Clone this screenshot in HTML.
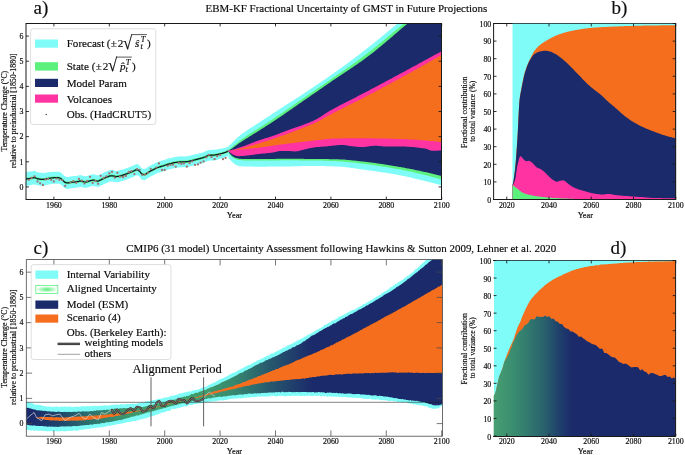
<!DOCTYPE html>
<html lang="en"><head><meta charset="utf-8"><title>EBM-KF Fractional Uncertainty of GMST</title>
<style>html,body{margin:0;padding:0;background:#fff}svg{display:block}text{stroke:#0c0c0c;stroke-width:.17px;stroke-linejoin:round}</style></head>
<body>
<svg width="685" height="455" viewBox="0 0 685 455">
<defs><clipPath id="ca"><rect x="26.0" y="23.5" width="415.5" height="176.0"/></clipPath>
<clipPath id="cb"><rect x="493.6" y="23.5" width="182" height="175.5"/></clipPath>
<clipPath id="cc"><rect x="26.3" y="259.6" width="416.2" height="176.6"/></clipPath>
<clipPath id="cd"><rect x="493.6" y="260.5" width="182" height="175.5"/></clipPath>
<linearGradient id="gc" gradientUnits="userSpaceOnUse" x1="32" y1="0" x2="312" y2="0"><stop offset="0" stop-color="#1b2a6b"/><stop offset="0.1" stop-color="#1f456c"/><stop offset="0.2" stop-color="#2b6f6e"/><stop offset="0.3" stop-color="#398f6f"/><stop offset="0.4" stop-color="#3f9c6d"/><stop offset="0.62" stop-color="#3f9c6d"/><stop offset="0.72" stop-color="#37886f"/><stop offset="0.85" stop-color="#27586e"/><stop offset="1" stop-color="#1b2a6b"/></linearGradient>
<linearGradient id="gd" gradientUnits="userSpaceOnUse" x1="493" y1="0" x2="572" y2="0"><stop offset="0" stop-color="#47a072"/><stop offset="0.3" stop-color="#38896f"/><stop offset="0.65" stop-color="#29616e"/><stop offset="0.85" stop-color="#1f3f6c"/><stop offset="1" stop-color="#1b2a6b"/></linearGradient>
<radialGradient id="gl" cx="0.5" cy="0.5" r="0.5" gradientTransform="translate(0.5 0.5) scale(1 0.8) translate(-0.5 -0.5)"><stop offset="0" stop-color="#5cf07d"/><stop offset="0.35" stop-color="#8df5a4"/><stop offset="1" stop-color="#ffffff"/></radialGradient>
</defs>
<g clip-path="url(#ca)">
<polygon points="26.0,171.9 26.7,171.9 27.4,171.8 28.1,171.8 28.8,171.7 29.5,171.6 30.2,171.5 30.9,171.4 31.6,171.3 32.3,171.2 33.0,171.1 33.7,171.0 34.4,171.0 35.1,171.1 35.8,171.4 36.5,171.7 37.2,172.0 37.9,172.2 38.6,172.4 39.3,172.6 40.0,172.7 40.7,172.8 41.4,172.8 42.1,172.8 42.8,172.9 43.5,172.9 44.2,172.9 44.9,172.9 45.6,172.8 46.3,172.6 47.0,172.4 47.7,172.3 48.4,172.2 49.1,172.1 49.8,172.1 50.5,172.0 51.2,171.9 51.9,171.9 52.6,171.8 53.3,171.7 54.0,171.7 54.7,171.7 55.4,171.7 56.1,171.7 56.8,171.7 57.5,171.7 58.3,171.7 59.0,171.8 59.7,172.0 60.4,172.4 61.1,172.7 61.8,173.4 62.5,174.1 63.2,174.8 63.9,175.5 64.6,176.1 65.3,176.5 66.0,176.7 66.7,176.9 67.4,177.0 68.1,177.0 68.8,176.9 69.5,176.7 70.2,176.5 70.9,176.4 71.6,176.3 72.3,176.2 73.0,176.2 73.7,176.1 74.4,176.1 75.1,176.0 75.8,176.0 76.5,175.9 77.2,175.8 77.9,175.7 78.6,175.6 79.3,175.3 80.0,175.1 80.7,175.2 81.4,175.3 82.1,175.5 82.8,175.7 83.5,175.9 84.2,176.0 84.9,176.2 85.6,176.2 86.3,176.1 87.0,175.9 87.7,175.7 88.4,175.6 89.1,175.3 89.8,175.1 90.5,174.8 91.2,174.7 91.9,174.5 92.6,174.3 93.3,174.3 94.0,174.4 94.7,174.5 95.4,174.7 96.1,174.9 96.8,175.2 97.5,175.4 98.2,175.3 98.9,175.0 99.6,174.6 100.3,174.3 101.0,174.0 101.7,173.7 102.4,173.3 103.1,173.0 103.8,172.7 104.5,172.3 105.2,172.0 105.9,171.7 106.6,171.4 107.3,171.2 108.0,170.9 108.7,170.6 109.4,170.3 110.1,170.1 110.8,170.0 111.5,170.0 112.2,170.1 112.9,170.1 113.6,170.2 114.3,170.5 115.0,170.7 115.7,170.9 116.4,170.9 117.1,170.8 117.8,170.7 118.5,170.6 119.2,170.4 119.9,170.3 120.6,170.1 121.4,169.9 122.1,169.7 122.8,169.5 123.5,169.2 124.2,169.0 124.9,168.8 125.6,168.5 126.3,168.3 127.0,168.0 127.7,167.8 128.4,167.5 129.1,167.2 129.8,166.9 130.5,166.7 131.2,166.4 131.9,166.1 132.6,165.8 133.3,165.6 134.0,165.3 134.7,164.9 135.4,164.5 136.1,164.1 136.8,164.0 137.5,164.2 138.2,164.6 138.9,165.0 139.6,165.5 140.3,166.5 141.0,167.6 141.7,168.3 142.4,168.6 143.1,168.8 143.8,168.9 144.5,169.0 145.2,168.8 145.9,168.4 146.6,168.0 147.3,167.5 148.0,167.0 148.7,166.5 149.4,166.1 150.1,165.7 150.8,165.3 151.5,165.0 152.2,164.6 152.9,164.3 153.6,163.9 154.3,163.6 155.0,163.2 155.7,162.9 156.4,162.5 157.1,162.2 157.8,162.0 158.5,161.7 159.2,161.5 159.9,161.3 160.6,161.1 161.3,160.8 162.0,160.6 162.7,160.4 163.4,160.2 164.1,160.0 164.8,159.8 165.5,159.5 166.2,159.3 166.9,159.0 167.6,158.8 168.3,158.6 169.0,158.5 169.7,158.3 170.4,158.1 171.1,158.0 171.8,157.8 172.5,157.6 173.2,157.4 173.9,157.3 174.6,157.1 175.3,157.0 176.0,156.9 176.7,156.8 177.4,156.7 178.1,156.6 178.8,156.5 179.5,156.5 180.2,156.4 180.9,156.3 181.6,156.3 182.3,156.3 183.0,156.4 183.7,156.4 184.4,156.4 185.2,156.4 185.9,156.3 186.6,156.3 187.3,156.2 188.0,156.1 188.7,156.0 189.4,155.8 190.1,155.6 190.8,155.5 191.5,155.3 192.2,155.1 192.9,154.9 193.6,154.7 194.3,154.6 195.0,154.4 195.7,154.2 196.4,154.0 197.1,153.9 197.8,153.7 198.5,153.5 199.2,153.4 199.9,153.2 200.6,153.0 201.3,152.9 202.0,152.7 202.7,152.5 203.4,152.2 204.1,151.9 204.8,151.6 205.5,151.3 206.2,151.1 206.9,150.8 207.6,150.5 208.3,150.2 209.0,150.0 209.7,150.0 210.4,149.9 211.1,149.9 211.8,149.9 212.5,149.8 213.2,149.8 213.9,149.8 214.6,149.7 215.3,149.6 216.0,149.6 216.7,149.5 217.4,149.4 218.1,149.3 218.8,149.1 219.5,148.9 220.2,148.8 220.9,148.7 221.6,148.5 222.3,148.4 223.0,148.2 223.7,148.1 224.4,147.9 225.1,147.7 225.8,147.5 226.5,147.2 227.2,147.0 227.9,146.7 228.6,146.3 228.6,155.5 227.9,155.9 227.2,156.3 226.5,156.6 225.8,157.0 225.1,157.2 224.4,157.5 223.7,157.8 223.0,158.0 222.3,158.2 221.6,158.4 220.9,158.6 220.2,158.8 219.5,159.1 218.8,159.3 218.1,159.5 217.4,159.8 216.7,159.9 216.0,160.1 215.3,160.2 214.6,160.3 213.9,160.4 213.2,160.4 212.5,160.5 211.8,160.5 211.1,160.5 210.4,160.6 209.7,160.6 209.0,160.7 208.3,160.9 207.6,161.1 206.9,161.4 206.2,161.7 205.5,162.0 204.8,162.3 204.1,162.6 203.4,162.9 202.7,163.2 202.0,163.4 201.3,163.6 200.6,163.8 199.9,163.9 199.2,164.1 198.5,164.3 197.8,164.5 197.1,164.6 196.4,164.8 195.7,165.0 195.0,165.2 194.3,165.3 193.6,165.5 192.9,165.7 192.2,165.9 191.5,166.1 190.8,166.3 190.1,166.5 189.4,166.6 188.7,166.8 188.0,166.9 187.3,167.0 186.6,167.1 185.9,167.2 185.2,167.2 184.4,167.2 183.7,167.2 183.0,167.2 182.3,167.2 181.6,167.2 180.9,167.2 180.2,167.3 179.5,167.4 178.8,167.5 178.1,167.6 177.4,167.7 176.7,167.7 176.0,167.8 175.3,168.0 174.6,168.1 173.9,168.2 173.2,168.4 172.5,168.6 171.8,168.8 171.1,169.0 170.4,169.1 169.7,169.3 169.0,169.5 168.3,169.6 167.6,169.8 166.9,170.0 166.2,170.3 165.5,170.5 164.8,170.8 164.1,171.1 163.4,171.3 162.7,171.5 162.0,171.7 161.3,171.9 160.6,172.1 159.9,172.4 159.2,172.6 158.5,172.8 157.8,173.1 157.1,173.3 156.4,173.6 155.7,174.0 155.0,174.3 154.3,174.7 153.6,175.1 152.9,175.4 152.2,175.8 151.5,176.1 150.8,176.5 150.1,176.8 149.4,177.2 148.7,177.7 148.0,178.2 147.3,178.7 146.6,179.1 145.9,179.6 145.2,180.0 144.5,180.2 143.8,180.1 143.1,180.0 142.4,179.8 141.7,179.6 141.0,178.8 140.3,177.7 139.6,176.8 138.9,176.3 138.2,175.8 137.5,175.5 136.8,175.3 136.1,175.4 135.4,175.8 134.7,176.2 134.0,176.6 133.3,176.9 132.6,177.2 131.9,177.4 131.2,177.7 130.5,178.0 129.8,178.3 129.1,178.6 128.4,178.9 127.7,179.1 127.0,179.4 126.3,179.7 125.6,179.9 124.9,180.2 124.2,180.4 123.5,180.6 122.8,180.9 122.1,181.1 121.4,181.3 120.6,181.5 119.9,181.7 119.2,181.9 118.5,182.0 117.8,182.1 117.1,182.3 116.4,182.3 115.7,182.3 115.0,182.2 114.3,181.9 113.6,181.7 112.9,181.6 112.2,181.6 111.5,181.5 110.8,181.5 110.1,181.6 109.4,181.8 108.7,182.1 108.0,182.4 107.3,182.7 106.6,183.0 105.9,183.3 105.2,183.6 104.5,183.9 103.8,184.2 103.1,184.6 102.4,184.9 101.7,185.2 101.0,185.6 100.3,185.9 99.6,186.2 98.9,186.6 98.2,186.9 97.5,187.0 96.8,186.8 96.1,186.6 95.4,186.4 94.7,186.2 94.0,186.0 93.3,186.0 92.6,186.0 91.9,186.1 91.2,186.3 90.5,186.5 89.8,186.7 89.1,187.0 88.4,187.3 87.7,187.5 87.0,187.6 86.3,187.8 85.6,187.9 84.9,187.9 84.2,187.8 83.5,187.6 82.8,187.4 82.1,187.3 81.4,187.1 80.7,186.9 80.0,186.9 79.3,187.1 78.6,187.4 77.9,187.5 77.2,187.6 76.5,187.7 75.8,187.8 75.1,187.8 74.4,187.9 73.7,187.9 73.0,188.0 72.3,188.1 71.6,188.2 70.9,188.3 70.2,188.4 69.5,188.6 68.8,188.7 68.1,188.9 67.4,188.9 66.7,188.8 66.0,188.6 65.3,188.4 64.6,188.0 63.9,187.4 63.2,186.7 62.5,186.0 61.8,185.3 61.1,184.7 60.4,184.3 59.7,184.0 59.0,183.8 58.3,183.7 57.5,183.7 56.8,183.7 56.1,183.7 55.4,183.7 54.7,183.7 54.0,183.7 53.3,183.8 52.6,183.9 51.9,184.0 51.2,184.1 50.5,184.2 49.8,184.4 49.1,184.5 48.4,184.6 47.7,184.8 47.0,184.9 46.3,185.1 45.6,185.4 44.9,185.5 44.2,185.6 43.5,185.6 42.8,185.7 42.1,185.7 41.4,185.7 40.7,185.7 40.0,185.7 39.3,185.6 38.6,185.5 37.9,185.3 37.2,185.2 36.5,185.0 35.8,184.7 35.1,184.4 34.4,184.4 33.7,184.5 33.0,184.6 32.3,184.7 31.6,184.9 30.9,185.1 30.2,185.2 29.5,185.4 28.8,185.5 28.1,185.6 27.4,185.7 26.7,185.8 26.0,185.9" fill="#7ffcf7"/>
<polygon points="26.0,177.6 26.7,177.6 27.4,177.5 28.1,177.4 28.8,177.3 29.5,177.2 30.2,177.1 30.9,176.9 31.6,176.8 32.3,176.7 33.0,176.5 33.7,176.4 34.4,176.4 35.1,176.5 35.8,176.7 36.5,177.0 37.2,177.3 37.9,177.5 38.6,177.6 39.3,177.8 40.0,177.9 40.7,178.0 41.4,178.0 42.1,178.0 42.8,178.0 43.5,178.0 44.2,178.0 44.9,177.9 45.6,177.8 46.3,177.6 47.0,177.4 47.7,177.2 48.4,177.1 49.1,177.0 49.8,176.9 50.5,176.8 51.2,176.7 51.9,176.6 52.6,176.5 53.3,176.5 54.0,176.4 54.7,176.4 55.4,176.4 56.1,176.4 56.8,176.4 57.5,176.4 58.3,176.4 59.0,176.5 59.7,176.7 60.4,177.0 61.1,177.4 61.8,178.0 62.5,178.7 63.2,179.4 63.9,180.1 64.6,180.8 65.3,181.1 66.0,181.3 66.7,181.5 67.4,181.6 68.1,181.6 68.8,181.5 69.5,181.3 70.2,181.2 70.9,181.0 71.6,180.9 72.3,180.8 73.0,180.8 73.7,180.7 74.4,180.7 75.1,180.6 75.8,180.6 76.5,180.5 77.2,180.4 77.9,180.3 78.6,180.2 79.3,179.9 80.0,179.7 80.7,179.8 81.4,179.9 82.1,180.1 82.8,180.3 83.5,180.4 84.2,180.6 84.9,180.7 85.6,180.8 86.3,180.7 87.0,180.5 87.7,180.3 88.4,180.1 89.1,179.9 89.8,179.6 90.5,179.4 91.2,179.2 91.9,179.0 92.6,178.9 93.3,178.8 94.0,178.9 94.7,179.1 95.4,179.2 96.1,179.4 96.8,179.7 97.5,179.9 98.2,179.8 98.9,179.5 99.6,179.1 100.3,178.8 101.0,178.5 101.7,178.1 102.4,177.8 103.1,177.5 103.8,177.1 104.5,176.8 105.2,176.5 105.9,176.2 106.6,175.9 107.3,175.6 108.0,175.4 108.7,175.1 109.4,174.8 110.1,174.5 110.8,174.5 111.5,174.5 112.2,174.5 112.9,174.6 113.6,174.7 114.3,174.9 115.0,175.1 115.7,175.3 116.4,175.3 117.1,175.2 117.8,175.1 118.5,175.0 119.2,174.9 119.9,174.7 120.6,174.5 121.4,174.3 122.1,174.1 122.8,173.9 123.5,173.6 124.2,173.4 124.9,173.2 125.6,172.9 126.3,172.7 127.0,172.4 127.7,172.2 128.4,171.9 129.1,171.6 129.8,171.3 130.5,171.0 131.2,170.7 131.9,170.5 132.6,170.2 133.3,169.9 134.0,169.6 134.7,169.2 135.4,168.8 136.1,168.5 136.8,168.4 137.5,168.5 138.2,168.9 138.9,169.3 139.6,169.9 140.3,170.8 141.0,171.9 141.7,172.6 142.4,172.9 143.1,173.1 143.8,173.2 144.5,173.3 145.2,173.1 145.9,172.7 146.6,172.3 147.3,171.8 148.0,171.3 148.7,170.8 149.4,170.4 150.1,170.0 150.8,169.6 151.5,169.2 152.2,168.9 152.9,168.6 153.6,168.2 154.3,167.8 155.0,167.5 155.7,167.1 156.4,166.8 157.1,166.5 157.8,166.2 158.5,166.0 159.2,165.7 159.9,165.5 160.6,165.3 161.3,165.1 162.0,164.9 162.7,164.7 163.4,164.5 164.1,164.2 164.8,164.0 165.5,163.7 166.2,163.5 166.9,163.2 167.6,163.0 168.3,162.8 169.0,162.7 169.7,162.5 170.4,162.3 171.1,162.2 171.8,162.0 172.5,161.8 173.2,161.6 173.9,161.4 174.6,161.3 175.3,161.2 176.0,161.1 176.7,161.0 177.4,160.9 178.1,160.8 178.8,160.7 179.5,160.6 180.2,160.5 180.9,160.5 181.6,160.5 182.3,160.5 183.0,160.5 183.7,160.5 184.4,160.5 185.2,160.5 185.9,160.4 186.6,160.4 187.3,160.3 188.0,160.2 188.7,160.1 189.4,159.9 190.1,159.8 190.8,159.6 191.5,159.4 192.2,159.2 192.9,159.0 193.6,158.8 194.3,158.7 195.0,158.5 195.7,158.3 196.4,158.1 197.1,158.0 197.8,157.8 198.5,157.6 199.2,157.4 199.9,157.3 200.6,157.1 201.3,156.9 202.0,156.7 202.7,156.5 203.4,156.3 204.1,156.0 204.8,155.7 205.5,155.4 206.2,155.1 206.9,154.8 207.6,154.5 208.3,154.2 209.0,154.1 209.7,154.0 210.4,153.9 211.1,153.9 211.8,153.9 212.5,153.9 213.2,153.8 213.9,153.8 214.6,153.7 215.3,153.6 216.0,153.5 216.7,153.4 217.4,153.3 218.1,153.1 218.8,152.9 219.5,152.7 220.2,152.5 220.9,152.4 221.6,152.2 222.3,152.0 223.0,151.8 223.7,151.6 224.4,151.4 225.1,151.2 225.8,150.9 226.5,150.6 227.2,150.3 227.9,150.0 228.6,149.6 228.6,152.2 227.9,152.6 227.2,152.9 226.5,153.2 225.8,153.5 225.1,153.8 224.4,154.0 223.7,154.2 223.0,154.4 222.3,154.6 221.6,154.8 220.9,155.0 220.2,155.1 219.5,155.3 218.8,155.5 218.1,155.7 217.4,155.9 216.7,156.0 216.0,156.1 215.3,156.2 214.6,156.3 213.9,156.4 213.2,156.4 212.5,156.5 211.8,156.5 211.1,156.5 210.4,156.5 209.7,156.6 209.0,156.7 208.3,156.8 207.6,157.1 206.9,157.4 206.2,157.7 205.5,158.0 204.8,158.3 204.1,158.6 203.4,158.9 202.7,159.1 202.0,159.3 201.3,159.5 200.6,159.7 199.9,159.9 199.2,160.0 198.5,160.2 197.8,160.4 197.1,160.6 196.4,160.7 195.7,160.9 195.0,161.1 194.3,161.3 193.6,161.4 192.9,161.6 192.2,161.8 191.5,162.0 190.8,162.2 190.1,162.4 189.4,162.5 188.7,162.7 188.0,162.8 187.3,162.9 186.6,163.0 185.9,163.0 185.2,163.1 184.4,163.1 183.7,163.1 183.0,163.1 182.3,163.1 181.6,163.1 180.9,163.1 180.2,163.1 179.5,163.2 178.8,163.3 178.1,163.4 177.4,163.5 176.7,163.6 176.0,163.7 175.3,163.8 174.6,163.9 173.9,164.0 173.2,164.2 172.5,164.4 171.8,164.6 171.1,164.8 170.4,164.9 169.7,165.1 169.0,165.3 168.3,165.4 167.6,165.6 166.9,165.8 166.2,166.1 165.5,166.3 164.8,166.6 164.1,166.8 163.4,167.1 162.7,167.3 162.0,167.5 161.3,167.7 160.6,167.9 159.9,168.1 159.2,168.3 158.5,168.6 157.8,168.8 157.1,169.1 156.4,169.4 155.7,169.7 155.0,170.1 154.3,170.4 153.6,170.8 152.9,171.2 152.2,171.5 151.5,171.8 150.8,172.2 150.1,172.6 149.4,173.0 148.7,173.4 148.0,173.9 147.3,174.4 146.6,174.9 145.9,175.3 145.2,175.7 144.5,175.9 143.8,175.8 143.1,175.7 142.4,175.5 141.7,175.2 141.0,174.5 140.3,173.4 139.6,172.5 138.9,171.9 138.2,171.5 137.5,171.1 136.8,171.0 136.1,171.1 135.4,171.4 134.7,171.8 134.0,172.2 133.3,172.5 132.6,172.8 131.9,173.1 131.2,173.3 130.5,173.6 129.8,173.9 129.1,174.2 128.4,174.5 127.7,174.8 127.0,175.0 126.3,175.3 125.6,175.5 124.9,175.8 124.2,176.0 123.5,176.2 122.8,176.5 122.1,176.7 121.4,176.9 120.6,177.1 119.9,177.3 119.2,177.5 118.5,177.6 117.8,177.7 117.1,177.8 116.4,177.9 115.7,177.9 115.0,177.7 114.3,177.5 113.6,177.3 112.9,177.2 112.2,177.1 111.5,177.1 110.8,177.1 110.1,177.1 109.4,177.4 108.7,177.7 108.0,178.0 107.3,178.2 106.6,178.5 105.9,178.8 105.2,179.1 104.5,179.4 103.8,179.7 103.1,180.1 102.4,180.4 101.7,180.7 101.0,181.1 100.3,181.4 99.6,181.7 98.9,182.1 98.2,182.4 97.5,182.5 96.8,182.3 96.1,182.0 95.4,181.8 94.7,181.7 94.0,181.5 93.3,181.4 92.6,181.5 91.9,181.6 91.2,181.8 90.5,182.0 89.8,182.2 89.1,182.5 88.4,182.7 87.7,182.9 87.0,183.1 86.3,183.3 85.6,183.4 84.9,183.3 84.2,183.2 83.5,183.0 82.8,182.9 82.1,182.7 81.4,182.5 80.7,182.4 80.0,182.3 79.3,182.5 78.6,182.8 77.9,182.9 77.2,183.0 76.5,183.1 75.8,183.2 75.1,183.2 74.4,183.3 73.7,183.3 73.0,183.4 72.3,183.4 71.6,183.5 70.9,183.6 70.2,183.8 69.5,183.9 68.8,184.1 68.1,184.2 67.4,184.2 66.7,184.1 66.0,183.9 65.3,183.7 64.6,183.4 63.9,182.7 63.2,182.0 62.5,181.3 61.8,180.6 61.1,180.0 60.4,179.6 59.7,179.3 59.0,179.1 58.3,179.0 57.5,179.0 56.8,179.0 56.1,179.0 55.4,179.0 54.7,179.0 54.0,179.0 53.3,179.1 52.6,179.1 51.9,179.2 51.2,179.3 50.5,179.4 49.8,179.5 49.1,179.6 48.4,179.7 47.7,179.8 47.0,180.0 46.3,180.2 45.6,180.4 44.9,180.5 44.2,180.6 43.5,180.6 42.8,180.6 42.1,180.6 41.4,180.6 40.7,180.6 40.0,180.5 39.3,180.4 38.6,180.2 37.9,180.1 37.2,179.9 36.5,179.6 35.8,179.3 35.1,179.1 34.4,179.0 33.7,179.0 33.0,179.1 32.3,179.3 31.6,179.4 30.9,179.5 30.2,179.7 29.5,179.8 28.8,179.9 28.1,180.0 27.4,180.1 26.7,180.2 26.0,180.2" fill="#5cf07d"/>
<polygon points="228.4,146.2 229.4,145.3 230.4,144.5 231.4,143.5 232.4,142.6 233.4,141.6 234.4,140.5 235.4,139.5 236.4,138.5 237.4,137.6 238.4,136.7 239.4,135.9 240.4,135.1 241.4,134.3 242.4,133.6 243.4,132.9 244.4,132.2 245.4,131.4 246.4,130.8 247.4,130.1 248.4,129.4 249.4,128.8 250.4,128.1 251.4,127.5 252.4,126.9 253.4,126.2 254.4,125.6 255.4,125.0 256.4,124.3 257.4,123.7 258.4,123.1 259.4,122.4 260.4,121.7 261.4,121.1 262.4,120.4 263.4,119.8 264.4,119.1 265.4,118.5 266.4,117.8 267.4,117.1 268.4,116.5 269.4,115.8 270.4,115.2 271.4,114.5 272.4,113.8 273.4,113.2 274.4,112.5 275.4,111.9 276.4,111.2 277.4,110.6 278.4,109.9 279.4,109.2 280.4,108.6 281.4,108.0 282.4,107.3 283.4,106.7 284.4,106.0 285.4,105.4 286.4,104.8 287.4,104.1 288.4,103.5 289.4,102.8 290.4,102.2 291.4,101.6 292.4,100.9 293.4,100.3 294.4,99.6 295.4,99.0 296.4,98.3 297.4,97.7 298.4,97.0 299.4,96.4 300.4,95.7 301.4,95.1 302.4,94.4 303.4,93.7 304.4,93.1 305.4,92.4 306.4,91.8 307.4,91.1 308.4,90.4 309.4,89.8 310.4,89.1 311.4,88.4 312.4,87.8 313.4,87.1 314.4,86.4 315.4,85.8 316.4,85.1 317.4,84.4 318.4,83.8 319.4,83.1 320.4,82.4 321.4,81.7 322.4,81.0 323.4,80.4 324.4,79.7 325.4,79.0 326.4,78.3 327.4,77.6 328.4,76.9 329.4,76.2 330.4,75.5 331.4,74.8 332.4,74.1 333.4,73.4 334.4,72.6 335.5,71.9 336.5,71.2 337.5,70.5 338.5,69.8 339.5,69.1 340.5,68.3 341.5,67.6 342.5,66.9 343.5,66.1 344.5,65.4 345.5,64.7 346.5,63.9 347.5,63.2 348.5,62.5 349.5,61.7 350.5,61.0 351.5,60.2 352.5,59.5 353.5,58.7 354.5,58.0 355.5,57.2 356.5,56.5 357.5,55.7 358.5,55.0 359.5,54.2 360.5,53.4 361.5,52.7 362.5,51.9 363.5,51.1 364.5,50.4 365.5,49.6 366.5,48.8 367.5,48.0 368.5,47.2 369.5,46.5 370.5,45.7 371.5,44.9 372.5,44.1 373.5,43.3 374.5,42.5 375.5,41.7 376.5,40.9 377.5,40.1 378.5,39.2 379.5,38.4 380.5,37.6 381.5,36.8 382.5,36.0 383.5,35.1 384.5,34.3 385.5,33.5 386.5,32.7 387.5,31.8 388.5,31.0 389.5,30.2 390.5,29.3 391.5,28.5 392.5,27.7 393.5,26.8 394.5,26.0 395.5,25.2 396.5,24.3 397.5,23.5 398.5,22.7 399.5,21.9 400.5,21.0 401.5,20.2 402.5,19.4 403.5,18.5 404.5,17.7 405.5,16.9 406.5,16.0 407.5,15.2 408.5,14.4 409.5,13.5 410.5,12.7 411.5,11.9 412.5,11.0 413.5,10.2 414.5,9.4 415.5,8.5 416.5,7.7 417.5,6.8 418.5,6.0 419.5,5.2 420.5,4.3 421.5,3.5 422.5,2.6 423.5,1.8 424.5,0.9 425.5,0.1 426.5,-0.7 427.5,-1.6 428.5,-2.4 429.5,-3.3 430.5,-4.1 431.5,-5.0 432.5,-5.8 433.5,-6.7 434.5,-7.5 435.5,-8.4 436.5,-9.2 437.5,-10.1 438.5,-10.9 439.5,-11.8 440.5,-12.6 441.5,-13.5 441.5,185.2 440.5,185.0 439.5,184.7 438.5,184.4 437.5,184.2 436.5,183.9 435.5,183.7 434.5,183.4 433.5,183.1 432.5,182.9 431.5,182.6 430.5,182.4 429.5,182.1 428.5,181.9 427.5,181.6 426.5,181.4 425.5,181.1 424.5,180.9 423.5,180.6 422.5,180.4 421.5,180.1 420.5,179.9 419.5,179.6 418.5,179.4 417.5,179.2 416.5,178.9 415.5,178.7 414.5,178.4 413.5,178.2 412.5,177.9 411.5,177.7 410.5,177.5 409.5,177.2 408.5,177.0 407.5,176.8 406.5,176.6 405.5,176.4 404.5,176.1 403.5,175.9 402.5,175.7 401.5,175.5 400.5,175.3 399.5,175.2 398.5,175.0 397.5,174.8 396.5,174.6 395.5,174.4 394.5,174.3 393.5,174.1 392.5,173.9 391.5,173.7 390.5,173.6 389.5,173.4 388.5,173.3 387.5,173.1 386.5,172.9 385.5,172.8 384.5,172.6 383.5,172.5 382.5,172.3 381.5,172.2 380.5,172.0 379.5,171.9 378.5,171.7 377.5,171.6 376.5,171.4 375.5,171.3 374.5,171.1 373.5,171.0 372.5,170.9 371.5,170.7 370.5,170.6 369.5,170.4 368.5,170.3 367.5,170.2 366.5,170.0 365.5,169.9 364.5,169.8 363.5,169.6 362.5,169.5 361.5,169.4 360.5,169.2 359.5,169.1 358.5,168.9 357.5,168.8 356.5,168.6 355.5,168.5 354.5,168.3 353.5,168.2 352.5,168.0 351.5,167.9 350.5,167.8 349.5,167.6 348.5,167.5 347.5,167.4 346.5,167.2 345.5,167.1 344.5,167.0 343.5,166.9 342.5,166.8 341.5,166.7 340.5,166.7 339.5,166.6 338.5,166.5 337.5,166.5 336.5,166.5 335.5,166.4 334.4,166.4 333.4,166.4 332.4,166.3 331.4,166.3 330.4,166.3 329.4,166.2 328.4,166.2 327.4,166.2 326.4,166.2 325.4,166.1 324.4,166.1 323.4,166.1 322.4,166.1 321.4,166.1 320.4,166.0 319.4,166.0 318.4,166.0 317.4,166.0 316.4,166.0 315.4,166.0 314.4,166.0 313.4,166.0 312.4,166.0 311.4,166.0 310.4,166.0 309.4,166.0 308.4,166.0 307.4,166.1 306.4,166.1 305.4,166.1 304.4,166.1 303.4,166.1 302.4,166.1 301.4,166.2 300.4,166.2 299.4,166.2 298.4,166.2 297.4,166.2 296.4,166.3 295.4,166.3 294.4,166.3 293.4,166.3 292.4,166.3 291.4,166.4 290.4,166.4 289.4,166.4 288.4,166.4 287.4,166.4 286.4,166.4 285.4,166.4 284.4,166.4 283.4,166.5 282.4,166.5 281.4,166.5 280.4,166.5 279.4,166.5 278.4,166.5 277.4,166.5 276.4,166.6 275.4,166.6 274.4,166.6 273.4,166.6 272.4,166.6 271.4,166.6 270.4,166.6 269.4,166.6 268.4,166.6 267.4,166.7 266.4,166.7 265.4,166.7 264.4,166.7 263.4,166.7 262.4,166.7 261.4,166.7 260.4,166.7 259.4,166.7 258.4,166.7 257.4,166.7 256.4,166.7 255.4,166.7 254.4,166.7 253.4,166.7 252.4,166.6 251.4,166.6 250.4,166.6 249.4,166.6 248.4,166.5 247.4,166.5 246.4,166.5 245.4,166.4 244.4,166.4 243.4,166.4 242.4,166.3 241.4,166.2 240.4,166.0 239.4,165.9 238.4,165.7 237.4,165.4 236.4,165.1 235.4,164.6 234.4,163.9 233.4,163.1 232.4,162.2 231.4,161.2 230.4,160.1 229.4,158.9 228.4,157.5" fill="#7ffcf7" />
<polygon points="228.4,150.0 229.4,149.1 230.4,148.3 231.4,147.5 232.4,146.6 233.4,145.8 234.4,145.0 235.4,144.2 236.4,143.4 237.4,142.6 238.4,141.8 239.4,141.0 240.4,140.3 241.4,139.5 242.4,138.8 243.4,138.1 244.4,137.4 245.4,136.7 246.4,136.0 247.4,135.3 248.4,134.7 249.4,134.1 250.4,133.4 251.4,132.8 252.4,132.2 253.4,131.6 254.4,130.9 255.4,130.3 256.4,129.7 257.4,129.1 258.4,128.4 259.4,127.8 260.4,127.2 261.4,126.5 262.4,125.9 263.4,125.3 264.4,124.6 265.4,124.0 266.4,123.3 267.4,122.7 268.4,122.1 269.4,121.4 270.4,120.8 271.4,120.1 272.4,119.4 273.4,118.8 274.4,118.1 275.4,117.5 276.4,116.8 277.4,116.1 278.4,115.4 279.4,114.7 280.4,114.1 281.4,113.4 282.4,112.7 283.4,112.0 284.4,111.3 285.4,110.6 286.4,109.9 287.4,109.2 288.4,108.5 289.4,107.8 290.4,107.1 291.4,106.4 292.4,105.7 293.4,105.0 294.4,104.3 295.4,103.7 296.4,103.0 297.4,102.3 298.4,101.6 299.4,100.9 300.4,100.2 301.4,99.5 302.4,98.8 303.4,98.2 304.4,97.5 305.4,96.8 306.4,96.1 307.4,95.4 308.4,94.7 309.4,94.1 310.4,93.4 311.4,92.7 312.4,92.0 313.4,91.4 314.4,90.7 315.4,90.0 316.4,89.3 317.4,88.6 318.4,88.0 319.4,87.3 320.4,86.6 321.4,85.9 322.4,85.2 323.4,84.5 324.4,83.8 325.4,83.2 326.4,82.5 327.4,81.8 328.4,81.1 329.4,80.4 330.4,79.7 331.4,79.0 332.4,78.3 333.4,77.6 334.4,76.9 335.5,76.2 336.5,75.5 337.5,74.8 338.5,74.1 339.5,73.4 340.5,72.7 341.5,72.0 342.5,71.3 343.5,70.6 344.5,69.9 345.5,69.2 346.5,68.5 347.5,67.8 348.5,67.1 349.5,66.4 350.5,65.7 351.5,65.0 352.5,64.3 353.5,63.6 354.5,62.9 355.5,62.2 356.5,61.4 357.5,60.7 358.5,60.0 359.5,59.3 360.5,58.5 361.5,57.8 362.5,57.0 363.5,56.3 364.5,55.6 365.5,54.8 366.5,54.0 367.5,53.3 368.5,52.5 369.5,51.8 370.5,51.0 371.5,50.2 372.5,49.4 373.5,48.6 374.5,47.8 375.5,47.0 376.5,46.2 377.5,45.4 378.5,44.6 379.5,43.8 380.5,43.0 381.5,42.2 382.5,41.3 383.5,40.5 384.5,39.7 385.5,38.8 386.5,38.0 387.5,37.2 388.5,36.3 389.5,35.5 390.5,34.7 391.5,33.8 392.5,33.0 393.5,32.1 394.5,31.3 395.5,30.4 396.5,29.6 397.5,28.8 398.5,27.9 399.5,27.1 400.5,26.2 401.5,25.4 402.5,24.6 403.5,23.7 404.5,22.9 405.5,22.1 406.5,21.2 407.5,20.4 408.5,19.5 409.5,18.7 410.5,17.9 411.5,17.0 412.5,16.2 413.5,15.3 414.5,14.5 415.5,13.7 416.5,12.8 417.5,12.0 418.5,11.1 419.5,10.3 420.5,9.4 421.5,8.6 422.5,7.7 423.5,6.9 424.5,6.0 425.5,5.2 426.5,4.3 427.5,3.5 428.5,2.6 429.5,1.8 430.5,0.9 431.5,0.1 432.5,-0.8 433.5,-1.6 434.5,-2.5 435.5,-3.3 436.5,-4.2 437.5,-5.1 438.5,-5.9 439.5,-6.8 440.5,-7.6 441.5,-8.5 441.5,179.5 440.5,179.2 439.5,178.9 438.5,178.6 437.5,178.3 436.5,178.1 435.5,177.8 434.5,177.5 433.5,177.2 432.5,176.9 431.5,176.7 430.5,176.4 429.5,176.1 428.5,175.9 427.5,175.6 426.5,175.4 425.5,175.1 424.5,174.9 423.5,174.6 422.5,174.4 421.5,174.1 420.5,173.9 419.5,173.7 418.5,173.4 417.5,173.2 416.5,173.0 415.5,172.7 414.5,172.5 413.5,172.3 412.5,172.1 411.5,171.8 410.5,171.6 409.5,171.4 408.5,171.2 407.5,171.0 406.5,170.8 405.5,170.6 404.5,170.4 403.5,170.2 402.5,170.0 401.5,169.8 400.5,169.6 399.5,169.4 398.5,169.2 397.5,169.0 396.5,168.9 395.5,168.7 394.5,168.5 393.5,168.3 392.5,168.2 391.5,168.0 390.5,167.8 389.5,167.6 388.5,167.5 387.5,167.3 386.5,167.1 385.5,167.0 384.5,166.8 383.5,166.7 382.5,166.5 381.5,166.3 380.5,166.2 379.5,166.0 378.5,165.9 377.5,165.7 376.5,165.6 375.5,165.4 374.5,165.3 373.5,165.1 372.5,165.0 371.5,164.9 370.5,164.7 369.5,164.6 368.5,164.5 367.5,164.3 366.5,164.2 365.5,164.1 364.5,163.9 363.5,163.8 362.5,163.7 361.5,163.6 360.5,163.5 359.5,163.3 358.5,163.2 357.5,163.1 356.5,163.0 355.5,162.8 354.5,162.7 353.5,162.6 352.5,162.5 351.5,162.4 350.5,162.3 349.5,162.2 348.5,162.1 347.5,162.0 346.5,161.9 345.5,161.8 344.5,161.7 343.5,161.6 342.5,161.5 341.5,161.4 340.5,161.4 339.5,161.3 338.5,161.2 337.5,161.2 336.5,161.2 335.5,161.1 334.4,161.1 333.4,161.0 332.4,161.0 331.4,160.9 330.4,160.9 329.4,160.9 328.4,160.8 327.4,160.8 326.4,160.8 325.4,160.7 324.4,160.7 323.4,160.7 322.4,160.6 321.4,160.6 320.4,160.6 319.4,160.6 318.4,160.6 317.4,160.5 316.4,160.5 315.4,160.5 314.4,160.5 313.4,160.5 312.4,160.5 311.4,160.5 310.4,160.4 309.4,160.4 308.4,160.4 307.4,160.4 306.4,160.4 305.4,160.4 304.4,160.4 303.4,160.4 302.4,160.4 301.4,160.4 300.4,160.4 299.4,160.3 298.4,160.3 297.4,160.3 296.4,160.3 295.4,160.3 294.4,160.3 293.4,160.3 292.4,160.3 291.4,160.3 290.4,160.3 289.4,160.3 288.4,160.3 287.4,160.3 286.4,160.3 285.4,160.3 284.4,160.3 283.4,160.3 282.4,160.3 281.4,160.3 280.4,160.3 279.4,160.3 278.4,160.4 277.4,160.4 276.4,160.4 275.4,160.4 274.4,160.4 273.4,160.4 272.4,160.4 271.4,160.4 270.4,160.4 269.4,160.4 268.4,160.4 267.4,160.5 266.4,160.5 265.4,160.5 264.4,160.5 263.4,160.5 262.4,160.5 261.4,160.5 260.4,160.5 259.4,160.5 258.4,160.5 257.4,160.5 256.4,160.5 255.4,160.5 254.4,160.5 253.4,160.5 252.4,160.5 251.4,160.5 250.4,160.5 249.4,160.5 248.4,160.5 247.4,160.4 246.4,160.4 245.4,160.4 244.4,160.4 243.4,160.4 242.4,160.3 241.4,160.2 240.4,160.1 239.4,160.0 238.4,159.9 237.4,159.7 236.4,159.5 235.4,159.1 234.4,158.6 233.4,158.0 232.4,157.3 231.4,156.4 230.4,155.3 229.4,153.9 228.4,152.4" fill="#5cf07d" />
<polygon points="228.4,150.6 229.4,150.1 230.4,149.6 231.4,148.9 232.4,148.3 233.4,147.5 234.4,146.7 235.4,145.9 236.4,145.2 237.4,144.4 238.4,143.7 239.4,143.1 240.4,142.4 241.4,141.7 242.4,141.1 243.4,140.4 244.4,139.8 245.4,139.1 246.4,138.5 247.4,137.9 248.4,137.2 249.4,136.6 250.4,136.0 251.4,135.4 252.4,134.8 253.4,134.1 254.4,133.5 255.4,132.9 256.4,132.3 257.4,131.7 258.4,131.0 259.4,130.4 260.4,129.8 261.4,129.1 262.4,128.5 263.4,127.9 264.4,127.2 265.4,126.6 266.4,126.0 267.4,125.3 268.4,124.7 269.4,124.0 270.4,123.4 271.4,122.7 272.4,122.1 273.4,121.4 274.4,120.8 275.4,120.1 276.4,119.5 277.4,118.8 278.4,118.1 279.4,117.4 280.4,116.8 281.4,116.1 282.4,115.4 283.4,114.7 284.4,114.0 285.4,113.3 286.4,112.6 287.4,111.9 288.4,111.2 289.4,110.5 290.4,109.8 291.4,109.2 292.4,108.5 293.4,107.8 294.4,107.1 295.4,106.4 296.4,105.7 297.4,105.0 298.4,104.3 299.4,103.6 300.4,102.9 301.4,102.2 302.4,101.5 303.4,100.8 304.4,100.1 305.4,99.5 306.4,98.8 307.4,98.1 308.4,97.4 309.4,96.7 310.4,96.0 311.4,95.3 312.4,94.6 313.4,93.9 314.4,93.2 315.4,92.5 316.4,91.9 317.4,91.2 318.4,90.5 319.4,89.8 320.4,89.1 321.4,88.4 322.4,87.7 323.4,87.0 324.4,86.3 325.4,85.6 326.4,85.0 327.4,84.3 328.4,83.6 329.4,82.9 330.4,82.2 331.4,81.5 332.4,80.8 333.4,80.1 334.4,79.5 335.5,78.8 336.5,78.1 337.5,77.4 338.5,76.8 339.5,76.1 340.5,75.4 341.5,74.8 342.5,74.1 343.5,73.4 344.5,72.8 345.5,72.1 346.5,71.4 347.5,70.8 348.5,70.1 349.5,69.4 350.5,68.7 351.5,68.1 352.5,67.4 353.5,66.7 354.5,66.0 355.5,65.3 356.5,64.7 357.5,64.0 358.5,63.3 359.5,62.6 360.5,61.9 361.5,61.2 362.5,60.4 363.5,59.7 364.5,59.0 365.5,58.3 366.5,57.5 367.5,56.8 368.5,56.0 369.5,55.3 370.5,54.5 371.5,53.7 372.5,53.0 373.5,52.2 374.5,51.4 375.5,50.6 376.5,49.8 377.5,49.0 378.5,48.1 379.5,47.3 380.5,46.5 381.5,45.7 382.5,44.8 383.5,44.0 384.5,43.2 385.5,42.3 386.5,41.5 387.5,40.6 388.5,39.8 389.5,38.9 390.5,38.1 391.5,37.2 392.5,36.4 393.5,35.5 394.5,34.6 395.5,33.8 396.5,32.9 397.5,32.1 398.5,31.2 399.5,30.3 400.5,29.5 401.5,28.6 402.5,27.8 403.5,26.9 404.5,26.1 405.5,25.2 406.5,24.4 407.5,23.5 408.5,22.7 409.5,21.8 410.5,21.0 411.5,20.1 412.5,19.3 413.5,18.4 414.5,17.6 415.5,16.7 416.5,15.9 417.5,15.0 418.5,14.2 419.5,13.3 420.5,12.5 421.5,11.6 422.5,10.8 423.5,9.9 424.5,9.1 425.5,8.2 426.5,7.4 427.5,6.5 428.5,5.7 429.5,4.8 430.5,4.0 431.5,3.1 432.5,2.2 433.5,1.4 434.5,0.5 435.5,-0.3 436.5,-1.2 437.5,-2.1 438.5,-2.9 439.5,-3.8 440.5,-4.6 441.5,-5.5 441.5,176.0 440.5,175.7 439.5,175.5 438.5,175.2 437.5,175.0 436.5,174.7 435.5,174.5 434.5,174.2 433.5,174.0 432.5,173.7 431.5,173.5 430.5,173.3 429.5,173.0 428.5,172.8 427.5,172.6 426.5,172.3 425.5,172.1 424.5,171.9 423.5,171.7 422.5,171.4 421.5,171.2 420.5,171.0 419.5,170.8 418.5,170.6 417.5,170.4 416.5,170.2 415.5,170.0 414.5,169.8 413.5,169.5 412.5,169.3 411.5,169.1 410.5,168.9 409.5,168.7 408.5,168.6 407.5,168.4 406.5,168.2 405.5,168.0 404.5,167.8 403.5,167.6 402.5,167.4 401.5,167.3 400.5,167.1 399.5,166.9 398.5,166.7 397.5,166.6 396.5,166.4 395.5,166.2 394.5,166.1 393.5,165.9 392.5,165.7 391.5,165.6 390.5,165.4 389.5,165.2 388.5,165.1 387.5,164.9 386.5,164.8 385.5,164.6 384.5,164.4 383.5,164.3 382.5,164.1 381.5,164.0 380.5,163.8 379.5,163.7 378.5,163.5 377.5,163.4 376.5,163.3 375.5,163.1 374.5,163.0 373.5,162.8 372.5,162.7 371.5,162.6 370.5,162.4 369.5,162.3 368.5,162.2 367.5,162.1 366.5,162.0 365.5,161.8 364.5,161.7 363.5,161.6 362.5,161.5 361.5,161.4 360.5,161.3 359.5,161.2 358.5,161.1 357.5,160.9 356.5,160.8 355.5,160.7 354.5,160.6 353.5,160.5 352.5,160.4 351.5,160.3 350.5,160.2 349.5,160.1 348.5,160.0 347.5,159.9 346.5,159.8 345.5,159.7 344.5,159.6 343.5,159.6 342.5,159.5 341.5,159.5 340.5,159.4 339.5,159.4 338.5,159.3 337.5,159.3 336.5,159.3 335.5,159.3 334.4,159.2 333.4,159.2 332.4,159.2 331.4,159.2 330.4,159.2 329.4,159.2 328.4,159.1 327.4,159.1 326.4,159.1 325.4,159.1 324.4,159.1 323.4,159.1 322.4,159.1 321.4,159.1 320.4,159.1 319.4,159.0 318.4,159.0 317.4,159.0 316.4,159.0 315.4,159.0 314.4,159.0 313.4,159.0 312.4,159.0 311.4,159.0 310.4,158.9 309.4,158.9 308.4,158.9 307.4,158.9 306.4,158.9 305.4,158.9 304.4,158.9 303.4,158.8 302.4,158.8 301.4,158.8 300.4,158.8 299.4,158.8 298.4,158.8 297.4,158.8 296.4,158.7 295.4,158.7 294.4,158.7 293.4,158.7 292.4,158.7 291.4,158.7 290.4,158.7 289.4,158.7 288.4,158.7 287.4,158.7 286.4,158.7 285.4,158.7 284.4,158.7 283.4,158.7 282.4,158.7 281.4,158.8 280.4,158.8 279.4,158.8 278.4,158.8 277.4,158.8 276.4,158.8 275.4,158.9 274.4,158.9 273.4,158.9 272.4,158.9 271.4,158.9 270.4,159.0 269.4,159.0 268.4,159.0 267.4,159.0 266.4,159.0 265.4,159.0 264.4,159.1 263.4,159.1 262.4,159.1 261.4,159.1 260.4,159.1 259.4,159.1 258.4,159.1 257.4,159.1 256.4,159.1 255.4,159.1 254.4,159.1 253.4,159.1 252.4,159.1 251.4,159.1 250.4,159.1 249.4,159.1 248.4,159.1 247.4,159.1 246.4,159.1 245.4,159.1 244.4,159.1 243.4,159.1 242.4,159.0 241.4,158.9 240.4,158.8 239.4,158.7 238.4,158.5 237.4,158.3 236.4,158.1 235.4,157.7 234.4,157.3 233.4,156.8 232.4,156.1 231.4,155.3 230.4,154.2 229.4,153.0 228.4,151.6" fill="#1b2a6b" />
<polygon points="228.4,150.9 229.4,150.6 230.4,150.3 231.4,150.1 232.4,149.8 233.4,149.5 234.4,149.2 235.4,148.9 236.4,148.6 237.4,148.2 238.4,147.9 239.4,147.6 240.4,147.3 241.4,146.9 242.4,146.6 243.4,146.3 244.4,145.9 245.4,145.6 246.4,145.2 247.4,144.8 248.4,144.4 249.4,144.0 250.4,143.6 251.4,143.2 252.4,142.8 253.4,142.4 254.4,142.0 255.4,141.6 256.4,141.3 257.4,140.9 258.4,140.5 259.4,140.2 260.4,139.9 261.4,139.5 262.4,139.2 263.4,138.9 264.4,138.6 265.4,138.3 266.4,138.0 267.4,137.7 268.4,137.4 269.4,137.1 270.4,136.8 271.4,136.5 272.4,136.1 273.4,135.8 274.4,135.4 275.4,135.1 276.4,134.7 277.4,134.3 278.4,133.9 279.4,133.5 280.4,133.1 281.4,132.7 282.4,132.3 283.4,132.0 284.4,131.6 285.4,131.2 286.4,130.8 287.4,130.4 288.4,130.0 289.4,129.7 290.4,129.3 291.4,129.0 292.4,128.6 293.4,128.3 294.4,128.0 295.4,127.6 296.4,127.3 297.4,126.9 298.4,126.6 299.4,126.3 300.4,125.9 301.4,125.5 302.4,125.2 303.4,124.8 304.4,124.4 305.4,124.0 306.4,123.6 307.4,123.3 308.4,122.9 309.4,122.5 310.4,122.1 311.4,121.6 312.4,121.2 313.4,120.7 314.4,120.3 315.4,119.8 316.4,119.3 317.4,118.7 318.4,118.1 319.4,117.5 320.4,116.9 321.4,116.2 322.4,115.6 323.4,114.9 324.4,114.3 325.4,113.6 326.4,113.0 327.4,112.3 328.4,111.7 329.4,111.1 330.4,110.5 331.4,110.0 332.4,109.4 333.4,108.9 334.4,108.3 335.5,107.8 336.5,107.2 337.5,106.7 338.5,106.1 339.5,105.6 340.5,105.1 341.5,104.5 342.5,104.0 343.5,103.5 344.5,103.0 345.5,102.5 346.5,101.9 347.5,101.4 348.5,100.9 349.5,100.4 350.5,99.9 351.5,99.4 352.5,98.9 353.5,98.4 354.5,97.9 355.5,97.4 356.5,96.9 357.5,96.3 358.5,95.8 359.5,95.3 360.5,94.8 361.5,94.3 362.5,93.8 363.5,93.3 364.5,92.8 365.5,92.2 366.5,91.7 367.5,91.2 368.5,90.7 369.5,90.2 370.5,89.6 371.5,89.1 372.5,88.6 373.5,88.0 374.5,87.5 375.5,87.0 376.5,86.4 377.5,85.9 378.5,85.4 379.5,84.8 380.5,84.3 381.5,83.8 382.5,83.2 383.5,82.7 384.5,82.2 385.5,81.6 386.5,81.1 387.5,80.6 388.5,80.0 389.5,79.5 390.5,79.0 391.5,78.4 392.5,77.9 393.5,77.3 394.5,76.8 395.5,76.3 396.5,75.7 397.5,75.2 398.5,74.7 399.5,74.1 400.5,73.6 401.5,73.0 402.5,72.5 403.5,72.0 404.5,71.4 405.5,70.9 406.5,70.3 407.5,69.8 408.5,69.3 409.5,68.7 410.5,68.2 411.5,67.6 412.5,67.1 413.5,66.6 414.5,66.0 415.5,65.5 416.5,64.9 417.5,64.4 418.5,63.8 419.5,63.3 420.5,62.8 421.5,62.2 422.5,61.7 423.5,61.1 424.5,60.6 425.5,60.0 426.5,59.5 427.5,58.9 428.5,58.4 429.5,57.8 430.5,57.3 431.5,56.7 432.5,56.2 433.5,55.6 434.5,55.1 435.5,54.6 436.5,54.0 437.5,53.5 438.5,52.9 439.5,52.4 440.5,51.8 441.5,51.2 441.5,150.2 440.5,150.4 439.5,150.5 438.5,150.6 437.5,150.7 436.5,150.7 435.5,150.7 434.5,150.7 433.5,150.7 432.5,150.7 431.5,150.7 430.5,150.4 429.5,150.1 428.5,149.7 427.5,149.2 426.5,148.9 425.5,148.6 424.5,148.4 423.5,148.3 422.5,148.2 421.5,148.0 420.5,147.9 419.5,147.8 418.5,147.7 417.5,147.5 416.5,147.4 415.5,147.3 414.5,147.2 413.5,147.1 412.5,147.1 411.5,147.0 410.5,146.9 409.5,146.8 408.5,146.8 407.5,146.7 406.5,146.7 405.5,146.6 404.5,146.6 403.5,146.5 402.5,146.5 401.5,146.5 400.5,146.5 399.5,146.5 398.5,146.5 397.5,146.5 396.5,146.5 395.5,146.5 394.5,146.5 393.5,146.6 392.5,146.6 391.5,146.6 390.5,146.6 389.5,146.6 388.5,146.6 387.5,146.6 386.5,146.6 385.5,146.6 384.5,146.5 383.5,146.4 382.5,146.3 381.5,146.2 380.5,146.1 379.5,146.0 378.5,145.9 377.5,145.8 376.5,145.8 375.5,145.8 374.5,145.8 373.5,145.8 372.5,145.9 371.5,146.0 370.5,146.1 369.5,146.3 368.5,146.4 367.5,146.6 366.5,146.7 365.5,146.8 364.5,146.9 363.5,147.0 362.5,147.0 361.5,147.0 360.5,147.0 359.5,146.9 358.5,146.9 357.5,146.8 356.5,146.7 355.5,146.6 354.5,146.5 353.5,146.4 352.5,146.3 351.5,146.2 350.5,146.1 349.5,145.9 348.5,145.8 347.5,145.6 346.5,145.4 345.5,145.2 344.5,145.1 343.5,145.0 342.5,145.0 341.5,145.0 340.5,145.0 339.5,145.1 338.5,145.1 337.5,145.2 336.5,145.3 335.5,145.4 334.4,145.5 333.4,145.6 332.4,145.7 331.4,145.8 330.4,145.9 329.4,146.1 328.4,146.2 327.4,146.3 326.4,146.4 325.4,146.5 324.4,146.5 323.4,146.6 322.4,146.7 321.4,146.8 320.4,146.8 319.4,146.9 318.4,147.0 317.4,147.1 316.4,147.1 315.4,147.3 314.4,147.4 313.4,147.5 312.4,147.7 311.4,147.9 310.4,148.1 309.4,148.3 308.4,148.5 307.4,148.7 306.4,149.0 305.4,149.2 304.4,149.5 303.4,149.7 302.4,149.9 301.4,150.2 300.4,150.5 299.4,150.7 298.4,151.0 297.4,151.2 296.4,151.3 295.4,151.4 294.4,151.4 293.4,151.3 292.4,151.3 291.4,151.2 290.4,151.1 289.4,151.0 288.4,151.0 287.4,151.0 286.4,151.0 285.4,151.0 284.4,151.0 283.4,151.0 282.4,151.0 281.4,151.0 280.4,151.0 279.4,151.1 278.4,151.3 277.4,151.5 276.4,151.7 275.4,152.0 274.4,152.2 273.4,152.4 272.4,152.5 271.4,152.7 270.4,152.8 269.4,152.9 268.4,153.0 267.4,153.1 266.4,153.3 265.4,153.4 264.4,153.5 263.4,153.6 262.4,153.6 261.4,153.7 260.4,153.8 259.4,153.9 258.4,154.0 257.4,154.2 256.4,154.3 255.4,154.5 254.4,154.6 253.4,154.7 252.4,154.9 251.4,155.0 250.4,155.1 249.4,155.3 248.4,155.4 247.4,155.5 246.4,155.6 245.4,155.7 244.4,155.8 243.4,155.9 242.4,156.0 241.4,156.1 240.4,156.1 239.4,156.2 238.4,156.2 237.4,156.1 236.4,155.9 235.4,155.5 234.4,155.2 233.4,154.8 232.4,154.2 231.4,153.6 230.4,152.9 229.4,152.1 228.4,151.3" fill="#ff33a2" />
<polygon points="234.0,150.2 235.0,150.0 236.0,149.7 237.0,149.5 238.0,149.3 239.0,149.0 240.0,148.8 241.0,148.5 242.0,148.3 243.0,148.0 244.0,147.8 245.0,147.5 246.0,147.2 247.0,146.9 248.0,146.7 249.0,146.4 250.0,146.1 251.0,145.8 252.0,145.5 253.0,145.2 254.0,144.9 254.9,144.6 255.9,144.3 256.9,144.0 257.9,143.7 258.9,143.4 259.9,143.0 260.9,142.7 261.9,142.4 262.9,142.1 263.9,141.8 264.9,141.5 265.9,141.2 266.9,140.8 267.9,140.5 268.9,140.2 269.9,139.9 270.9,139.5 271.9,139.2 272.9,138.9 273.9,138.5 274.9,138.2 275.9,137.9 276.9,137.5 277.9,137.2 278.9,136.8 279.9,136.5 280.9,136.1 281.9,135.8 282.9,135.4 283.9,135.1 284.9,134.7 285.9,134.4 286.9,134.0 287.9,133.6 288.9,133.3 289.9,132.9 290.9,132.5 291.9,132.2 292.9,131.8 293.9,131.4 294.9,131.0 295.9,130.6 296.8,130.3 297.8,129.9 298.8,129.5 299.8,129.1 300.8,128.7 301.8,128.3 302.8,127.9 303.8,127.5 304.8,127.1 305.8,126.7 306.8,126.3 307.8,125.9 308.8,125.5 309.8,125.1 310.8,124.7 311.8,124.3 312.8,123.9 313.8,123.4 314.8,123.0 315.8,122.5 316.8,122.0 317.8,121.5 318.8,121.0 319.8,120.5 320.8,119.9 321.8,119.4 322.8,118.8 323.8,118.2 324.8,117.7 325.8,117.1 326.8,116.6 327.8,116.0 328.8,115.5 329.8,114.9 330.8,114.4 331.8,113.9 332.8,113.4 333.8,112.8 334.8,112.3 335.8,111.8 336.8,111.3 337.8,110.8 338.7,110.3 339.7,109.8 340.7,109.3 341.7,108.8 342.7,108.2 343.7,107.7 344.7,107.2 345.7,106.7 346.7,106.2 347.7,105.7 348.7,105.2 349.7,104.7 350.7,104.2 351.7,103.7 352.7,103.2 353.7,102.7 354.7,102.2 355.7,101.7 356.7,101.2 357.7,100.7 358.7,100.2 359.7,99.7 360.7,99.2 361.7,98.7 362.7,98.2 363.7,97.7 364.7,97.1 365.7,96.6 366.7,96.1 367.7,95.6 368.7,95.1 369.7,94.5 370.7,94.0 371.7,93.5 372.7,93.0 373.7,92.4 374.7,91.9 375.7,91.4 376.7,90.8 377.7,90.3 378.7,89.8 379.6,89.2 380.6,88.7 381.6,88.2 382.6,87.6 383.6,87.1 384.6,86.6 385.6,86.0 386.6,85.5 387.6,85.0 388.6,84.4 389.6,83.9 390.6,83.4 391.6,82.8 392.6,82.3 393.6,81.7 394.6,81.2 395.6,80.7 396.6,80.1 397.6,79.6 398.6,79.0 399.6,78.5 400.6,77.9 401.6,77.4 402.6,76.8 403.6,76.3 404.6,75.8 405.6,75.2 406.6,74.7 407.6,74.1 408.6,73.6 409.6,73.0 410.6,72.5 411.6,71.9 412.6,71.3 413.6,70.8 414.6,70.2 415.6,69.7 416.6,69.1 417.6,68.6 418.6,68.0 419.6,67.5 420.6,66.9 421.5,66.3 422.5,65.8 423.5,65.2 424.5,64.7 425.5,64.1 426.5,63.5 427.5,63.0 428.5,62.4 429.5,61.8 430.5,61.3 431.5,60.7 432.5,60.1 433.5,59.6 434.5,59.0 435.5,58.4 436.5,57.9 437.5,57.3 438.5,56.7 439.5,56.1 440.5,55.6 441.5,55.0 441.5,142.0 440.5,141.9 439.5,141.8 438.5,141.7 437.5,141.6 436.5,141.5 435.5,141.4 434.5,141.3 433.5,141.2 432.5,141.1 431.5,141.0 430.5,141.0 429.5,140.9 428.5,140.8 427.5,140.7 426.5,140.6 425.5,140.5 424.5,140.4 423.5,140.4 422.5,140.3 421.5,140.2 420.6,140.1 419.6,140.1 418.6,140.0 417.6,139.9 416.6,139.8 415.6,139.8 414.6,139.7 413.6,139.6 412.6,139.6 411.6,139.5 410.6,139.5 409.6,139.4 408.6,139.4 407.6,139.3 406.6,139.3 405.6,139.2 404.6,139.2 403.6,139.1 402.6,139.1 401.6,139.1 400.6,139.0 399.6,139.0 398.6,139.0 397.6,138.9 396.6,138.9 395.6,138.9 394.6,138.8 393.6,138.8 392.6,138.8 391.6,138.7 390.6,138.7 389.6,138.7 388.6,138.7 387.6,138.6 386.6,138.6 385.6,138.6 384.6,138.6 383.6,138.5 382.6,138.5 381.6,138.5 380.6,138.5 379.6,138.4 378.7,138.4 377.7,138.4 376.7,138.4 375.7,138.4 374.7,138.4 373.7,138.3 372.7,138.3 371.7,138.3 370.7,138.3 369.7,138.3 368.7,138.3 367.7,138.3 366.7,138.3 365.7,138.3 364.7,138.3 363.7,138.3 362.7,138.3 361.7,138.3 360.7,138.3 359.7,138.3 358.7,138.3 357.7,138.3 356.7,138.3 355.7,138.3 354.7,138.3 353.7,138.3 352.7,138.3 351.7,138.3 350.7,138.3 349.7,138.3 348.7,138.3 347.7,138.3 346.7,138.3 345.7,138.3 344.7,138.3 343.7,138.3 342.7,138.3 341.7,138.4 340.7,138.4 339.7,138.4 338.7,138.4 337.8,138.4 336.8,138.4 335.8,138.4 334.8,138.5 333.8,138.5 332.8,138.6 331.8,138.6 330.8,138.7 329.8,138.8 328.8,138.9 327.8,139.0 326.8,139.1 325.8,139.2 324.8,139.3 323.8,139.4 322.8,139.5 321.8,139.6 320.8,139.8 319.8,139.9 318.8,140.0 317.8,140.1 316.8,140.2 315.8,140.3 314.8,140.4 313.8,140.5 312.8,140.6 311.8,140.8 310.8,140.9 309.8,141.0 308.8,141.1 307.8,141.3 306.8,141.4 305.8,141.5 304.8,141.6 303.8,141.8 302.8,141.9 301.8,142.0 300.8,142.1 299.8,142.2 298.8,142.3 297.8,142.5 296.8,142.6 295.9,142.7 294.9,142.8 293.9,142.9 292.9,143.0 291.9,143.1 290.9,143.3 289.9,143.4 288.9,143.5 287.9,143.6 286.9,143.7 285.9,143.9 284.9,144.0 283.9,144.1 282.9,144.2 281.9,144.4 280.9,144.5 279.9,144.6 278.9,144.8 277.9,144.9 276.9,145.0 275.9,145.2 274.9,145.3 273.9,145.4 272.9,145.6 271.9,145.7 270.9,145.9 269.9,146.0 268.9,146.2 267.9,146.3 266.9,146.5 265.9,146.7 264.9,146.8 263.9,147.0 262.9,147.1 261.9,147.3 260.9,147.4 259.9,147.6 258.9,147.7 257.9,147.8 256.9,147.9 255.9,148.0 254.9,148.1 254.0,148.2 253.0,148.3 252.0,148.4 251.0,148.5 250.0,148.6 249.0,148.7 248.0,148.8 247.0,148.9 246.0,149.0 245.0,149.1 244.0,149.2 243.0,149.3 242.0,149.5 241.0,149.6 240.0,149.7 239.0,149.8 238.0,150.0 237.0,150.1 236.0,150.2 235.0,150.4 234.0,150.5" fill="#f56e1e" />
<polyline points="26.0,178.9 26.7,178.9 27.4,178.8 28.1,178.7 28.8,178.6 29.5,178.5 30.2,178.4 30.9,178.2 31.6,178.1 32.3,178.0 33.0,177.8 33.7,177.7 34.4,177.7 35.1,177.8 35.8,178.0 36.5,178.3 37.2,178.6 37.9,178.8 38.6,178.9 39.3,179.1 40.0,179.2 40.7,179.3 41.4,179.3 42.1,179.3 42.8,179.3 43.5,179.3 44.2,179.3 44.9,179.2 45.6,179.1 46.3,178.9 47.0,178.7 47.7,178.5 48.4,178.4 49.1,178.3 49.8,178.2 50.5,178.1 51.2,178.0 51.9,177.9 52.6,177.8 53.3,177.8 54.0,177.7 54.7,177.7 55.4,177.7 56.1,177.7 56.8,177.7 57.5,177.7 58.3,177.7 59.0,177.8 59.7,178.0 60.4,178.3 61.1,178.7 61.8,179.3 62.5,180.0 63.2,180.7 63.9,181.4 64.6,182.1 65.3,182.4 66.0,182.6 66.7,182.8 67.4,182.9 68.1,182.9 68.8,182.8 69.5,182.6 70.2,182.5 70.9,182.3 71.6,182.2 72.3,182.1 73.0,182.1 73.7,182.0 74.4,182.0 75.1,181.9 75.8,181.9 76.5,181.8 77.2,181.7 77.9,181.6 78.6,181.5 79.3,181.2 80.0,181.0 80.7,181.1 81.4,181.2 82.1,181.4 82.8,181.6 83.5,181.7 84.2,181.9 84.9,182.0 85.6,182.1 86.3,182.0 87.0,181.8 87.7,181.6 88.4,181.4 89.1,181.2 89.8,180.9 90.5,180.7 91.2,180.5 91.9,180.3 92.6,180.2 93.3,180.1 94.0,180.2 94.7,180.4 95.4,180.5 96.1,180.7 96.8,181.0 97.5,181.2 98.2,181.1 98.9,180.8 99.6,180.4 100.3,180.1 101.0,179.8 101.7,179.4 102.4,179.1 103.1,178.8 103.8,178.4 104.5,178.1 105.2,177.8 105.9,177.5 106.6,177.2 107.3,176.9 108.0,176.7 108.7,176.4 109.4,176.1 110.1,175.8 110.8,175.8 111.5,175.8 112.2,175.8 112.9,175.9 113.6,176.0 114.3,176.2 115.0,176.4 115.7,176.6 116.4,176.6 117.1,176.5 117.8,176.4 118.5,176.3 119.2,176.2 119.9,176.0 120.6,175.8 121.4,175.6 122.1,175.4 122.8,175.2 123.5,174.9 124.2,174.7 124.9,174.5 125.6,174.2 126.3,174.0 127.0,173.7 127.7,173.5 128.4,173.2 129.1,172.9 129.8,172.6 130.5,172.3 131.2,172.0 131.9,171.8 132.6,171.5 133.3,171.2 134.0,170.9 134.7,170.5 135.4,170.1 136.1,169.8 136.8,169.7 137.5,169.8 138.2,170.2 138.9,170.6 139.6,171.2 140.3,172.1 141.0,173.2 141.7,173.9 142.4,174.2 143.1,174.4 143.8,174.5 144.5,174.6 145.2,174.4 145.9,174.0 146.6,173.6 147.3,173.1 148.0,172.6 148.7,172.1 149.4,171.7 150.1,171.3 150.8,170.9 151.5,170.5 152.2,170.2 152.9,169.9 153.6,169.5 154.3,169.1 155.0,168.8 155.7,168.4 156.4,168.1 157.1,167.8 157.8,167.5 158.5,167.3 159.2,167.0 159.9,166.8 160.6,166.6 161.3,166.4 162.0,166.2 162.7,166.0 163.4,165.8 164.1,165.5 164.8,165.3 165.5,165.0 166.2,164.8 166.9,164.5 167.6,164.3 168.3,164.1 169.0,164.0 169.7,163.8 170.4,163.6 171.1,163.5 171.8,163.3 172.5,163.1 173.2,162.9 173.9,162.7 174.6,162.6 175.3,162.5 176.0,162.4 176.7,162.3 177.4,162.2 178.1,162.1 178.8,162.0 179.5,161.9 180.2,161.8 180.9,161.8 181.6,161.8 182.3,161.8 183.0,161.8 183.7,161.8 184.4,161.8 185.2,161.8 185.9,161.7 186.6,161.7 187.3,161.6 188.0,161.5 188.7,161.4 189.4,161.2 190.1,161.1 190.8,160.9 191.5,160.7 192.2,160.5 192.9,160.3 193.6,160.1 194.3,160.0 195.0,159.8 195.7,159.6 196.4,159.4 197.1,159.3 197.8,159.1 198.5,158.9 199.2,158.7 199.9,158.6 200.6,158.4 201.3,158.2 202.0,158.0 202.7,157.8 203.4,157.6 204.1,157.3 204.8,157.0 205.5,156.7 206.2,156.4 206.9,156.1 207.6,155.8 208.3,155.5 209.0,155.4 209.7,155.3 210.4,155.2 211.1,155.2 211.8,155.2 212.5,155.2 213.2,155.1 213.9,155.1 214.6,155.0 215.3,154.9 216.0,154.8 216.7,154.7 217.4,154.6 218.1,154.4 218.8,154.2 219.5,154.0 220.2,153.8 220.9,153.7 221.6,153.5 222.3,153.3 223.0,153.1 223.7,152.9 224.4,152.7 225.1,152.5 225.8,152.2 226.5,151.9 227.2,151.6 227.9,151.3 228.6,150.9" fill="none" stroke="#0b1535" stroke-width="1.25"/>
<circle cx="28.9" cy="179.8" r="1.15" fill="#a07474"/>
<circle cx="31.5" cy="178.0" r="1.15" fill="#a07474"/>
<circle cx="34.5" cy="176.3" r="1.15" fill="#a07474"/>
<circle cx="37.5" cy="181.5" r="1.15" fill="#a07474"/>
<circle cx="40.1" cy="183.3" r="1.15" fill="#a07474"/>
<circle cx="42.9" cy="185.0" r="1.15" fill="#a07474"/>
<circle cx="45.6" cy="179.4" r="1.15" fill="#a07474"/>
<circle cx="48.2" cy="178.9" r="1.15" fill="#a07474"/>
<circle cx="51.2" cy="179.8" r="1.15" fill="#a07474"/>
<circle cx="53.8" cy="181.5" r="1.15" fill="#a07474"/>
<circle cx="56.4" cy="178.6" r="1.15" fill="#a07474"/>
<circle cx="59.4" cy="179.8" r="1.15" fill="#a07474"/>
<circle cx="62.2" cy="180.1" r="1.15" fill="#a07474"/>
<circle cx="65.2" cy="185.9" r="1.15" fill="#a07474"/>
<circle cx="70.4" cy="182.4" r="1.15" fill="#a07474"/>
<circle cx="73.4" cy="181.2" r="1.15" fill="#a07474"/>
<circle cx="76.2" cy="182.8" r="1.15" fill="#a07474"/>
<circle cx="78.9" cy="178.9" r="1.15" fill="#a07474"/>
<circle cx="81.8" cy="180.7" r="1.15" fill="#a07474"/>
<circle cx="84.5" cy="183.6" r="1.15" fill="#a07474"/>
<circle cx="87.1" cy="181.0" r="1.15" fill="#a07474"/>
<circle cx="90.1" cy="176.8" r="1.15" fill="#a07474"/>
<circle cx="92.7" cy="182.9" r="1.15" fill="#a07474"/>
<circle cx="95.5" cy="181.0" r="1.15" fill="#a07474"/>
<circle cx="98.1" cy="183.8" r="1.15" fill="#a07474"/>
<circle cx="100.7" cy="175.8" r="1.15" fill="#a07474"/>
<circle cx="103.7" cy="178.0" r="1.15" fill="#a07474"/>
<circle cx="106.4" cy="176.3" r="1.15" fill="#a07474"/>
<circle cx="109.3" cy="173.3" r="1.15" fill="#a07474"/>
<circle cx="112.0" cy="171.9" r="1.15" fill="#a07474"/>
<circle cx="114.8" cy="177.7" r="1.15" fill="#a07474"/>
<circle cx="117.4" cy="172.8" r="1.15" fill="#a07474"/>
<circle cx="120.0" cy="176.8" r="1.15" fill="#a07474"/>
<circle cx="123.0" cy="177.2" r="1.15" fill="#a07474"/>
<circle cx="125.6" cy="175.9" r="1.15" fill="#a07474"/>
<circle cx="128.8" cy="172.2" r="1.15" fill="#a07474"/>
<circle cx="123.0" cy="177.0" r="1.15" fill="#a07474"/>
<circle cx="125.8" cy="175.8" r="1.15" fill="#a07474"/>
<circle cx="128.8" cy="172.0" r="1.15" fill="#a07474"/>
<circle cx="131.4" cy="171.1" r="1.15" fill="#a07474"/>
<circle cx="134.4" cy="174.1" r="1.15" fill="#a07474"/>
<circle cx="137.0" cy="169.1" r="1.15" fill="#a07474"/>
<circle cx="139.6" cy="169.8" r="1.15" fill="#a07474"/>
<circle cx="142.4" cy="174.9" r="1.15" fill="#a07474"/>
<circle cx="145.1" cy="174.6" r="1.15" fill="#a07474"/>
<circle cx="148.0" cy="172.7" r="1.15" fill="#a07474"/>
<circle cx="150.7" cy="168.8" r="1.15" fill="#a07474"/>
<circle cx="156.3" cy="167.6" r="1.15" fill="#a07474"/>
<circle cx="158.9" cy="163.5" r="1.15" fill="#a07474"/>
<circle cx="162.0" cy="170.0" r="1.15" fill="#a07474"/>
<circle cx="164.7" cy="170.0" r="1.15" fill="#a07474"/>
<circle cx="167.7" cy="165.8" r="1.15" fill="#a07474"/>
<circle cx="170.3" cy="164.9" r="1.15" fill="#a07474"/>
<circle cx="172.9" cy="164.8" r="1.15" fill="#a07474"/>
<circle cx="175.7" cy="166.7" r="1.15" fill="#a07474"/>
<circle cx="178.7" cy="163.0" r="1.15" fill="#a07474"/>
<circle cx="181.3" cy="163.9" r="1.15" fill="#a07474"/>
<circle cx="183.9" cy="163.5" r="1.15" fill="#a07474"/>
<circle cx="186.9" cy="166.7" r="1.15" fill="#a07474"/>
<circle cx="189.6" cy="163.2" r="1.15" fill="#a07474"/>
<circle cx="192.2" cy="161.3" r="1.15" fill="#a07474"/>
<circle cx="195.0" cy="164.9" r="1.15" fill="#a07474"/>
<circle cx="198.0" cy="164.4" r="1.15" fill="#a07474"/>
<circle cx="200.6" cy="162.7" r="1.15" fill="#a07474"/>
<circle cx="203.6" cy="161.4" r="1.15" fill="#a07474"/>
<circle cx="206.2" cy="157.4" r="1.15" fill="#a07474"/>
<circle cx="208.8" cy="154.8" r="1.15" fill="#a07474"/>
<circle cx="211.5" cy="157.1" r="1.15" fill="#a07474"/>
<circle cx="214.6" cy="159.2" r="1.15" fill="#a07474"/>
<circle cx="217.2" cy="156.2" r="1.15" fill="#a07474"/>
<circle cx="220.2" cy="155.1" r="1.15" fill="#a07474"/>
<circle cx="223.0" cy="159.2" r="1.15" fill="#a07474"/>
<circle cx="225.6" cy="157.9" r="1.15" fill="#a07474"/>
<circle cx="228.6" cy="150.9" r="1.15" fill="#a07474"/>
</g>
<rect x="493.60" y="23.50" width="182.00" height="176.00" fill="none" stroke="#1a1a1a" stroke-width="1.00"/>
<g clip-path="url(#cb)">
<rect x="512.5" y="23.5" width="164" height="177" fill="#7ffcf7"/>
<polygon points="512.5,185.0 513.0,183.1 513.5,180.4 514.0,177.0 514.5,173.2 515.0,169.0 515.5,164.0 516.0,158.0 516.5,151.1 517.0,143.6 517.5,136.0 518.0,126.9 518.5,116.5 519.0,106.8 519.5,100.0 520.0,96.0 520.5,93.0 521.0,90.3 521.5,87.6 522.0,85.0 522.5,82.4 523.0,79.8 523.5,77.5 524.0,75.3 524.5,73.3 525.0,71.5 525.5,69.9 526.0,68.4 526.5,67.0 527.0,65.7 527.5,64.5 528.0,63.3 528.5,62.2 529.0,61.1 529.5,60.0 530.0,59.0 530.5,58.0 531.0,56.9 531.5,55.9 532.0,54.9 532.5,54.0 533.0,53.1 533.5,52.2 534.0,51.4 534.5,50.7 535.0,50.0 535.5,49.4 536.0,48.8 536.5,48.2 537.0,47.7 537.5,47.2 538.0,46.7 538.5,46.3 539.0,45.8 539.5,45.4 540.0,45.0 540.5,44.6 541.0,44.2 541.5,43.8 542.0,43.5 542.5,43.1 543.0,42.8 543.5,42.4 544.0,42.1 544.5,41.8 545.0,41.5 545.5,41.2 546.0,40.9 546.5,40.6 547.0,40.3 547.5,40.0 548.0,39.7 548.5,39.4 549.0,39.1 549.5,38.9 550.0,38.6 550.5,38.3 551.0,38.0 551.5,37.8 552.0,37.5 552.5,37.3 553.0,37.0 553.5,36.8 554.0,36.5 554.5,36.3 555.0,36.0 555.5,35.8 556.0,35.6 556.5,35.4 557.0,35.2 557.5,35.0 558.0,34.8 558.5,34.6 559.0,34.4 559.5,34.3 560.0,34.1 560.5,33.9 561.0,33.7 561.5,33.6 562.0,33.4 562.5,33.3 563.0,33.1 563.5,32.9 564.0,32.8 564.5,32.6 565.0,32.5 565.5,32.4 566.0,32.2 566.5,32.1 567.0,32.0 567.5,31.8 568.0,31.7 568.5,31.6 569.0,31.5 569.5,31.4 570.0,31.2 570.5,31.1 571.0,31.0 571.5,30.9 572.0,30.8 572.5,30.7 573.0,30.6 573.5,30.5 574.0,30.4 574.5,30.3 575.0,30.2 575.5,30.1 576.0,30.0 576.5,29.9 577.0,29.8 577.5,29.7 578.0,29.7 578.5,29.6 579.0,29.5 579.5,29.4 580.0,29.3 580.5,29.2 581.0,29.1 581.5,29.1 582.0,29.0 582.5,28.9 583.0,28.8 583.5,28.8 584.0,28.7 584.5,28.6 585.0,28.6 585.5,28.5 586.0,28.4 586.5,28.4 587.0,28.3 587.5,28.3 588.0,28.2 588.5,28.1 589.0,28.1 589.5,28.0 590.0,28.0 590.5,28.0 591.0,27.9 591.5,27.9 592.0,27.8 592.5,27.8 593.0,27.7 593.5,27.7 594.0,27.7 594.5,27.6 595.0,27.6 595.5,27.6 596.0,27.5 596.5,27.5 597.0,27.4 597.5,27.4 598.0,27.4 598.5,27.3 599.0,27.3 599.5,27.3 600.0,27.3 600.5,27.2 601.0,27.2 601.5,27.2 602.0,27.1 602.5,27.1 603.0,27.1 603.5,27.0 604.0,27.0 604.5,27.0 605.0,27.0 605.5,26.9 606.0,26.9 606.5,26.9 607.0,26.9 607.5,26.8 608.0,26.8 608.5,26.8 609.0,26.8 609.5,26.7 610.0,26.7 610.5,26.7 611.0,26.7 611.5,26.7 612.0,26.6 612.5,26.6 613.0,26.6 613.5,26.6 614.0,26.5 614.5,26.5 615.0,26.5 615.5,26.5 616.0,26.5 616.5,26.4 617.0,26.4 617.5,26.4 618.0,26.4 618.5,26.4 619.0,26.3 619.5,26.3 620.0,26.3 620.5,26.3 621.0,26.3 621.5,26.2 622.0,26.2 622.5,26.2 623.0,26.2 623.5,26.2 624.0,26.2 624.5,26.1 625.0,26.1 625.5,26.1 626.0,26.1 626.5,26.1 627.0,26.0 627.5,26.0 628.0,26.0 628.5,26.0 629.0,26.0 629.5,26.0 630.0,26.0 630.5,25.9 631.0,25.9 631.5,25.9 632.0,25.9 632.5,25.9 633.0,25.9 633.5,25.9 634.0,25.8 634.5,25.8 635.0,25.8 635.5,25.8 636.0,25.8 636.5,25.8 637.0,25.8 637.5,25.8 638.0,25.7 638.5,25.7 639.0,25.7 639.5,25.7 640.0,25.7 640.5,25.7 641.0,25.7 641.5,25.7 642.0,25.7 642.5,25.7 643.0,25.6 643.5,25.6 644.0,25.6 644.5,25.6 645.0,25.6 645.5,25.6 646.0,25.6 646.5,25.6 647.0,25.6 647.5,25.6 648.0,25.5 648.5,25.5 649.0,25.5 649.5,25.5 650.0,25.5 650.5,25.5 651.0,25.5 651.5,25.5 652.0,25.5 652.5,25.5 653.0,25.5 653.5,25.4 654.0,25.4 654.5,25.4 655.0,25.4 655.5,25.4 656.0,25.4 656.5,25.4 657.0,25.4 657.5,25.4 658.0,25.4 658.5,25.4 659.0,25.4 659.5,25.4 660.0,25.3 660.5,25.3 661.0,25.3 661.5,25.3 662.0,25.3 662.5,25.3 663.0,25.3 663.5,25.3 664.0,25.3 664.5,25.3 665.0,25.3 665.5,25.3 666.0,25.3 666.5,25.3 667.0,25.3 667.5,25.3 668.0,25.3 668.5,25.2 669.0,25.2 669.5,25.2 670.0,25.2 670.5,25.2 671.0,25.2 671.5,25.2 672.0,25.2 672.5,25.2 673.0,25.2 673.5,25.2 674.0,25.2 674.5,25.2 675.0,25.2 675.5,25.2 676.0,25.2 676.0,200.5 675.5,200.5 675.0,200.5 674.5,200.5 674.0,200.5 673.5,200.5 673.0,200.5 672.5,200.5 672.0,200.5 671.5,200.5 671.0,200.5 670.5,200.5 670.0,200.5 669.5,200.5 669.0,200.5 668.5,200.5 668.0,200.5 667.5,200.5 667.0,200.5 666.5,200.5 666.0,200.5 665.5,200.5 665.0,200.5 664.5,200.5 664.0,200.5 663.5,200.5 663.0,200.5 662.5,200.5 662.0,200.5 661.5,200.5 661.0,200.5 660.5,200.5 660.0,200.5 659.5,200.5 659.0,200.5 658.5,200.5 658.0,200.5 657.5,200.5 657.0,200.5 656.5,200.5 656.0,200.5 655.5,200.5 655.0,200.5 654.5,200.5 654.0,200.5 653.5,200.5 653.0,200.5 652.5,200.5 652.0,200.5 651.5,200.5 651.0,200.5 650.5,200.5 650.0,200.5 649.5,200.5 649.0,200.5 648.5,200.5 648.0,200.5 647.5,200.5 647.0,200.5 646.5,200.5 646.0,200.5 645.5,200.5 645.0,200.5 644.5,200.5 644.0,200.5 643.5,200.5 643.0,200.5 642.5,200.5 642.0,200.5 641.5,200.5 641.0,200.5 640.5,200.5 640.0,200.5 639.5,200.5 639.0,200.5 638.5,200.5 638.0,200.5 637.5,200.5 637.0,200.5 636.5,200.5 636.0,200.5 635.5,200.5 635.0,200.5 634.5,200.5 634.0,200.5 633.5,200.5 633.0,200.5 632.5,200.5 632.0,200.5 631.5,200.5 631.0,200.5 630.5,200.5 630.0,200.5 629.5,200.5 629.0,200.5 628.5,200.5 628.0,200.5 627.5,200.5 627.0,200.5 626.5,200.5 626.0,200.5 625.5,200.5 625.0,200.5 624.5,200.5 624.0,200.5 623.5,200.5 623.0,200.5 622.5,200.5 622.0,200.5 621.5,200.5 621.0,200.5 620.5,200.5 620.0,200.5 619.5,200.5 619.0,200.5 618.5,200.5 618.0,200.5 617.5,200.5 617.0,200.5 616.5,200.5 616.0,200.5 615.5,200.5 615.0,200.5 614.5,200.5 614.0,200.5 613.5,200.5 613.0,200.5 612.5,200.5 612.0,200.5 611.5,200.5 611.0,200.5 610.5,200.5 610.0,200.5 609.5,200.5 609.0,200.5 608.5,200.5 608.0,200.5 607.5,200.5 607.0,200.5 606.5,200.5 606.0,200.5 605.5,200.5 605.0,200.5 604.5,200.5 604.0,200.5 603.5,200.5 603.0,200.5 602.5,200.5 602.0,200.5 601.5,200.5 601.0,200.5 600.5,200.5 600.0,200.5 599.5,200.5 599.0,200.5 598.5,200.5 598.0,200.5 597.5,200.5 597.0,200.5 596.5,200.5 596.0,200.5 595.5,200.5 595.0,200.5 594.5,200.5 594.0,200.5 593.5,200.5 593.0,200.5 592.5,200.5 592.0,200.5 591.5,200.5 591.0,200.5 590.5,200.5 590.0,200.5 589.5,200.5 589.0,200.5 588.5,200.5 588.0,200.5 587.5,200.5 587.0,200.5 586.5,200.5 586.0,200.5 585.5,200.5 585.0,200.5 584.5,200.5 584.0,200.5 583.5,200.5 583.0,200.5 582.5,200.5 582.0,200.5 581.5,200.5 581.0,200.5 580.5,200.5 580.0,200.5 579.5,200.5 579.0,200.5 578.5,200.5 578.0,200.5 577.5,200.5 577.0,200.5 576.5,200.5 576.0,200.5 575.5,200.5 575.0,200.5 574.5,200.5 574.0,200.5 573.5,200.5 573.0,200.5 572.5,200.5 572.0,200.5 571.5,200.5 571.0,200.5 570.5,200.5 570.0,200.5 569.5,200.5 569.0,200.5 568.5,200.5 568.0,200.5 567.5,200.5 567.0,200.5 566.5,200.5 566.0,200.5 565.5,200.5 565.0,200.5 564.5,200.5 564.0,200.5 563.5,200.5 563.0,200.5 562.5,200.5 562.0,200.5 561.5,200.5 561.0,200.5 560.5,200.5 560.0,200.5 559.5,200.5 559.0,200.5 558.5,200.5 558.0,200.5 557.5,200.5 557.0,200.5 556.5,200.5 556.0,200.5 555.5,200.5 555.0,200.5 554.5,200.5 554.0,200.5 553.5,200.5 553.0,200.5 552.5,200.5 552.0,200.5 551.5,200.5 551.0,200.5 550.5,200.5 550.0,200.5 549.5,200.5 549.0,200.5 548.5,200.5 548.0,200.5 547.5,200.5 547.0,200.5 546.5,200.5 546.0,200.5 545.5,200.5 545.0,200.5 544.5,200.5 544.0,200.5 543.5,200.5 543.0,200.5 542.5,200.5 542.0,200.5 541.5,200.5 541.0,200.5 540.5,200.5 540.0,200.5 539.5,200.5 539.0,200.5 538.5,200.5 538.0,200.5 537.5,200.5 537.0,200.5 536.5,200.5 536.0,200.5 535.5,200.5 535.0,200.5 534.5,200.5 534.0,200.5 533.5,200.5 533.0,200.5 532.5,200.5 532.0,200.5 531.5,200.5 531.0,200.5 530.5,200.5 530.0,200.5 529.5,200.5 529.0,200.5 528.5,200.5 528.0,200.5 527.5,200.5 527.0,200.5 526.5,200.5 526.0,200.5 525.5,200.5 525.0,200.5 524.5,200.5 524.0,200.5 523.5,200.5 523.0,200.5 522.5,200.5 522.0,200.5 521.5,200.5 521.0,200.5 520.5,200.5 520.0,200.5 519.5,200.5 519.0,200.5 518.5,200.5 518.0,200.5 517.5,200.5 517.0,200.5 516.5,200.5 516.0,200.5 515.5,200.5 515.0,200.5 514.5,200.5 514.0,200.5 513.5,200.5 513.0,200.5 512.5,200.5" fill="#f56e1e" />
<polygon points="512.5,185.0 513.0,183.3 513.5,180.8 514.0,177.6 514.5,174.0 515.0,170.0 515.5,165.2 516.0,159.3 516.5,152.5 517.0,145.1 517.5,137.5 518.0,128.2 518.5,117.4 519.0,107.4 519.5,100.5 520.0,96.7 520.5,93.8 521.0,91.3 521.5,88.7 522.0,86.0 522.5,83.4 523.0,80.9 523.5,78.5 524.0,76.3 524.5,74.3 525.0,72.5 525.5,70.9 526.0,69.4 526.5,67.9 527.0,66.5 527.5,65.2 528.0,64.0 528.5,62.9 529.0,61.8 529.5,60.9 530.0,60.0 530.5,59.2 531.0,58.4 531.5,57.6 532.0,56.9 532.5,56.2 533.0,55.6 533.5,55.1 534.0,54.6 534.5,54.1 535.0,53.8 535.5,53.4 536.0,53.1 536.5,52.8 537.0,52.6 537.5,52.4 538.0,52.1 538.5,51.9 539.0,51.8 539.5,51.6 540.0,51.5 540.5,51.4 541.0,51.3 541.5,51.2 542.0,51.1 542.5,51.0 543.0,50.9 543.5,50.8 544.0,50.8 544.5,50.8 545.0,50.8 545.5,50.8 546.0,50.8 546.5,50.8 547.0,50.9 547.5,51.0 548.0,51.1 548.5,51.2 549.0,51.3 549.5,51.4 550.0,51.5 550.5,51.6 551.0,51.8 551.5,52.0 552.0,52.2 552.5,52.4 553.0,52.7 553.5,52.9 554.0,53.2 554.5,53.5 555.0,53.8 555.5,54.0 556.0,54.3 556.5,54.6 557.0,55.0 557.5,55.3 558.0,55.6 558.5,56.0 559.0,56.4 559.5,56.7 560.0,57.1 560.5,57.5 561.0,57.9 561.5,58.3 562.0,58.7 562.5,59.1 563.0,59.6 563.5,60.0 564.0,60.4 564.5,60.8 565.0,61.2 565.5,61.7 566.0,62.1 566.5,62.6 567.0,63.0 567.5,63.5 568.0,64.0 568.5,64.5 569.0,65.0 569.5,65.5 570.0,66.0 570.5,66.5 571.0,67.0 571.5,67.5 572.0,68.1 572.5,68.6 573.0,69.1 573.5,69.6 574.0,70.1 574.5,70.7 575.0,71.2 575.5,71.7 576.0,72.2 576.5,72.7 577.0,73.2 577.5,73.8 578.0,74.3 578.5,74.8 579.0,75.3 579.5,75.8 580.0,76.3 580.5,76.8 581.0,77.3 581.5,77.8 582.0,78.4 582.5,78.9 583.0,79.4 583.5,79.9 584.0,80.4 584.5,80.9 585.0,81.5 585.5,82.0 586.0,82.5 586.5,83.0 587.0,83.4 587.5,83.9 588.0,84.4 588.5,84.9 589.0,85.3 589.5,85.8 590.0,86.2 590.5,86.7 591.0,87.1 591.5,87.5 592.0,87.9 592.5,88.3 593.0,88.7 593.5,89.1 594.0,89.5 594.5,89.9 595.0,90.3 595.5,90.7 596.0,91.0 596.5,91.4 597.0,91.8 597.5,92.2 598.0,92.5 598.5,92.9 599.0,93.3 599.5,93.7 600.0,94.1 600.5,94.5 601.0,94.9 601.5,95.4 602.0,95.8 602.5,96.2 603.0,96.7 603.5,97.2 604.0,97.7 604.5,98.2 605.0,98.8 605.5,99.3 606.0,99.8 606.5,100.2 607.0,100.7 607.5,101.1 608.0,101.6 608.5,102.0 609.0,102.4 609.5,102.9 610.0,103.3 610.5,103.7 611.0,104.1 611.5,104.6 612.0,105.0 612.5,105.4 613.0,105.8 613.5,106.2 614.0,106.6 614.5,107.1 615.0,107.5 615.5,107.9 616.0,108.4 616.5,108.8 617.0,109.3 617.5,109.7 618.0,110.2 618.5,110.6 619.0,111.1 619.5,111.6 620.0,112.0 620.5,112.5 621.0,112.9 621.5,113.3 622.0,113.8 622.5,114.2 623.0,114.6 623.5,115.1 624.0,115.5 624.5,115.9 625.0,116.2 625.5,116.6 626.0,117.0 626.5,117.4 627.0,117.7 627.5,118.1 628.0,118.5 628.5,118.8 629.0,119.2 629.5,119.5 630.0,119.9 630.5,120.2 631.0,120.5 631.5,120.9 632.0,121.2 632.5,121.5 633.0,121.8 633.5,122.1 634.0,122.4 634.5,122.7 635.0,123.0 635.5,123.3 636.0,123.6 636.5,123.8 637.0,124.1 637.5,124.4 638.0,124.6 638.5,124.9 639.0,125.2 639.5,125.4 640.0,125.7 640.5,125.9 641.0,126.2 641.5,126.4 642.0,126.6 642.5,126.9 643.0,127.1 643.5,127.3 644.0,127.6 644.5,127.8 645.0,128.0 645.5,128.2 646.0,128.4 646.5,128.7 647.0,128.9 647.5,129.1 648.0,129.3 648.5,129.5 649.0,129.7 649.5,129.9 650.0,130.1 650.5,130.3 651.0,130.5 651.5,130.7 652.0,130.9 652.5,131.1 653.0,131.2 653.5,131.4 654.0,131.6 654.5,131.8 655.0,132.0 655.5,132.2 656.0,132.4 656.5,132.6 657.0,132.7 657.5,132.9 658.0,133.1 658.5,133.3 659.0,133.5 659.5,133.7 660.0,133.8 660.5,134.0 661.0,134.2 661.5,134.4 662.0,134.5 662.5,134.7 663.0,134.9 663.5,135.0 664.0,135.2 664.5,135.3 665.0,135.5 665.5,135.7 666.0,135.8 666.5,135.9 667.0,136.1 667.5,136.2 668.0,136.4 668.5,136.5 669.0,136.7 669.5,136.8 670.0,136.9 670.5,137.1 671.0,137.2 671.5,137.3 672.0,137.5 672.5,137.6 673.0,137.7 673.5,137.8 674.0,137.9 674.5,138.1 675.0,138.2 675.5,138.3 676.0,138.4 676.0,200.5 675.5,200.5 675.0,200.5 674.5,200.5 674.0,200.5 673.5,200.5 673.0,200.5 672.5,200.5 672.0,200.5 671.5,200.5 671.0,200.5 670.5,200.5 670.0,200.5 669.5,200.5 669.0,200.5 668.5,200.5 668.0,200.5 667.5,200.5 667.0,200.5 666.5,200.5 666.0,200.5 665.5,200.5 665.0,200.5 664.5,200.5 664.0,200.5 663.5,200.5 663.0,200.5 662.5,200.5 662.0,200.5 661.5,200.5 661.0,200.5 660.5,200.5 660.0,200.5 659.5,200.5 659.0,200.5 658.5,200.5 658.0,200.5 657.5,200.5 657.0,200.5 656.5,200.5 656.0,200.5 655.5,200.5 655.0,200.5 654.5,200.5 654.0,200.5 653.5,200.5 653.0,200.5 652.5,200.5 652.0,200.5 651.5,200.5 651.0,200.5 650.5,200.5 650.0,200.5 649.5,200.5 649.0,200.5 648.5,200.5 648.0,200.5 647.5,200.5 647.0,200.5 646.5,200.5 646.0,200.5 645.5,200.5 645.0,200.5 644.5,200.5 644.0,200.5 643.5,200.5 643.0,200.5 642.5,200.5 642.0,200.5 641.5,200.5 641.0,200.5 640.5,200.5 640.0,200.5 639.5,200.5 639.0,200.5 638.5,200.5 638.0,200.5 637.5,200.5 637.0,200.5 636.5,200.5 636.0,200.5 635.5,200.5 635.0,200.5 634.5,200.5 634.0,200.5 633.5,200.5 633.0,200.5 632.5,200.5 632.0,200.5 631.5,200.5 631.0,200.5 630.5,200.5 630.0,200.5 629.5,200.5 629.0,200.5 628.5,200.5 628.0,200.5 627.5,200.5 627.0,200.5 626.5,200.5 626.0,200.5 625.5,200.5 625.0,200.5 624.5,200.5 624.0,200.5 623.5,200.5 623.0,200.5 622.5,200.5 622.0,200.5 621.5,200.5 621.0,200.5 620.5,200.5 620.0,200.5 619.5,200.5 619.0,200.5 618.5,200.5 618.0,200.5 617.5,200.5 617.0,200.5 616.5,200.5 616.0,200.5 615.5,200.5 615.0,200.5 614.5,200.5 614.0,200.5 613.5,200.5 613.0,200.5 612.5,200.5 612.0,200.5 611.5,200.5 611.0,200.5 610.5,200.5 610.0,200.5 609.5,200.5 609.0,200.5 608.5,200.5 608.0,200.5 607.5,200.5 607.0,200.5 606.5,200.5 606.0,200.5 605.5,200.5 605.0,200.5 604.5,200.5 604.0,200.5 603.5,200.5 603.0,200.5 602.5,200.5 602.0,200.5 601.5,200.5 601.0,200.5 600.5,200.5 600.0,200.5 599.5,200.5 599.0,200.5 598.5,200.5 598.0,200.5 597.5,200.5 597.0,200.5 596.5,200.5 596.0,200.5 595.5,200.5 595.0,200.5 594.5,200.5 594.0,200.5 593.5,200.5 593.0,200.5 592.5,200.5 592.0,200.5 591.5,200.5 591.0,200.5 590.5,200.5 590.0,200.5 589.5,200.5 589.0,200.5 588.5,200.5 588.0,200.5 587.5,200.5 587.0,200.5 586.5,200.5 586.0,200.5 585.5,200.5 585.0,200.5 584.5,200.5 584.0,200.5 583.5,200.5 583.0,200.5 582.5,200.5 582.0,200.5 581.5,200.5 581.0,200.5 580.5,200.5 580.0,200.5 579.5,200.5 579.0,200.5 578.5,200.5 578.0,200.5 577.5,200.5 577.0,200.5 576.5,200.5 576.0,200.5 575.5,200.5 575.0,200.5 574.5,200.5 574.0,200.5 573.5,200.5 573.0,200.5 572.5,200.5 572.0,200.5 571.5,200.5 571.0,200.5 570.5,200.5 570.0,200.5 569.5,200.5 569.0,200.5 568.5,200.5 568.0,200.5 567.5,200.5 567.0,200.5 566.5,200.5 566.0,200.5 565.5,200.5 565.0,200.5 564.5,200.5 564.0,200.5 563.5,200.5 563.0,200.5 562.5,200.5 562.0,200.5 561.5,200.5 561.0,200.5 560.5,200.5 560.0,200.5 559.5,200.5 559.0,200.5 558.5,200.5 558.0,200.5 557.5,200.5 557.0,200.5 556.5,200.5 556.0,200.5 555.5,200.5 555.0,200.5 554.5,200.5 554.0,200.5 553.5,200.5 553.0,200.5 552.5,200.5 552.0,200.5 551.5,200.5 551.0,200.5 550.5,200.5 550.0,200.5 549.5,200.5 549.0,200.5 548.5,200.5 548.0,200.5 547.5,200.5 547.0,200.5 546.5,200.5 546.0,200.5 545.5,200.5 545.0,200.5 544.5,200.5 544.0,200.5 543.5,200.5 543.0,200.5 542.5,200.5 542.0,200.5 541.5,200.5 541.0,200.5 540.5,200.5 540.0,200.5 539.5,200.5 539.0,200.5 538.5,200.5 538.0,200.5 537.5,200.5 537.0,200.5 536.5,200.5 536.0,200.5 535.5,200.5 535.0,200.5 534.5,200.5 534.0,200.5 533.5,200.5 533.0,200.5 532.5,200.5 532.0,200.5 531.5,200.5 531.0,200.5 530.5,200.5 530.0,200.5 529.5,200.5 529.0,200.5 528.5,200.5 528.0,200.5 527.5,200.5 527.0,200.5 526.5,200.5 526.0,200.5 525.5,200.5 525.0,200.5 524.5,200.5 524.0,200.5 523.5,200.5 523.0,200.5 522.5,200.5 522.0,200.5 521.5,200.5 521.0,200.5 520.5,200.5 520.0,200.5 519.5,200.5 519.0,200.5 518.5,200.5 518.0,200.5 517.5,200.5 517.0,200.5 516.5,200.5 516.0,200.5 515.5,200.5 515.0,200.5 514.5,200.5 514.0,200.5 513.5,200.5 513.0,200.5 512.5,200.5" fill="#1b2a6b" />
<polygon points="512.5,185.0 513.0,184.7 513.5,184.0 514.0,182.8 514.5,181.5 515.0,180.0 515.5,177.8 516.0,174.6 516.5,171.0 517.0,167.6 517.5,165.0 518.0,163.0 518.5,161.0 519.0,159.1 519.5,157.6 520.0,156.6 520.5,156.2 521.0,156.4 521.5,156.8 522.0,157.4 522.5,158.0 523.0,158.7 523.5,159.3 524.0,159.7 524.5,160.2 525.0,160.6 525.5,161.0 526.0,161.2 526.5,161.2 527.0,161.1 527.5,161.0 528.0,160.9 528.5,160.8 529.0,160.8 529.5,160.9 530.0,161.1 530.5,161.4 531.0,161.8 531.5,162.2 532.0,162.6 532.5,163.0 533.0,163.4 533.5,164.0 534.0,164.6 534.5,165.2 535.0,165.8 535.5,166.3 536.0,166.8 536.5,167.2 537.0,167.5 537.5,167.7 538.0,168.0 538.5,168.2 539.0,168.4 539.5,168.6 540.0,168.8 540.5,169.1 541.0,169.3 541.5,169.7 542.0,170.0 542.5,170.4 543.0,170.8 543.5,171.2 544.0,171.6 544.5,172.1 545.0,172.5 545.5,173.0 546.0,173.5 546.5,174.0 547.0,174.5 547.5,175.0 548.0,175.5 548.5,176.0 549.0,176.5 549.5,177.0 550.0,177.4 550.5,177.9 551.0,178.3 551.5,178.8 552.0,179.2 552.5,179.5 553.0,179.8 553.5,180.2 554.0,180.5 554.5,180.8 555.0,181.1 555.5,181.4 556.0,181.6 556.5,181.7 557.0,181.8 557.5,181.7 558.0,181.5 558.5,181.3 559.0,181.1 559.5,180.9 560.0,180.8 560.5,180.7 561.0,180.6 561.5,180.6 562.0,180.6 562.5,180.5 563.0,180.5 563.5,180.5 564.0,180.5 564.5,180.7 565.0,181.0 565.5,181.4 566.0,181.9 566.5,182.4 567.0,182.8 567.5,183.2 568.0,183.6 568.5,184.0 569.0,184.4 569.5,184.7 570.0,185.1 570.5,185.5 571.0,185.8 571.5,186.2 572.0,186.5 572.5,186.8 573.0,187.0 573.5,187.3 574.0,187.5 574.5,187.8 575.0,188.0 575.5,188.2 576.0,188.4 576.5,188.6 577.0,188.8 577.5,189.0 578.0,189.2 578.5,189.4 579.0,189.5 579.5,189.7 580.0,189.8 580.5,190.0 581.0,190.1 581.5,190.3 582.0,190.4 582.5,190.6 583.0,190.7 583.5,190.8 584.0,191.0 584.5,191.1 585.0,191.2 585.5,191.4 586.0,191.5 586.5,191.7 587.0,191.8 587.5,192.0 588.0,192.1 588.5,192.3 589.0,192.4 589.5,192.6 590.0,192.7 590.5,192.8 591.0,192.9 591.5,193.1 592.0,193.2 592.5,193.2 593.0,193.3 593.5,193.4 594.0,193.5 594.5,193.6 595.0,193.7 595.5,193.8 596.0,193.9 596.5,193.9 597.0,194.0 597.5,194.1 598.0,194.2 598.5,194.2 599.0,194.3 599.5,194.3 600.0,194.4 600.5,194.4 601.0,194.5 601.5,194.5 602.0,194.5 602.5,194.5 603.0,194.5 603.5,194.5 604.0,194.4 604.5,194.4 605.0,194.3 605.5,194.3 606.0,194.2 606.5,194.1 607.0,194.1 607.5,194.1 608.0,194.0 608.5,194.0 609.0,194.0 609.5,194.0 610.0,194.1 610.5,194.1 611.0,194.2 611.5,194.3 612.0,194.4 612.5,194.5 613.0,194.6 613.5,194.8 614.0,194.8 614.5,194.9 615.0,195.0 615.5,195.1 616.0,195.1 616.5,195.2 617.0,195.2 617.5,195.3 618.0,195.3 618.5,195.4 619.0,195.4 619.5,195.5 620.0,195.5 620.5,195.5 621.0,195.6 621.5,195.6 622.0,195.7 622.5,195.7 623.0,195.7 623.5,195.8 624.0,195.8 624.5,195.9 625.0,195.9 625.5,195.9 626.0,196.0 626.5,196.0 627.0,196.1 627.5,196.1 628.0,196.1 628.5,196.2 629.0,196.2 629.5,196.3 630.0,196.3 630.5,196.3 631.0,196.4 631.5,196.4 632.0,196.4 632.5,196.5 633.0,196.5 633.5,196.5 634.0,196.6 634.5,196.6 635.0,196.7 635.5,196.7 636.0,196.7 636.5,196.8 637.0,196.8 637.5,196.8 638.0,196.9 638.5,196.9 639.0,196.9 639.5,197.0 640.0,197.0 640.5,197.0 641.0,197.1 641.5,197.1 642.0,197.1 642.5,197.2 643.0,197.2 643.5,197.3 644.0,197.3 644.5,197.3 645.0,197.4 645.5,197.4 646.0,197.5 646.5,197.5 647.0,197.5 647.5,197.6 648.0,197.6 648.5,197.7 649.0,197.7 649.5,197.7 650.0,197.8 650.5,197.8 651.0,197.8 651.5,197.9 652.0,197.9 652.5,197.9 653.0,197.9 653.5,198.0 654.0,198.0 654.5,198.0 655.0,198.0 655.5,198.0 656.0,198.0 656.5,198.0 657.0,198.0 657.5,198.1 658.0,198.1 658.5,198.1 659.0,198.1 659.5,198.1 660.0,198.1 660.5,198.1 661.0,198.1 661.5,198.1 662.0,198.2 662.5,198.2 663.0,198.2 663.5,198.2 664.0,198.2 664.5,198.2 665.0,198.2 665.5,198.2 666.0,198.2 666.5,198.2 667.0,198.2 667.5,198.2 668.0,198.2 668.5,198.3 669.0,198.3 669.5,198.3 670.0,198.3 670.5,198.3 671.0,198.3 671.5,198.3 672.0,198.3 672.5,198.3 673.0,198.3 673.5,198.3 674.0,198.3 674.5,198.3 675.0,198.3 675.5,198.3 676.0,198.3 676.0,200.5 675.5,200.5 675.0,200.5 674.5,200.5 674.0,200.5 673.5,200.5 673.0,200.5 672.5,200.5 672.0,200.5 671.5,200.5 671.0,200.5 670.5,200.5 670.0,200.5 669.5,200.5 669.0,200.5 668.5,200.5 668.0,200.5 667.5,200.5 667.0,200.5 666.5,200.5 666.0,200.5 665.5,200.5 665.0,200.5 664.5,200.5 664.0,200.5 663.5,200.5 663.0,200.5 662.5,200.5 662.0,200.5 661.5,200.5 661.0,200.5 660.5,200.5 660.0,200.5 659.5,200.5 659.0,200.5 658.5,200.5 658.0,200.5 657.5,200.5 657.0,200.5 656.5,200.5 656.0,200.5 655.5,200.5 655.0,200.5 654.5,200.5 654.0,200.5 653.5,200.5 653.0,200.5 652.5,200.5 652.0,200.5 651.5,200.5 651.0,200.5 650.5,200.5 650.0,200.5 649.5,200.5 649.0,200.5 648.5,200.5 648.0,200.5 647.5,200.5 647.0,200.5 646.5,200.5 646.0,200.5 645.5,200.5 645.0,200.5 644.5,200.5 644.0,200.5 643.5,200.5 643.0,200.5 642.5,200.5 642.0,200.5 641.5,200.5 641.0,200.5 640.5,200.5 640.0,200.5 639.5,200.5 639.0,200.5 638.5,200.5 638.0,200.5 637.5,200.5 637.0,200.5 636.5,200.5 636.0,200.5 635.5,200.5 635.0,200.5 634.5,200.5 634.0,200.5 633.5,200.5 633.0,200.5 632.5,200.5 632.0,200.5 631.5,200.5 631.0,200.5 630.5,200.5 630.0,200.5 629.5,200.5 629.0,200.5 628.5,200.5 628.0,200.5 627.5,200.5 627.0,200.5 626.5,200.5 626.0,200.5 625.5,200.5 625.0,200.5 624.5,200.5 624.0,200.5 623.5,200.5 623.0,200.5 622.5,200.5 622.0,200.5 621.5,200.5 621.0,200.5 620.5,200.5 620.0,200.5 619.5,200.5 619.0,200.5 618.5,200.5 618.0,200.5 617.5,200.5 617.0,200.5 616.5,200.5 616.0,200.5 615.5,200.5 615.0,200.5 614.5,200.5 614.0,200.5 613.5,200.5 613.0,200.5 612.5,200.5 612.0,200.5 611.5,200.5 611.0,200.5 610.5,200.5 610.0,200.5 609.5,200.5 609.0,200.5 608.5,200.5 608.0,200.5 607.5,200.5 607.0,200.5 606.5,200.5 606.0,200.5 605.5,200.5 605.0,200.5 604.5,200.5 604.0,200.5 603.5,200.5 603.0,200.5 602.5,200.5 602.0,200.5 601.5,200.5 601.0,200.5 600.5,200.5 600.0,200.5 599.5,200.5 599.0,200.5 598.5,200.5 598.0,200.5 597.5,200.5 597.0,200.5 596.5,200.5 596.0,200.5 595.5,200.5 595.0,200.5 594.5,200.5 594.0,200.5 593.5,200.5 593.0,200.5 592.5,200.5 592.0,200.5 591.5,200.5 591.0,200.5 590.5,200.5 590.0,200.5 589.5,200.5 589.0,200.5 588.5,200.5 588.0,200.5 587.5,200.5 587.0,200.5 586.5,200.5 586.0,200.5 585.5,200.5 585.0,200.5 584.5,200.5 584.0,200.5 583.5,200.5 583.0,200.5 582.5,200.5 582.0,200.5 581.5,200.5 581.0,200.5 580.5,200.5 580.0,200.5 579.5,200.5 579.0,200.5 578.5,200.5 578.0,200.5 577.5,200.5 577.0,200.5 576.5,200.5 576.0,200.5 575.5,200.5 575.0,200.5 574.5,200.5 574.0,200.5 573.5,200.5 573.0,200.5 572.5,200.5 572.0,200.5 571.5,200.5 571.0,200.5 570.5,200.5 570.0,200.5 569.5,200.5 569.0,200.5 568.5,200.5 568.0,200.5 567.5,200.5 567.0,200.5 566.5,200.5 566.0,200.5 565.5,200.5 565.0,200.5 564.5,200.5 564.0,200.5 563.5,200.5 563.0,200.5 562.5,200.5 562.0,200.5 561.5,200.5 561.0,200.5 560.5,200.5 560.0,200.5 559.5,200.5 559.0,200.5 558.5,200.5 558.0,200.5 557.5,200.5 557.0,200.5 556.5,200.5 556.0,200.5 555.5,200.5 555.0,200.5 554.5,200.5 554.0,200.5 553.5,200.5 553.0,200.5 552.5,200.5 552.0,200.5 551.5,200.5 551.0,200.5 550.5,200.5 550.0,200.5 549.5,200.5 549.0,200.5 548.5,200.5 548.0,200.5 547.5,200.5 547.0,200.5 546.5,200.5 546.0,200.5 545.5,200.5 545.0,200.5 544.5,200.5 544.0,200.5 543.5,200.5 543.0,200.5 542.5,200.5 542.0,200.5 541.5,200.5 541.0,200.5 540.5,200.5 540.0,200.5 539.5,200.5 539.0,200.5 538.5,200.5 538.0,200.5 537.5,200.5 537.0,200.5 536.5,200.5 536.0,200.5 535.5,200.5 535.0,200.5 534.5,200.5 534.0,200.5 533.5,200.5 533.0,200.5 532.5,200.5 532.0,200.5 531.5,200.5 531.0,200.5 530.5,200.5 530.0,200.5 529.5,200.5 529.0,200.5 528.5,200.5 528.0,200.5 527.5,200.5 527.0,200.5 526.5,200.5 526.0,200.5 525.5,200.5 525.0,200.5 524.5,200.5 524.0,200.5 523.5,200.5 523.0,200.5 522.5,200.5 522.0,200.5 521.5,200.5 521.0,200.5 520.5,200.5 520.0,200.5 519.5,200.5 519.0,200.5 518.5,200.5 518.0,200.5 517.5,200.5 517.0,200.5 516.5,200.5 516.0,200.5 515.5,200.5 515.0,200.5 514.5,200.5 514.0,200.5 513.5,200.5 513.0,200.5 512.5,200.5" fill="#ff33a2" />
<polygon points="512.5,185.0 513.0,185.4 513.5,185.8 514.0,186.1 514.5,186.5 515.0,186.9 515.5,187.2 516.0,187.6 516.5,188.0 517.0,188.4 517.5,188.8 518.0,189.1 518.5,189.5 519.0,190.0 519.5,190.4 520.0,190.8 520.5,191.2 521.0,191.6 521.5,191.9 522.0,192.2 522.5,192.5 523.0,192.7 523.5,193.0 524.0,193.2 524.5,193.4 525.0,193.6 525.5,193.7 526.0,193.9 526.5,194.1 527.0,194.2 527.5,194.4 528.0,194.5 528.5,194.6 529.0,194.8 529.5,194.9 530.0,195.0 530.5,195.1 531.0,195.2 531.5,195.3 532.0,195.4 532.5,195.5 533.0,195.6 533.5,195.7 534.0,195.8 534.5,195.9 535.0,196.0 535.5,196.1 536.0,196.1 536.5,196.2 537.0,196.3 537.5,196.4 538.0,196.4 538.5,196.5 539.0,196.6 539.5,196.6 540.0,196.7 540.5,196.8 541.0,196.8 541.5,196.9 542.0,196.9 542.5,197.0 543.0,197.1 543.5,197.1 544.0,197.2 544.5,197.2 545.0,197.3 545.5,197.3 546.0,197.3 546.5,197.4 547.0,197.4 547.5,197.5 548.0,197.5 548.5,197.6 549.0,197.6 549.5,197.6 550.0,197.7 550.5,197.7 551.0,197.7 551.5,197.8 552.0,197.8 552.5,197.9 553.0,197.9 553.5,197.9 554.0,197.9 554.5,198.0 555.0,198.0 555.5,198.0 556.0,198.1 556.5,198.1 557.0,198.1 557.5,198.1 558.0,198.2 558.5,198.2 559.0,198.2 559.5,198.2 560.0,198.3 560.5,198.3 561.0,198.3 561.5,198.4 562.0,198.4 562.5,198.4 563.0,198.4 563.5,198.5 564.0,198.5 564.5,198.5 565.0,198.5 565.5,198.5 566.0,198.6 566.5,198.6 567.0,198.6 567.5,198.6 568.0,198.7 568.5,198.7 569.0,198.7 569.5,198.7 570.0,198.7 570.5,198.8 571.0,198.8 571.5,198.8 572.0,198.8 572.5,198.8 573.0,198.8 573.5,198.9 574.0,198.9 574.5,198.9 575.0,198.9 575.5,198.9 576.0,198.9 576.5,198.9 577.0,199.0 577.5,199.0 578.0,199.0 578.5,199.0 579.0,199.0 579.5,199.0 580.0,199.0 580.5,199.0 581.0,199.0 581.5,199.0 582.0,199.0 582.5,199.0 583.0,199.0 583.5,199.0 584.0,199.0 584.5,199.0 585.0,199.1 585.5,199.1 586.0,199.1 586.5,199.1 587.0,199.1 587.5,199.1 588.0,199.1 588.5,199.1 589.0,199.1 589.5,199.1 590.0,199.1 590.5,199.1 591.0,199.1 591.5,199.1 592.0,199.1 592.5,199.1 593.0,199.1 593.5,199.1 594.0,199.1 594.5,199.1 595.0,199.1 595.5,199.2 596.0,199.2 596.5,199.2 597.0,199.2 597.5,199.2 598.0,199.2 598.5,199.2 599.0,199.2 599.5,199.2 600.0,199.2 600.5,199.2 601.0,199.2 601.5,199.2 602.0,199.2 602.5,199.2 603.0,199.2 603.5,199.2 604.0,199.2 604.5,199.2 605.0,199.2 605.5,199.2 606.0,199.2 606.5,199.2 607.0,199.2 607.5,199.3 608.0,199.3 608.5,199.3 609.0,199.3 609.5,199.3 610.0,199.3 610.5,199.3 611.0,199.3 611.5,199.3 612.0,199.3 612.5,199.3 613.0,199.3 613.5,199.3 614.0,199.3 614.5,199.3 615.0,199.3 615.5,199.3 616.0,199.3 616.5,199.3 617.0,199.3 617.5,199.3 618.0,199.3 618.5,199.3 619.0,199.3 619.5,199.3 620.0,199.3 620.5,199.3 621.0,199.3 621.5,199.3 622.0,199.3 622.5,199.4 623.0,199.4 623.5,199.4 624.0,199.4 624.5,199.4 625.0,199.4 625.5,199.4 626.0,199.4 626.5,199.4 627.0,199.4 627.5,199.4 628.0,199.4 628.5,199.4 629.0,199.4 629.5,199.4 630.0,199.4 630.5,199.4 631.0,199.4 631.5,199.4 632.0,199.4 632.5,199.4 633.0,199.4 633.5,199.4 634.0,199.4 634.5,199.4 635.0,199.4 635.5,199.4 636.0,199.4 636.5,199.4 637.0,199.4 637.5,199.4 638.0,199.4 638.5,199.4 639.0,199.4 639.5,199.4 640.0,199.4 640.5,199.4 641.0,199.4 641.5,199.4 642.0,199.4 642.5,199.4 643.0,199.4 643.5,199.4 644.0,199.4 644.5,199.4 645.0,199.5 645.5,199.5 646.0,199.5 646.5,199.5 647.0,199.5 647.5,199.5 648.0,199.5 648.5,199.5 649.0,199.5 649.5,199.5 650.0,199.5 650.5,199.5 651.0,199.5 651.5,199.5 652.0,199.5 652.5,199.5 653.0,199.5 653.5,199.5 654.0,199.5 654.5,199.5 655.0,199.5 655.5,199.5 656.0,199.5 656.5,199.5 657.0,199.5 657.5,199.5 658.0,199.5 658.5,199.5 659.0,199.5 659.5,199.5 660.0,199.5 660.5,199.5 661.0,199.5 661.5,199.5 662.0,199.5 662.5,199.5 663.0,199.5 663.5,199.5 664.0,199.5 664.5,199.5 665.0,199.5 665.5,199.5 666.0,199.5 666.5,199.5 667.0,199.5 667.5,199.5 668.0,199.5 668.5,199.5 669.0,199.5 669.5,199.5 670.0,199.5 670.5,199.5 671.0,199.5 671.5,199.5 672.0,199.5 672.5,199.5 673.0,199.5 673.5,199.5 674.0,199.5 674.5,199.5 675.0,199.5 675.5,199.5 676.0,199.5 676.0,200.5 675.5,200.5 675.0,200.5 674.5,200.5 674.0,200.5 673.5,200.5 673.0,200.5 672.5,200.5 672.0,200.5 671.5,200.5 671.0,200.5 670.5,200.5 670.0,200.5 669.5,200.5 669.0,200.5 668.5,200.5 668.0,200.5 667.5,200.5 667.0,200.5 666.5,200.5 666.0,200.5 665.5,200.5 665.0,200.5 664.5,200.5 664.0,200.5 663.5,200.5 663.0,200.5 662.5,200.5 662.0,200.5 661.5,200.5 661.0,200.5 660.5,200.5 660.0,200.5 659.5,200.5 659.0,200.5 658.5,200.5 658.0,200.5 657.5,200.5 657.0,200.5 656.5,200.5 656.0,200.5 655.5,200.5 655.0,200.5 654.5,200.5 654.0,200.5 653.5,200.5 653.0,200.5 652.5,200.5 652.0,200.5 651.5,200.5 651.0,200.5 650.5,200.5 650.0,200.5 649.5,200.5 649.0,200.5 648.5,200.5 648.0,200.5 647.5,200.5 647.0,200.5 646.5,200.5 646.0,200.5 645.5,200.5 645.0,200.5 644.5,200.5 644.0,200.5 643.5,200.5 643.0,200.5 642.5,200.5 642.0,200.5 641.5,200.5 641.0,200.5 640.5,200.5 640.0,200.5 639.5,200.5 639.0,200.5 638.5,200.5 638.0,200.5 637.5,200.5 637.0,200.5 636.5,200.5 636.0,200.5 635.5,200.5 635.0,200.5 634.5,200.5 634.0,200.5 633.5,200.5 633.0,200.5 632.5,200.5 632.0,200.5 631.5,200.5 631.0,200.5 630.5,200.5 630.0,200.5 629.5,200.5 629.0,200.5 628.5,200.5 628.0,200.5 627.5,200.5 627.0,200.5 626.5,200.5 626.0,200.5 625.5,200.5 625.0,200.5 624.5,200.5 624.0,200.5 623.5,200.5 623.0,200.5 622.5,200.5 622.0,200.5 621.5,200.5 621.0,200.5 620.5,200.5 620.0,200.5 619.5,200.5 619.0,200.5 618.5,200.5 618.0,200.5 617.5,200.5 617.0,200.5 616.5,200.5 616.0,200.5 615.5,200.5 615.0,200.5 614.5,200.5 614.0,200.5 613.5,200.5 613.0,200.5 612.5,200.5 612.0,200.5 611.5,200.5 611.0,200.5 610.5,200.5 610.0,200.5 609.5,200.5 609.0,200.5 608.5,200.5 608.0,200.5 607.5,200.5 607.0,200.5 606.5,200.5 606.0,200.5 605.5,200.5 605.0,200.5 604.5,200.5 604.0,200.5 603.5,200.5 603.0,200.5 602.5,200.5 602.0,200.5 601.5,200.5 601.0,200.5 600.5,200.5 600.0,200.5 599.5,200.5 599.0,200.5 598.5,200.5 598.0,200.5 597.5,200.5 597.0,200.5 596.5,200.5 596.0,200.5 595.5,200.5 595.0,200.5 594.5,200.5 594.0,200.5 593.5,200.5 593.0,200.5 592.5,200.5 592.0,200.5 591.5,200.5 591.0,200.5 590.5,200.5 590.0,200.5 589.5,200.5 589.0,200.5 588.5,200.5 588.0,200.5 587.5,200.5 587.0,200.5 586.5,200.5 586.0,200.5 585.5,200.5 585.0,200.5 584.5,200.5 584.0,200.5 583.5,200.5 583.0,200.5 582.5,200.5 582.0,200.5 581.5,200.5 581.0,200.5 580.5,200.5 580.0,200.5 579.5,200.5 579.0,200.5 578.5,200.5 578.0,200.5 577.5,200.5 577.0,200.5 576.5,200.5 576.0,200.5 575.5,200.5 575.0,200.5 574.5,200.5 574.0,200.5 573.5,200.5 573.0,200.5 572.5,200.5 572.0,200.5 571.5,200.5 571.0,200.5 570.5,200.5 570.0,200.5 569.5,200.5 569.0,200.5 568.5,200.5 568.0,200.5 567.5,200.5 567.0,200.5 566.5,200.5 566.0,200.5 565.5,200.5 565.0,200.5 564.5,200.5 564.0,200.5 563.5,200.5 563.0,200.5 562.5,200.5 562.0,200.5 561.5,200.5 561.0,200.5 560.5,200.5 560.0,200.5 559.5,200.5 559.0,200.5 558.5,200.5 558.0,200.5 557.5,200.5 557.0,200.5 556.5,200.5 556.0,200.5 555.5,200.5 555.0,200.5 554.5,200.5 554.0,200.5 553.5,200.5 553.0,200.5 552.5,200.5 552.0,200.5 551.5,200.5 551.0,200.5 550.5,200.5 550.0,200.5 549.5,200.5 549.0,200.5 548.5,200.5 548.0,200.5 547.5,200.5 547.0,200.5 546.5,200.5 546.0,200.5 545.5,200.5 545.0,200.5 544.5,200.5 544.0,200.5 543.5,200.5 543.0,200.5 542.5,200.5 542.0,200.5 541.5,200.5 541.0,200.5 540.5,200.5 540.0,200.5 539.5,200.5 539.0,200.5 538.5,200.5 538.0,200.5 537.5,200.5 537.0,200.5 536.5,200.5 536.0,200.5 535.5,200.5 535.0,200.5 534.5,200.5 534.0,200.5 533.5,200.5 533.0,200.5 532.5,200.5 532.0,200.5 531.5,200.5 531.0,200.5 530.5,200.5 530.0,200.5 529.5,200.5 529.0,200.5 528.5,200.5 528.0,200.5 527.5,200.5 527.0,200.5 526.5,200.5 526.0,200.5 525.5,200.5 525.0,200.5 524.5,200.5 524.0,200.5 523.5,200.5 523.0,200.5 522.5,200.5 522.0,200.5 521.5,200.5 521.0,200.5 520.5,200.5 520.0,200.5 519.5,200.5 519.0,200.5 518.5,200.5 518.0,200.5 517.5,200.5 517.0,200.5 516.5,200.5 516.0,200.5 515.5,200.5 515.0,200.5 514.5,200.5 514.0,200.5 513.5,200.5 513.0,200.5 512.5,200.5" fill="#5cf07d" />
</g>
<g clip-path="url(#cc)">
<polygon points="26.0,401.9 27.0,401.1 28.0,402.2 29.0,402.3 30.0,402.7 31.0,403.1 32.0,402.9 33.0,403.7 34.0,403.8 35.0,405.1 36.0,404.5 37.0,404.6 38.0,404.8 39.0,404.9 40.0,404.9 41.0,405.3 42.0,405.7 43.0,405.7 44.0,406.1 45.0,406.0 46.0,406.2 47.0,406.7 48.0,406.5 49.0,406.4 50.0,406.5 51.0,406.8 52.0,407.2 53.0,406.6 54.0,406.6 55.0,407.0 56.0,406.5 57.0,406.6 58.0,406.9 59.0,406.8 60.0,406.7 61.0,406.9 62.0,406.0 63.0,407.0 64.0,406.5 65.0,406.3 66.0,406.8 67.0,406.9 68.1,406.6 69.1,406.4 70.1,406.7 71.1,406.7 72.1,407.0 73.1,406.9 74.1,406.7 75.1,406.9 76.1,406.6 77.1,406.4 78.1,406.7 79.1,406.7 80.1,406.5 81.1,406.3 82.1,406.5 83.1,405.8 84.1,406.6 85.1,406.5 86.1,405.9 87.1,406.3 88.1,406.0 89.1,406.4 90.1,405.7 91.1,405.9 92.1,406.3 93.1,406.3 94.1,405.5 95.1,405.8 96.1,406.0 97.1,405.7 98.1,406.2 99.1,405.4 100.1,405.8 101.1,405.4 102.1,405.9 103.1,405.5 104.1,405.4 105.1,405.0 106.1,405.8 107.1,405.5 108.1,405.4 109.1,405.5 110.1,405.2 111.1,404.9 112.1,404.8 113.1,404.7 114.1,405.2 115.1,404.5 116.1,404.6 117.1,404.6 118.1,404.7 119.1,404.7 120.1,404.2 121.1,404.0 122.1,404.4 123.1,404.6 124.1,404.4 125.1,404.2 126.1,404.0 127.1,404.1 128.1,403.9 129.1,404.1 130.1,403.7 131.1,403.8 132.1,403.7 133.1,403.8 134.1,403.6 135.1,404.1 136.1,403.8 137.1,403.7 138.1,402.7 139.1,403.0 140.1,402.8 141.1,403.0 142.1,402.1 143.1,402.7 144.1,402.5 145.1,401.7 146.1,401.5 147.1,401.3 148.1,401.2 149.1,401.1 150.1,401.2 151.2,400.4 152.2,400.4 153.2,400.1 154.2,400.3 155.2,399.8 156.2,399.8 157.2,399.0 158.2,399.0 159.2,398.6 160.2,399.0 161.2,398.6 162.2,398.2 163.2,397.9 164.2,397.9 165.2,397.4 166.2,397.2 167.2,397.3 168.2,397.6 169.2,396.6 170.2,396.3 171.2,395.9 172.2,395.6 173.2,395.8 174.2,395.6 175.2,395.1 176.2,394.9 177.2,394.6 178.2,394.3 179.2,393.6 180.2,393.6 181.2,393.4 182.2,392.9 183.2,392.7 184.2,392.4 185.2,392.3 186.2,392.3 187.2,391.8 188.2,391.6 189.2,391.6 190.2,391.3 191.2,391.4 192.2,390.2 193.2,390.7 194.2,390.1 195.2,390.0 196.2,389.9 197.2,389.7 198.2,389.4 199.2,388.9 200.2,388.9 201.2,388.1 202.2,387.8 203.2,387.6 204.2,386.9 205.2,387.1 206.2,386.4 207.2,386.2 208.2,385.2 209.2,384.7 210.2,384.3 211.2,384.0 212.2,383.2 213.2,382.9 214.2,382.4 215.2,382.3 216.2,381.3 217.2,381.2 218.2,380.3 219.2,379.7 220.2,379.3 221.2,378.7 222.2,378.5 223.2,378.2 224.2,377.5 225.2,377.1 226.2,376.8 227.2,376.0 228.2,375.4 229.2,374.8 230.2,374.0 231.2,374.1 232.2,372.9 233.2,373.0 234.2,372.4 235.3,372.2 236.3,371.4 237.3,370.7 238.3,370.5 239.3,369.7 240.3,369.3 241.3,368.9 242.3,368.3 243.3,367.8 244.3,367.2 245.3,366.8 246.3,365.8 247.3,365.8 248.3,365.1 249.3,365.1 250.3,364.7 251.3,363.4 252.3,363.4 253.3,362.8 254.3,362.1 255.3,362.0 256.3,361.2 257.3,360.4 258.3,360.3 259.3,359.8 260.3,359.4 261.3,358.6 262.3,358.5 263.3,358.0 264.3,357.1 265.3,356.7 266.3,356.3 267.3,355.7 268.3,355.8 269.3,354.9 270.3,354.1 271.3,353.7 272.3,353.3 273.3,353.4 274.3,352.3 275.3,351.9 276.3,351.5 277.3,350.9 278.3,350.9 279.3,349.7 280.3,349.6 281.3,348.9 282.3,348.5 283.3,347.6 284.3,347.8 285.3,346.8 286.3,346.4 287.3,345.6 288.3,345.2 289.3,345.0 290.3,344.6 291.3,344.0 292.3,343.6 293.3,342.9 294.3,342.2 295.3,341.9 296.3,341.3 297.3,340.6 298.3,340.3 299.3,339.9 300.3,339.1 301.3,338.5 302.3,338.2 303.3,338.0 304.3,336.9 305.3,336.4 306.3,335.8 307.3,335.6 308.3,334.3 309.3,334.3 310.3,334.0 311.3,332.9 312.3,332.9 313.3,332.1 314.3,331.3 315.3,330.9 316.3,329.9 317.3,329.5 318.4,329.6 319.4,328.3 320.4,328.4 321.4,327.3 322.4,327.0 323.4,326.2 324.4,325.0 325.4,324.8 326.4,324.4 327.4,323.5 328.4,322.9 329.4,322.7 330.4,321.9 331.4,321.0 332.4,320.7 333.4,320.5 334.4,319.6 335.4,319.4 336.4,319.0 337.4,318.1 338.4,317.2 339.4,316.6 340.4,316.4 341.4,316.1 342.4,315.4 343.4,315.0 344.4,314.2 345.4,313.9 346.4,313.2 347.4,312.7 348.4,312.0 349.4,311.4 350.4,311.2 351.4,310.5 352.4,310.0 353.4,309.9 354.4,309.2 355.4,309.5 356.4,308.5 357.4,307.6 358.4,307.4 359.4,306.8 360.4,306.0 361.4,305.9 362.4,304.9 363.4,303.8 364.4,304.2 365.4,303.3 366.4,303.3 367.4,302.1 368.4,301.4 369.4,301.5 370.4,300.3 371.4,300.0 372.4,299.7 373.4,298.8 374.4,298.1 375.4,297.5 376.4,297.1 377.4,296.1 378.4,295.8 379.4,295.2 380.4,295.0 381.4,293.6 382.4,292.9 383.4,292.6 384.4,291.7 385.4,291.2 386.4,290.5 387.4,290.1 388.4,289.0 389.4,288.4 390.4,287.2 391.4,286.9 392.4,286.8 393.4,285.6 394.4,284.9 395.4,284.1 396.4,283.9 397.4,283.1 398.4,282.0 399.4,281.8 400.4,281.0 401.5,280.4 402.5,279.4 403.5,279.3 404.5,278.2 405.5,277.4 406.5,276.6 407.5,275.9 408.5,275.4 409.5,274.4 410.5,274.0 411.5,273.0 412.5,272.4 413.5,271.5 414.5,270.5 415.5,269.1 416.5,268.8 417.5,268.1 418.5,267.0 419.5,266.2 420.5,265.1 421.5,264.2 422.5,263.1 423.5,262.8 424.5,261.6 425.5,260.5 426.5,259.4 427.5,258.8 428.5,258.2 429.5,257.1 430.5,255.9 431.5,255.5 432.5,254.6 433.5,253.6 434.5,252.6 435.5,251.8 436.5,250.7 437.5,249.8 438.5,248.5 439.5,248.2 440.5,246.9 441.5,246.4 442.5,244.5 442.5,405.2 441.5,406.2 440.5,406.6 439.5,407.4 438.5,407.9 437.5,408.5 436.5,409.1 435.5,408.3 434.5,408.7 433.5,409.0 432.5,408.4 431.5,408.5 430.5,407.8 429.5,407.9 428.5,407.4 427.5,406.6 426.5,406.6 425.5,406.1 424.5,406.3 423.5,405.7 422.5,405.6 421.5,405.3 420.5,405.6 419.5,405.0 418.5,405.3 417.5,404.9 416.5,404.8 415.5,404.7 414.5,404.1 413.5,404.4 412.5,403.9 411.5,403.6 410.5,403.6 409.5,403.6 408.5,403.3 407.5,402.7 406.5,402.7 405.5,402.0 404.5,402.1 403.5,402.5 402.5,402.4 401.5,402.2 400.4,401.9 399.4,402.0 398.4,401.9 397.4,401.7 396.4,401.6 395.4,401.1 394.4,401.6 393.4,401.6 392.4,400.7 391.4,400.7 390.4,401.1 389.4,400.9 388.4,400.9 387.4,400.7 386.4,400.1 385.4,400.4 384.4,400.2 383.4,400.0 382.4,400.1 381.4,400.6 380.4,399.9 379.4,399.7 378.4,399.5 377.4,399.6 376.4,399.5 375.4,399.9 374.4,399.3 373.4,399.5 372.4,399.7 371.4,399.2 370.4,398.6 369.4,398.8 368.4,398.9 367.4,398.8 366.4,398.9 365.4,398.7 364.4,399.0 363.4,398.5 362.4,398.3 361.4,398.2 360.4,397.9 359.4,398.0 358.4,397.7 357.4,398.0 356.4,397.7 355.4,398.2 354.4,397.8 353.4,397.5 352.4,397.9 351.4,397.4 350.4,397.5 349.4,397.6 348.4,397.3 347.4,397.5 346.4,397.2 345.4,397.1 344.4,397.0 343.4,397.0 342.4,397.3 341.4,397.1 340.4,396.9 339.4,396.9 338.4,396.7 337.4,396.4 336.4,397.0 335.4,396.4 334.4,396.7 333.4,396.7 332.4,396.2 331.4,396.9 330.4,396.2 329.4,396.5 328.4,396.3 327.4,396.9 326.4,396.2 325.4,395.5 324.4,396.7 323.4,395.7 322.4,396.1 321.4,396.2 320.4,396.2 319.4,395.6 318.4,395.7 317.3,396.0 316.3,396.0 315.3,395.8 314.3,395.4 313.3,396.0 312.3,396.2 311.3,396.0 310.3,395.8 309.3,395.8 308.3,395.3 307.3,396.0 306.3,395.8 305.3,395.8 304.3,396.3 303.3,395.5 302.3,395.9 301.3,396.0 300.3,396.0 299.3,395.9 298.3,395.5 297.3,395.7 296.3,395.8 295.3,396.0 294.3,395.8 293.3,395.4 292.3,395.8 291.3,395.7 290.3,396.2 289.3,396.1 288.3,395.7 287.3,395.8 286.3,396.4 285.3,396.0 284.3,396.5 283.3,396.1 282.3,395.8 281.3,396.1 280.3,395.7 279.3,396.0 278.3,395.7 277.3,396.2 276.3,396.4 275.3,396.2 274.3,395.9 273.3,395.6 272.3,396.0 271.3,395.8 270.3,396.1 269.3,396.2 268.3,396.6 267.3,396.6 266.3,396.8 265.3,396.4 264.3,396.4 263.3,396.5 262.3,396.4 261.3,396.4 260.3,396.7 259.3,396.5 258.3,396.5 257.3,397.0 256.3,396.8 255.3,397.0 254.3,397.1 253.3,397.4 252.3,397.0 251.3,396.9 250.3,397.4 249.3,397.3 248.3,397.7 247.3,397.3 246.3,398.0 245.3,397.5 244.3,397.8 243.3,398.2 242.3,397.9 241.3,398.4 240.3,398.2 239.3,398.0 238.3,398.2 237.3,398.6 236.3,398.5 235.3,398.7 234.2,398.6 233.2,399.0 232.2,398.4 231.2,399.0 230.2,399.1 229.2,399.3 228.2,399.2 227.2,399.8 226.2,400.3 225.2,399.9 224.2,400.0 223.2,400.5 222.2,400.5 221.2,399.9 220.2,400.6 219.2,400.6 218.2,400.4 217.2,400.8 216.2,401.1 215.2,401.4 214.2,401.0 213.2,401.6 212.2,401.4 211.2,401.5 210.2,401.6 209.2,401.8 208.2,402.3 207.2,402.2 206.2,402.3 205.2,402.5 204.2,402.3 203.2,402.9 202.2,403.0 201.2,403.2 200.2,403.4 199.2,403.3 198.2,403.8 197.2,403.4 196.2,404.2 195.2,403.9 194.2,404.1 193.2,404.8 192.2,405.0 191.2,405.0 190.2,405.0 189.2,404.8 188.2,405.4 187.2,406.5 186.2,406.4 185.2,406.2 184.2,406.6 183.2,406.6 182.2,407.1 181.2,407.3 180.2,407.7 179.2,407.8 178.2,407.8 177.2,408.4 176.2,408.5 175.2,408.7 174.2,409.3 173.2,409.1 172.2,408.8 171.2,409.4 170.2,410.5 169.2,410.9 168.2,410.8 167.2,410.9 166.2,411.7 165.2,411.8 164.2,412.2 163.2,412.7 162.2,412.3 161.2,413.0 160.2,413.4 159.2,413.6 158.2,414.4 157.2,414.4 156.2,414.7 155.2,415.2 154.2,415.8 153.2,415.7 152.2,416.5 151.2,416.1 150.1,417.0 149.1,417.1 148.1,417.5 147.1,417.6 146.1,418.4 145.1,418.6 144.1,418.3 143.1,418.9 142.1,419.2 141.1,419.3 140.1,419.6 139.1,419.7 138.1,420.2 137.1,420.4 136.1,420.7 135.1,421.2 134.1,421.1 133.1,421.0 132.1,421.3 131.1,421.6 130.1,421.9 129.1,422.0 128.1,422.0 127.1,422.1 126.1,422.7 125.1,422.7 124.1,422.9 123.1,423.0 122.1,423.8 121.1,423.6 120.1,423.7 119.1,423.9 118.1,423.9 117.1,424.3 116.1,424.4 115.1,424.7 114.1,425.2 113.1,425.1 112.1,425.3 111.1,425.4 110.1,425.9 109.1,425.7 108.1,426.1 107.1,425.8 106.1,426.4 105.1,426.7 104.1,426.8 103.1,426.9 102.1,427.2 101.1,427.5 100.1,427.3 99.1,427.6 98.1,427.5 97.1,427.7 96.1,427.8 95.1,427.7 94.1,428.2 93.1,428.5 92.1,428.1 91.1,428.3 90.1,429.0 89.1,429.1 88.1,428.7 87.1,429.2 86.1,429.2 85.1,429.0 84.1,429.7 83.1,429.4 82.1,429.7 81.1,429.9 80.1,429.4 79.1,430.1 78.1,430.2 77.1,430.9 76.1,430.8 75.1,430.4 74.1,430.5 73.1,430.4 72.1,430.9 71.1,431.0 70.1,430.7 69.1,431.1 68.1,430.8 67.0,430.9 66.0,431.3 65.0,431.3 64.0,431.4 63.0,431.0 62.0,431.0 61.0,431.0 60.0,431.5 59.0,431.2 58.0,431.2 57.0,431.4 56.0,431.2 55.0,431.1 54.0,431.2 53.0,431.5 52.0,431.0 51.0,430.9 50.0,431.4 49.0,430.8 48.0,431.4 47.0,430.9 46.0,431.2 45.0,431.1 44.0,430.9 43.0,430.7 42.0,430.9 41.0,430.5 40.0,430.5 39.0,431.0 38.0,430.7 37.0,430.6 36.0,430.6 35.0,430.8 34.0,430.7 33.0,430.3 32.0,430.2 31.0,430.4 30.0,430.3 29.0,430.2 28.0,429.9 27.0,430.1 26.0,430.0" fill="#7ffcf7" />
<polygon points="26.0,407.8 27.0,407.9 28.0,407.7 29.0,408.0 30.0,408.5 31.0,408.5 32.0,409.1 33.0,409.3 34.0,409.4 35.0,409.6 36.0,410.0 37.0,410.3 38.0,410.5 39.0,410.3 40.0,410.6 41.0,410.5 42.0,410.8 43.0,410.7 44.0,411.1 45.0,410.8 46.0,411.0 47.0,411.3 48.0,411.5 49.0,411.2 50.0,411.4 51.0,411.6 52.0,411.7 53.0,411.5 54.0,411.7 55.0,411.7 56.0,412.1 57.0,411.9 58.0,411.6 59.0,411.4 60.0,411.9 61.0,412.1 62.0,412.0 63.0,412.1 64.0,411.9 65.0,411.7 66.0,412.1 67.0,412.0 68.1,412.1 69.1,411.7 70.1,412.0 71.1,411.9 72.1,412.1 73.1,411.8 74.1,411.8 75.1,411.8 76.1,412.1 77.1,411.8 78.1,411.6 79.1,411.5 80.1,411.5 81.1,411.9 82.1,411.2 83.1,411.3 84.1,411.6 85.1,411.6 86.1,411.3 87.1,411.4 88.1,411.4 89.1,411.4 90.1,411.1 91.1,411.3 92.1,411.0 93.1,411.2 94.1,410.6 95.1,410.9 96.1,410.4 97.1,410.2 98.1,410.6 99.1,410.2 100.1,410.4 101.1,410.0 102.1,410.4 103.1,410.0 104.1,409.7 105.1,409.9 106.1,409.9 107.1,409.5 108.1,409.7 109.1,409.9 110.1,409.6 111.1,409.3 112.1,409.1 113.1,409.2 114.1,408.7 115.1,408.3 116.1,408.7 117.1,408.5 118.1,409.0 119.1,408.6 120.1,408.3 121.1,408.2 122.1,408.5 123.1,408.1 124.1,408.1 125.1,408.2 126.1,408.2 127.1,408.1 128.1,408.1 129.1,408.3 130.1,408.3 131.1,407.6 132.1,408.4 133.1,407.8 134.1,408.0 135.1,407.6 136.1,407.7 137.1,407.6 138.1,407.5 139.1,407.6 140.1,407.4 141.1,407.0 142.1,407.0 143.1,407.0 144.1,406.8 145.1,406.4 146.1,406.2 147.1,406.0 148.1,405.5 149.1,405.3 150.1,405.6 151.2,405.0 152.2,404.9 153.2,404.5 154.2,404.7 155.2,404.5 156.2,403.9 157.2,403.8 158.2,403.4 159.2,403.6 160.2,403.2 161.2,402.6 162.2,402.8 163.2,402.4 164.2,402.2 165.2,401.9 166.2,401.4 167.2,401.2 168.2,401.2 169.2,400.8 170.2,400.4 171.2,400.7 172.2,400.0 173.2,399.7 174.2,399.4 175.2,399.4 176.2,399.2 177.2,398.7 178.2,398.6 179.2,397.8 180.2,397.8 181.2,397.5 182.2,397.3 183.2,397.1 184.2,396.3 185.2,397.0 186.2,395.9 187.2,395.9 188.2,395.7 189.2,395.4 190.2,395.0 191.2,394.0 192.2,394.1 193.2,394.1 194.2,393.5 195.2,393.1 196.2,392.5 197.2,392.9 198.2,392.4 199.2,391.8 200.2,391.6 201.2,391.3 202.2,390.7 203.2,390.5 204.2,390.2 205.2,389.9 206.2,389.6 207.2,389.0 208.2,388.5 209.2,388.3 210.2,387.6 211.2,387.1 212.2,387.2 213.2,386.4 214.2,386.1 215.2,385.8 216.2,385.0 217.2,384.9 218.2,384.4 219.2,383.8 220.2,383.4 221.2,382.7 222.2,381.9 223.2,381.8 224.2,381.2 225.2,381.0 226.2,380.4 227.2,379.8 228.2,379.4 229.2,379.2 230.2,378.6 231.2,378.0 232.2,377.5 233.2,376.9 234.2,376.4 235.3,376.0 236.3,375.4 237.3,375.0 238.3,374.2 239.3,373.6 240.3,373.1 241.3,372.8 242.3,372.7 243.3,372.1 244.3,371.2 245.3,370.5 246.3,370.5 247.3,369.9 248.3,369.0 249.3,368.9 250.3,368.2 251.3,367.9 252.3,367.2 253.3,366.8 254.3,366.1 255.3,365.4 256.3,365.0 257.3,364.4 258.3,364.2 259.3,363.4 260.3,362.8 261.3,362.8 262.3,362.4 263.3,362.0 264.3,361.5 265.3,360.6 266.3,360.3 267.3,359.9 268.3,359.5 269.3,358.7 270.3,358.7 271.3,358.3 272.3,357.5 273.3,357.3 274.3,357.0 275.3,356.3 276.3,356.0 277.3,355.5 278.3,354.9 279.3,354.4 280.3,353.7 281.3,353.5 282.3,352.7 283.3,352.1 284.3,351.9 285.3,351.1 286.3,350.8 287.3,350.5 288.3,349.8 289.3,349.3 290.3,349.0 291.3,348.5 292.3,347.6 293.3,347.1 294.3,347.2 295.3,346.5 296.3,345.5 297.3,345.2 298.3,344.9 299.3,344.2 300.3,343.9 301.3,343.2 302.3,342.6 303.3,341.6 304.3,341.2 305.3,340.8 306.3,339.5 307.3,339.2 308.3,338.5 309.3,337.7 310.3,337.0 311.3,336.1 312.3,335.6 313.3,335.3 314.3,334.8 315.3,334.2 316.3,333.6 317.3,333.0 318.4,332.2 319.4,331.4 320.4,331.1 321.4,330.6 322.4,330.0 323.4,329.1 324.4,328.8 325.4,328.0 326.4,327.8 327.4,327.0 328.4,326.7 329.4,326.2 330.4,325.6 331.4,325.3 332.4,324.3 333.4,323.5 334.4,323.6 335.4,323.2 336.4,322.6 337.4,321.8 338.4,321.3 339.4,320.7 340.4,319.8 341.4,319.4 342.4,319.1 343.4,318.3 344.4,318.3 345.4,317.0 346.4,316.7 347.4,316.5 348.4,315.6 349.4,314.9 350.4,314.3 351.4,313.9 352.4,313.8 353.4,313.1 354.4,312.5 355.4,311.8 356.4,311.5 357.4,310.8 358.4,310.1 359.4,309.6 360.4,309.2 361.4,308.8 362.4,308.0 363.4,307.6 364.4,307.3 365.4,306.2 366.4,305.5 367.4,305.4 368.4,304.7 369.4,304.1 370.4,303.6 371.4,302.9 372.4,302.5 373.4,301.7 374.4,301.3 375.4,300.4 376.4,299.8 377.4,299.4 378.4,298.7 379.4,298.3 380.4,297.6 381.4,296.9 382.4,296.4 383.4,295.6 384.4,294.8 385.4,294.3 386.4,293.7 387.4,293.2 388.4,292.7 389.4,292.2 390.4,291.5 391.4,291.1 392.4,290.3 393.4,289.4 394.4,289.1 395.4,288.3 396.4,287.3 397.4,286.8 398.4,286.3 399.4,285.4 400.4,284.9 401.5,284.1 402.5,283.4 403.5,282.5 404.5,281.9 405.5,281.0 406.5,280.4 407.5,279.2 408.5,278.8 409.5,278.2 410.5,277.3 411.5,276.4 412.5,275.7 413.5,274.7 414.5,273.9 415.5,273.2 416.5,272.5 417.5,271.9 418.5,270.7 419.5,270.3 420.5,269.0 421.5,268.4 422.5,267.7 423.5,267.1 424.5,266.0 425.5,264.8 426.5,264.5 427.5,263.6 428.5,262.6 429.5,261.8 430.5,261.0 431.5,260.3 432.5,259.6 433.5,258.3 434.5,258.2 435.5,256.8 436.5,255.9 437.5,255.2 438.5,254.2 439.5,253.7 440.5,252.6 441.5,251.4 442.5,250.4 442.5,403.9 441.5,404.4 440.5,404.8 439.5,405.1 438.5,405.6 437.5,405.3 436.5,405.3 435.5,405.6 434.5,405.2 433.5,405.2 432.5,405.0 431.5,404.2 430.5,404.2 429.5,403.9 428.5,403.8 427.5,403.3 426.5,402.9 425.5,402.7 424.5,402.0 423.5,402.1 422.5,402.1 421.5,402.0 420.5,401.8 419.5,401.6 418.5,401.2 417.5,401.0 416.5,400.8 415.5,401.0 414.5,400.7 413.5,400.7 412.5,400.5 411.5,400.7 410.5,400.0 409.5,400.5 408.5,400.3 407.5,399.9 406.5,399.9 405.5,399.6 404.5,399.7 403.5,399.2 402.5,399.1 401.5,399.2 400.4,399.0 399.4,399.1 398.4,398.7 397.4,398.5 396.4,398.1 395.4,398.3 394.4,397.9 393.4,398.0 392.4,397.6 391.4,397.2 390.4,397.6 389.4,397.1 388.4,396.9 387.4,396.6 386.4,396.8 385.4,396.6 384.4,396.6 383.4,396.5 382.4,396.1 381.4,396.1 380.4,395.9 379.4,395.4 378.4,396.2 377.4,396.0 376.4,395.6 375.4,395.2 374.4,395.3 373.4,395.4 372.4,395.5 371.4,395.4 370.4,395.2 369.4,395.1 368.4,394.7 367.4,394.9 366.4,394.7 365.4,394.7 364.4,394.5 363.4,394.5 362.4,394.4 361.4,394.5 360.4,394.4 359.4,394.0 358.4,394.1 357.4,394.1 356.4,393.9 355.4,394.2 354.4,393.9 353.4,394.2 352.4,394.1 351.4,393.7 350.4,393.6 349.4,393.6 348.4,393.5 347.4,393.5 346.4,393.8 345.4,393.8 344.4,393.7 343.4,393.6 342.4,393.2 341.4,393.4 340.4,393.3 339.4,393.1 338.4,393.4 337.4,393.0 336.4,392.7 335.4,392.9 334.4,393.0 333.4,392.7 332.4,393.1 331.4,392.8 330.4,392.6 329.4,392.5 328.4,392.8 327.4,392.5 326.4,392.9 325.4,392.9 324.4,392.5 323.4,392.3 322.4,392.6 321.4,392.1 320.4,392.4 319.4,392.1 318.4,392.1 317.3,392.4 316.3,392.3 315.3,392.5 314.3,392.5 313.3,391.9 312.3,391.9 311.3,392.3 310.3,392.2 309.3,392.1 308.3,392.3 307.3,392.2 306.3,392.1 305.3,392.0 304.3,392.1 303.3,392.0 302.3,392.0 301.3,391.9 300.3,392.2 299.3,392.0 298.3,392.3 297.3,392.0 296.3,391.9 295.3,392.3 294.3,392.0 293.3,392.2 292.3,392.2 291.3,392.0 290.3,392.0 289.3,392.0 288.3,391.8 287.3,392.3 286.3,391.9 285.3,392.2 284.3,392.2 283.3,392.0 282.3,391.6 281.3,392.3 280.3,392.4 279.3,392.0 278.3,392.1 277.3,392.5 276.3,392.1 275.3,392.2 274.3,392.5 273.3,392.4 272.3,392.4 271.3,392.5 270.3,392.4 269.3,392.6 268.3,392.6 267.3,393.1 266.3,392.7 265.3,393.0 264.3,392.8 263.3,393.0 262.3,392.9 261.3,393.1 260.3,393.4 259.3,393.2 258.3,393.4 257.3,393.1 256.3,393.7 255.3,393.3 254.3,393.3 253.3,393.6 252.3,393.9 251.3,393.5 250.3,393.7 249.3,393.5 248.3,393.5 247.3,394.0 246.3,394.2 245.3,394.0 244.3,394.3 243.3,394.4 242.3,394.7 241.3,394.6 240.3,394.4 239.3,394.6 238.3,394.7 237.3,395.0 236.3,395.1 235.3,395.4 234.2,395.3 233.2,395.1 232.2,395.5 231.2,395.6 230.2,395.5 229.2,395.9 228.2,395.6 227.2,396.2 226.2,396.2 225.2,396.5 224.2,396.3 223.2,396.6 222.2,396.7 221.2,396.9 220.2,396.8 219.2,396.6 218.2,396.9 217.2,397.0 216.2,397.2 215.2,397.2 214.2,397.8 213.2,397.5 212.2,397.7 211.2,398.4 210.2,398.3 209.2,398.5 208.2,398.1 207.2,398.7 206.2,398.9 205.2,398.7 204.2,399.0 203.2,399.4 202.2,399.5 201.2,399.6 200.2,399.5 199.2,399.7 198.2,400.0 197.2,400.2 196.2,400.5 195.2,400.7 194.2,400.8 193.2,401.1 192.2,401.3 191.2,401.8 190.2,401.7 189.2,401.8 188.2,402.2 187.2,402.6 186.2,402.7 185.2,402.9 184.2,403.2 183.2,403.2 182.2,403.3 181.2,403.6 180.2,403.8 179.2,404.3 178.2,404.2 177.2,404.7 176.2,405.0 175.2,404.9 174.2,405.2 173.2,405.9 172.2,405.4 171.2,406.2 170.2,406.3 169.2,406.6 168.2,407.0 167.2,407.2 166.2,407.4 165.2,408.2 164.2,407.9 163.2,408.2 162.2,408.7 161.2,408.9 160.2,408.9 159.2,409.5 158.2,409.4 157.2,409.9 156.2,410.5 155.2,410.5 154.2,411.1 153.2,411.2 152.2,411.3 151.2,411.5 150.1,411.9 149.1,412.2 148.1,412.5 147.1,412.6 146.1,413.0 145.1,413.3 144.1,413.7 143.1,413.8 142.1,414.2 141.1,414.7 140.1,414.5 139.1,415.2 138.1,415.4 137.1,415.6 136.1,415.6 135.1,416.2 134.1,416.3 133.1,416.8 132.1,416.5 131.1,417.1 130.1,417.3 129.1,417.8 128.1,418.1 127.1,418.2 126.1,418.4 125.1,418.8 124.1,419.0 123.1,419.3 122.1,419.7 121.1,419.9 120.1,420.0 119.1,419.9 118.1,420.5 117.1,420.6 116.1,420.7 115.1,421.1 114.1,421.3 113.1,421.5 112.1,421.5 111.1,421.9 110.1,421.8 109.1,422.2 108.1,422.3 107.1,422.2 106.1,422.3 105.1,422.7 104.1,423.2 103.1,422.9 102.1,423.0 101.1,423.3 100.1,423.4 99.1,424.1 98.1,423.8 97.1,423.8 96.1,424.3 95.1,424.1 94.1,424.1 93.1,424.5 92.1,424.7 91.1,424.6 90.1,424.5 89.1,425.0 88.1,425.0 87.1,425.1 86.1,424.9 85.1,425.3 84.1,425.3 83.1,425.2 82.1,425.5 81.1,425.6 80.1,425.6 79.1,426.0 78.1,426.0 77.1,426.1 76.1,426.3 75.1,426.0 74.1,426.0 73.1,425.9 72.1,426.3 71.1,426.5 70.1,426.4 69.1,426.2 68.1,426.2 67.0,426.6 66.0,426.4 65.0,426.3 64.0,426.7 63.0,426.3 62.0,426.3 61.0,426.8 60.0,426.3 59.0,426.9 58.0,427.0 57.0,426.8 56.0,426.8 55.0,426.7 54.0,426.7 53.0,426.8 52.0,426.5 51.0,426.7 50.0,426.5 49.0,426.5 48.0,426.8 47.0,426.8 46.0,426.3 45.0,426.2 44.0,426.6 43.0,425.9 42.0,425.9 41.0,426.1 40.0,425.9 39.0,426.1 38.0,425.9 37.0,425.8 36.0,425.9 35.0,425.5 34.0,425.2 33.0,425.7 32.0,425.4 31.0,425.3 30.0,425.5 29.0,424.9 28.0,425.1 27.0,424.8 26.0,424.6" fill="url(#gc)" />
<polygon points="35.0,417.6 36.0,417.9 37.0,417.4 38.0,417.5 39.0,417.2 40.0,417.1 41.0,416.8 42.0,416.8 43.0,417.3 44.0,417.2 45.0,416.9 46.0,417.0 47.0,417.1 48.0,416.9 49.0,417.3 50.0,416.9 51.0,417.0 52.0,416.7 53.0,417.4 54.0,417.2 55.0,417.4 56.0,417.1 57.0,417.3 58.0,417.3 59.0,417.3 60.0,417.6 61.0,417.6 62.0,417.5 63.0,417.2 64.0,417.4 65.0,417.5 66.0,417.3 67.0,417.3 68.0,417.3 69.0,417.0 70.0,417.1 71.0,417.3 72.0,416.9 73.0,417.0 74.0,417.0 75.0,416.7 75.9,416.8 76.9,416.5 77.9,416.6 78.9,416.5 79.9,416.5 80.9,416.5 81.9,416.5 82.9,416.4 83.9,416.0 84.9,416.5 85.9,416.2 86.9,416.0 87.9,416.0 88.9,416.0 89.9,415.8 90.9,415.8 91.9,415.7 92.9,415.8 93.9,415.5 94.9,415.6 95.9,415.5 96.9,415.3 97.9,415.4 98.9,415.2 99.9,414.9 100.9,415.0 101.9,414.9 102.9,414.8 103.9,414.7 104.9,414.9 105.9,414.5 106.9,414.5 107.9,414.3 108.9,414.4 109.9,414.1 110.9,413.9 111.9,413.7 112.9,413.9 113.9,413.8 114.9,413.3 115.9,413.4 116.9,413.4 117.9,413.4 118.9,412.9 119.9,413.0 120.9,413.0 121.9,412.7 122.9,412.6 123.9,412.4 124.9,412.2 125.9,412.2 126.9,412.1 127.9,411.7 128.9,411.8 129.9,411.8 130.9,411.5 131.9,411.4 132.9,411.1 133.9,411.2 134.9,410.8 135.9,411.1 136.9,410.7 137.9,410.5 138.9,410.4 139.9,410.4 140.9,410.2 141.9,410.0 142.9,409.9 143.9,409.9 144.9,409.7 145.9,409.4 146.9,409.4 147.9,408.8 148.9,408.6 149.9,408.4 150.9,408.4 151.9,407.8 152.9,407.6 153.9,407.7 154.9,407.5 155.9,407.2 156.9,406.5 157.8,406.4 158.8,406.3 159.8,405.9 160.8,405.4 161.8,405.3 162.8,404.8 163.8,404.6 164.8,404.9 165.8,404.4 166.8,403.8 167.8,403.6 168.8,403.6 169.8,403.2 170.8,403.2 171.8,402.7 172.8,402.6 173.8,402.4 174.8,402.0 175.8,401.6 176.8,401.5 177.8,401.4 178.8,401.2 179.8,401.0 180.8,400.8 181.8,400.7 182.8,400.3 183.8,400.4 184.8,400.2 185.8,399.8 186.8,399.5 187.8,399.4 188.8,399.1 189.8,398.8 190.8,398.5 191.8,398.2 192.8,397.9 193.8,397.9 194.8,397.8 195.8,397.2 196.8,397.1 197.8,396.8 198.8,396.5 199.8,396.1 200.8,395.9 201.8,395.4 202.8,395.3 203.8,395.0 204.8,395.0 205.8,394.5 206.8,394.0 207.8,393.7 208.8,393.6 209.8,393.2 210.8,392.7 211.8,392.3 212.8,391.8 213.8,391.6 214.8,391.3 215.8,390.9 216.8,391.0 217.8,390.2 218.8,390.2 219.8,390.0 220.8,389.7 221.8,389.7 222.8,388.9 223.8,388.7 224.8,388.6 225.8,388.3 226.8,388.0 227.8,387.6 228.8,387.6 229.8,387.0 230.8,386.7 231.8,386.7 232.8,386.4 233.8,385.9 234.8,385.3 235.8,385.0 236.8,384.6 237.8,384.2 238.8,384.0 239.7,383.9 240.7,383.4 241.7,382.8 242.7,382.5 243.7,382.0 244.7,382.0 245.7,381.2 246.7,381.1 247.7,380.5 248.7,380.1 249.7,379.7 250.7,379.6 251.7,379.1 252.7,379.1 253.7,378.1 254.7,377.7 255.7,377.6 256.7,377.2 257.7,376.6 258.7,376.0 259.7,376.1 260.7,375.5 261.7,375.1 262.7,374.6 263.7,374.3 264.7,373.8 265.7,373.4 266.7,373.0 267.7,372.8 268.7,372.2 269.7,371.8 270.7,371.6 271.7,371.0 272.7,370.6 273.7,370.2 274.7,370.0 275.7,369.3 276.7,369.1 277.7,368.9 278.7,368.3 279.7,367.7 280.7,367.3 281.7,367.1 282.7,366.5 283.7,366.0 284.7,365.8 285.7,365.3 286.7,365.2 287.7,364.4 288.7,364.5 289.7,363.7 290.7,363.4 291.7,363.0 292.7,362.5 293.7,362.1 294.7,361.4 295.7,360.8 296.7,360.6 297.7,360.0 298.7,359.7 299.7,359.5 300.7,358.9 301.7,358.4 302.7,357.9 303.7,357.6 304.7,357.2 305.7,356.5 306.7,356.4 307.7,355.8 308.7,355.5 309.7,355.0 310.7,354.8 311.7,354.4 312.7,353.8 313.7,353.4 314.7,353.0 315.7,352.7 316.7,352.3 317.7,351.7 318.7,351.3 319.7,351.0 320.6,350.1 321.6,350.0 322.6,349.3 323.6,349.2 324.6,348.4 325.6,348.0 326.6,347.4 327.6,347.1 328.6,346.7 329.6,346.4 330.6,345.5 331.6,345.1 332.6,345.3 333.6,344.3 334.6,343.7 335.6,343.3 336.6,342.3 337.6,342.4 338.6,341.7 339.6,341.0 340.6,340.9 341.6,340.1 342.6,339.5 343.6,339.2 344.6,338.7 345.6,338.1 346.6,337.6 347.6,336.9 348.6,336.4 349.6,336.2 350.6,335.7 351.6,335.1 352.6,334.6 353.6,333.9 354.6,333.4 355.6,332.8 356.6,332.7 357.6,331.8 358.6,331.4 359.6,330.8 360.6,330.1 361.6,330.0 362.6,329.1 363.6,328.5 364.6,328.1 365.6,327.4 366.6,327.0 367.6,326.3 368.6,326.0 369.6,325.4 370.6,324.6 371.6,324.5 372.6,323.8 373.6,323.0 374.6,322.7 375.6,322.2 376.6,321.8 377.6,320.9 378.6,320.6 379.6,319.9 380.6,319.5 381.6,318.8 382.6,318.3 383.6,317.8 384.6,317.0 385.6,316.4 386.6,316.1 387.6,315.5 388.6,315.1 389.6,314.6 390.6,313.9 391.6,313.6 392.6,312.9 393.6,312.3 394.6,311.9 395.6,311.3 396.6,310.7 397.6,310.1 398.6,309.4 399.6,308.9 400.6,308.5 401.6,308.0 402.5,307.3 403.5,306.9 404.5,306.5 405.5,306.0 406.5,305.1 407.5,304.7 408.5,304.0 409.5,303.5 410.5,302.9 411.5,302.3 412.5,301.8 413.5,301.1 414.5,300.5 415.5,300.0 416.5,299.4 417.5,299.0 418.5,298.3 419.5,297.8 420.5,297.3 421.5,296.4 422.5,295.9 423.5,295.4 424.5,294.8 425.5,294.1 426.5,293.8 427.5,293.1 428.5,292.3 429.5,292.2 430.5,291.2 431.5,290.8 432.5,290.1 433.5,289.7 434.5,289.2 435.5,288.4 436.5,287.9 437.5,287.3 438.5,286.6 439.5,286.4 440.5,285.7 441.5,285.0 442.5,284.4 442.5,372.9 441.5,373.2 440.5,372.9 439.5,373.0 438.5,373.0 437.5,373.0 436.5,373.1 435.5,372.7 434.5,373.1 433.5,373.0 432.5,373.1 431.5,373.1 430.5,373.0 429.5,372.8 428.5,372.9 427.5,373.0 426.5,372.8 425.5,373.3 424.5,373.0 423.5,372.8 422.5,373.1 421.5,373.1 420.5,373.0 419.5,373.1 418.5,372.8 417.5,372.8 416.5,372.7 415.5,372.8 414.5,372.9 413.5,372.9 412.5,372.5 411.5,372.8 410.5,372.8 409.5,372.6 408.5,372.3 407.5,372.7 406.5,372.5 405.5,372.8 404.5,372.6 403.5,372.7 402.5,372.4 401.6,372.7 400.6,372.4 399.6,372.4 398.6,372.7 397.6,372.9 396.6,372.4 395.6,372.4 394.6,372.6 393.6,372.3 392.6,372.3 391.6,372.3 390.6,372.5 389.6,372.6 388.6,372.5 387.6,372.6 386.6,372.8 385.6,372.7 384.6,372.8 383.6,372.8 382.6,372.8 381.6,372.8 380.6,372.7 379.6,372.9 378.6,372.8 377.6,373.0 376.6,372.9 375.6,372.6 374.6,373.2 373.6,372.9 372.6,372.9 371.6,373.1 370.6,373.5 369.6,373.0 368.6,373.0 367.6,373.2 366.6,373.1 365.6,373.0 364.6,373.3 363.6,373.3 362.6,373.4 361.6,373.4 360.6,373.2 359.6,373.5 358.6,373.3 357.6,373.7 356.6,373.6 355.6,373.6 354.6,373.6 353.6,373.4 352.6,373.6 351.6,373.9 350.6,373.8 349.6,373.8 348.6,373.7 347.6,373.7 346.6,373.7 345.6,374.0 344.6,374.0 343.6,373.9 342.6,374.5 341.6,374.4 340.6,374.4 339.6,374.0 338.6,374.4 337.6,374.4 336.6,374.3 335.6,374.6 334.6,374.7 333.6,375.0 332.6,374.9 331.6,374.9 330.6,374.8 329.6,374.8 328.6,375.1 327.6,375.4 326.6,375.3 325.6,375.8 324.6,375.4 323.6,375.7 322.6,375.8 321.6,375.8 320.6,376.1 319.7,376.4 318.7,376.2 317.7,376.6 316.7,376.4 315.7,376.9 314.7,377.0 313.7,376.9 312.7,376.9 311.7,377.5 310.7,377.3 309.7,377.4 308.7,377.8 307.7,377.9 306.7,378.0 305.7,378.3 304.7,378.7 303.7,378.4 302.7,378.6 301.7,378.6 300.7,378.9 299.7,378.9 298.7,379.1 297.7,379.3 296.7,379.1 295.7,379.1 294.7,379.5 293.7,379.3 292.7,379.2 291.7,379.7 290.7,379.6 289.7,379.7 288.7,380.1 287.7,379.9 286.7,380.1 285.7,380.1 284.7,380.2 283.7,380.2 282.7,380.5 281.7,380.7 280.7,380.6 279.7,380.7 278.7,381.0 277.7,381.0 276.7,380.9 275.7,381.3 274.7,381.5 273.7,381.4 272.7,381.6 271.7,381.6 270.7,381.6 269.7,381.9 268.7,382.4 267.7,382.1 266.7,382.3 265.7,382.6 264.7,382.3 263.7,382.7 262.7,383.1 261.7,383.0 260.7,383.3 259.7,383.4 258.7,383.6 257.7,383.6 256.7,384.0 255.7,384.1 254.7,384.5 253.7,384.3 252.7,384.7 251.7,384.8 250.7,385.0 249.7,385.6 248.7,385.7 247.7,385.8 246.7,386.0 245.7,385.9 244.7,386.6 243.7,386.3 242.7,386.8 241.7,387.0 240.7,387.4 239.7,387.4 238.8,387.4 237.8,388.3 236.8,388.2 235.8,388.6 234.8,388.7 233.8,389.0 232.8,389.2 231.8,389.3 230.8,389.7 229.8,389.8 228.8,390.3 227.8,390.0 226.8,390.5 225.8,390.8 224.8,391.1 223.8,391.1 222.8,391.5 221.8,391.6 220.8,391.8 219.8,391.9 218.8,392.5 217.8,392.8 216.8,393.1 215.8,393.1 214.8,393.5 213.8,393.6 212.8,393.8 211.8,394.3 210.8,394.5 209.8,394.6 208.8,394.7 207.8,395.1 206.8,395.4 205.8,395.7 204.8,395.7 203.8,395.9 202.8,396.4 201.8,396.5 200.8,396.9 199.8,396.8 198.8,397.4 197.8,397.5 196.8,397.9 195.8,397.9 194.8,398.0 193.8,398.2 192.8,398.5 191.8,398.6 190.8,399.1 189.8,399.2 188.8,399.9 187.8,399.6 186.8,399.7 185.8,400.4 184.8,400.2 183.8,400.8 182.8,401.0 181.8,401.1 180.8,401.3 179.8,401.8 178.8,401.9 177.8,402.2 176.8,402.6 175.8,402.4 174.8,402.5 173.8,403.2 172.8,403.2 171.8,403.3 170.8,403.3 169.8,403.9 168.8,404.2 167.8,404.5 166.8,405.0 165.8,404.8 164.8,405.1 163.8,405.5 162.8,405.7 161.8,405.8 160.8,406.3 159.8,406.5 158.8,406.8 157.8,407.1 156.9,407.4 155.9,407.7 154.9,407.6 153.9,408.1 152.9,408.4 151.9,408.7 150.9,408.8 149.9,409.2 148.9,409.3 147.9,409.7 146.9,409.7 145.9,410.0 144.9,410.3 143.9,410.3 142.9,410.8 141.9,410.8 140.9,411.1 139.9,411.1 138.9,411.3 137.9,411.4 136.9,411.6 135.9,412.1 134.9,412.1 133.9,412.1 132.9,412.5 131.9,412.8 130.9,413.1 129.9,413.2 128.9,413.4 127.9,413.5 126.9,413.7 125.9,414.0 124.9,414.2 123.9,414.5 122.9,414.7 121.9,415.1 120.9,415.2 119.9,415.4 118.9,415.4 117.9,415.8 116.9,416.0 115.9,416.1 114.9,416.1 113.9,416.8 112.9,416.9 111.9,416.9 110.9,417.0 109.9,416.7 108.9,417.2 107.9,417.2 106.9,417.6 105.9,418.0 104.9,417.8 103.9,418.1 102.9,418.2 101.9,418.4 100.9,418.7 99.9,418.9 98.9,418.6 97.9,418.9 96.9,419.1 95.9,419.4 94.9,419.1 93.9,419.3 92.9,419.3 91.9,419.5 90.9,419.5 89.9,419.8 88.9,419.9 87.9,419.7 86.9,420.1 85.9,420.0 84.9,420.2 83.9,420.6 82.9,420.3 81.9,420.4 80.9,420.4 79.9,420.4 78.9,420.6 77.9,420.6 76.9,420.7 75.9,420.7 75.0,420.5 74.0,420.6 73.0,420.7 72.0,420.8 71.0,420.5 70.0,420.7 69.0,420.7 68.0,420.9 67.0,420.5 66.0,420.9 65.0,420.8 64.0,420.5 63.0,420.8 62.0,420.7 61.0,420.8 60.0,420.9 59.0,420.7 58.0,420.8 57.0,420.3 56.0,420.7 55.0,420.4 54.0,420.3 53.0,420.4 52.0,420.4 51.0,420.4 50.0,420.3 49.0,420.3 48.0,420.1 47.0,420.1 46.0,419.9 45.0,419.8 44.0,419.5 43.0,419.4 42.0,419.0 41.0,419.1 40.0,418.6 39.0,418.3 38.0,418.7 37.0,418.2 36.0,418.1 35.0,417.8" fill="#f56e1e" />
</g>
<line x1="26.3" y1="402.3" x2="442.5" y2="402.3" stroke="#1c1c1c" stroke-width="0.55"/>
<line x1="151" y1="377.3" x2="151" y2="426.3" stroke="#5a5a5a" stroke-width="0.95"/>
<line x1="203.6" y1="377.3" x2="203.6" y2="426.3" stroke="#5a5a5a" stroke-width="0.95"/>
<polyline points="26.3,419.1 30.0,415.8 34.1,412.5 36.6,417.4 41.6,420.8 45.0,414.9 49.1,414.1 52.5,415.8 55.8,414.9 59.9,414.1 62.4,417.4 64.9,420.8 69.9,417.4 74.9,415.8 79.1,413.3 82.4,417.4 85.7,419.1 89.9,414.1 93.2,417.4 98.2,419.9 101.5,412.5 104.9,414.1 112.0,409.6" fill="none" stroke="#d9d9d9" stroke-width="0.7" stroke-linejoin="round"/>
<polyline points="112.0,409.7 112.5,411.2 113.0,412.4 113.5,413.3 114.0,413.8 114.5,413.7 115.0,413.1 115.5,412.2 116.0,411.1 116.5,410.2 117.0,409.6 117.5,409.6 118.0,410.1 118.5,410.9 119.0,411.8 119.5,412.6 120.0,413.1 120.5,413.3 121.0,413.6 121.5,413.8 122.0,414.0 122.5,414.1 123.0,414.1 123.5,414.0 124.0,413.7 124.5,413.3 125.0,412.7 125.5,412.2 126.0,411.6 126.5,411.1 127.0,410.7 127.5,410.3 128.0,409.9 128.5,409.5 129.0,409.1 129.5,408.7 130.0,408.5 130.5,408.3 131.0,408.3 131.5,408.7 132.0,409.2 132.5,409.8 133.0,410.4 133.5,410.8 134.0,410.9 134.5,410.5 135.0,409.7 135.5,408.7 136.0,407.8 136.5,407.1 137.0,406.8 137.5,406.8 138.0,406.9 138.5,407.0 139.0,407.1 139.5,407.2 140.0,407.4 140.5,407.9 141.0,408.9 141.5,410.0 142.0,410.9 142.5,411.5 143.0,411.5 143.5,411.4 144.0,411.3 144.5,411.1 145.0,410.9 145.5,410.6 146.0,410.4 146.5,410.1 147.0,409.6 147.5,409.0 148.0,408.3 148.5,407.6 149.0,407.0 149.5,406.5 150.0,406.1 150.5,406.0 151.0,406.2 151.5,406.6 152.0,407.1 152.5,407.7 153.0,408.1 153.5,408.3 154.0,408.0 154.5,407.3 155.0,406.2 155.5,405.0 156.0,403.9 156.5,403.1 157.0,402.5 157.5,401.9 158.1,401.3 158.6,401.0 159.1,400.9 159.6,401.5 160.1,402.6 160.6,403.9 161.1,405.1 161.6,405.7 162.1,405.9 162.6,406.0 163.1,406.0 163.6,406.1 164.1,406.1 164.6,406.1 165.1,405.6 165.6,404.8 166.1,403.8 166.6,402.8 167.1,402.1 167.6,401.8 168.1,401.5 168.6,401.3 169.1,401.1 169.6,401.0 170.1,400.9 170.6,400.8 171.1,400.8 171.6,400.9 172.1,401.1 172.6,401.3 173.1,401.5 173.6,401.9 174.1,402.4 174.6,403.0 175.1,403.4 175.6,403.6 176.1,403.3 176.6,402.4 177.1,401.3 177.6,400.1 178.1,399.2 178.6,398.8 179.1,398.9 179.6,399.0 180.1,399.2 180.6,399.4 181.1,399.6 181.6,399.8 182.1,399.9 182.6,399.9 183.1,400.0 183.6,400.1 184.1,400.2 184.6,400.5 185.1,401.1 185.6,401.9 186.1,402.7 186.6,403.3 187.1,403.5 187.6,403.2 188.1,402.6 188.6,401.7 189.1,400.9 189.6,400.3 190.1,399.8 190.6,399.3 191.1,398.8 191.6,398.3 192.1,398.1 192.6,398.0 193.1,398.4 193.6,399.1 194.1,399.9 194.6,400.5 195.1,400.7 195.6,400.8 196.1,400.9 196.6,400.9 197.1,401.0 197.6,401.0 198.1,401.0 198.6,400.9 199.1,400.8 199.6,400.7 200.1,400.5 200.6,400.3 201.1,400.1 201.6,399.9 202.1,399.6 202.6,399.3 203.1,398.8 203.6,398.4" fill="none" stroke="#332c2c" stroke-width="2.0" stroke-linejoin="round" stroke-linecap="round"/>
<polyline points="112.0,409.7 112.5,411.2 113.0,412.4 113.5,413.3 114.0,413.8 114.5,413.7 115.0,413.1 115.5,412.2 116.0,411.1 116.5,410.2 117.0,409.6 117.5,409.6 118.0,410.1 118.5,410.9 119.0,411.8 119.5,412.6 120.0,413.1 120.5,413.3 121.0,413.6 121.5,413.8 122.0,414.0 122.5,414.1 123.0,414.1 123.5,414.0 124.0,413.7 124.5,413.3 125.0,412.7 125.5,412.2 126.0,411.6 126.5,411.1 127.0,410.7 127.5,410.3 128.0,409.9 128.5,409.5 129.0,409.1 129.5,408.7 130.0,408.5 130.5,408.3 131.0,408.3 131.5,408.7 132.0,409.2 132.5,409.8 133.0,410.4 133.5,410.8 134.0,410.9 134.5,410.5 135.0,409.7 135.5,408.7 136.0,407.8 136.5,407.1 137.0,406.8 137.5,406.8 138.0,406.9 138.5,407.0 139.0,407.1 139.5,407.2 140.0,407.4 140.5,407.9 141.0,408.9 141.5,410.0 142.0,410.9 142.5,411.5 143.0,411.5 143.5,411.4 144.0,411.3 144.5,411.1 145.0,410.9 145.5,410.6 146.0,410.4 146.5,410.1 147.0,409.6 147.5,409.0 148.0,408.3 148.5,407.6 149.0,407.0 149.5,406.5 150.0,406.1 150.5,406.0 151.0,406.2 151.5,406.6 152.0,407.1 152.5,407.7 153.0,408.1 153.5,408.3 154.0,408.0 154.5,407.3 155.0,406.2 155.5,405.0 156.0,403.9 156.5,403.1 157.0,402.5 157.5,401.9 158.1,401.3 158.6,401.0 159.1,400.9 159.6,401.5 160.1,402.6 160.6,403.9 161.1,405.1 161.6,405.7 162.1,405.9 162.6,406.0 163.1,406.0 163.6,406.1 164.1,406.1 164.6,406.1 165.1,405.6 165.6,404.8 166.1,403.8 166.6,402.8 167.1,402.1 167.6,401.8 168.1,401.5 168.6,401.3 169.1,401.1 169.6,401.0 170.1,400.9 170.6,400.8 171.1,400.8 171.6,400.9 172.1,401.1 172.6,401.3 173.1,401.5 173.6,401.9 174.1,402.4 174.6,403.0 175.1,403.4 175.6,403.6 176.1,403.3 176.6,402.4 177.1,401.3 177.6,400.1 178.1,399.2 178.6,398.8 179.1,398.9 179.6,399.0 180.1,399.2 180.6,399.4 181.1,399.6 181.6,399.8 182.1,399.9 182.6,399.9 183.1,400.0 183.6,400.1 184.1,400.2 184.6,400.5 185.1,401.1 185.6,401.9 186.1,402.7 186.6,403.3 187.1,403.5 187.6,403.2 188.1,402.6 188.6,401.7 189.1,400.9 189.6,400.3 190.1,399.8 190.6,399.3 191.1,398.8 191.6,398.3 192.1,398.1 192.6,398.0 193.1,398.4 193.6,399.1 194.1,399.9 194.6,400.5 195.1,400.7 195.6,400.8 196.1,400.9 196.6,400.9 197.1,401.0 197.6,401.0 198.1,401.0 198.6,400.9 199.1,400.8 199.6,400.7 200.1,400.5 200.6,400.3 201.1,400.1 201.6,399.9 202.1,399.6 202.6,399.3 203.1,398.8 203.6,398.4" fill="none" stroke="#a89494" stroke-width="0.75" stroke-linejoin="round"/>
<polyline points="203.6,398.4 206.2,394.9 209.1,391.8 211.9,394.4 215.0,396.2" fill="none" stroke="#c4c4c4" stroke-width="0.7" stroke-linejoin="round"/>
<path d="M493.1 260.5H675.6" fill="none" stroke="#1a1a1a" stroke-width="1"/>
<g clip-path="url(#cd)">
<rect x="494" y="260.5" width="182.25" height="176.5" fill="#7ffcf7"/>
<polygon points="494.0,395.3 495.0,393.7 496.0,390.4 497.0,385.4 498.0,381.2 499.0,377.3 500.0,374.6 501.0,372.6 502.0,369.4 503.0,366.2 504.0,362.8 505.0,359.8 506.0,357.2 507.0,354.3 508.0,352.0 509.0,349.6 510.0,347.2 511.0,345.0 512.0,342.8 513.0,340.7 514.0,338.0 515.0,334.7 516.0,331.7 517.0,328.9 518.0,326.5 519.0,324.2 520.0,322.4 521.0,319.9 522.0,317.1 523.0,314.8 524.0,312.4 525.0,310.4 526.0,308.2 527.0,306.3 528.0,304.3 529.0,302.4 530.0,300.8 531.0,299.6 532.0,298.0 533.0,297.0 534.0,295.9 535.0,294.6 536.0,293.7 537.0,292.7 538.0,291.7 539.0,290.6 540.0,289.7 541.0,288.8 542.0,288.1 543.0,287.1 544.0,286.2 545.0,285.1 546.0,284.5 547.0,283.6 548.0,282.9 549.0,282.2 550.0,281.6 551.0,280.9 552.0,280.3 553.0,279.6 554.0,279.2 555.0,278.4 556.0,278.0 557.0,277.6 558.0,276.9 559.0,276.6 560.0,276.1 561.0,275.8 562.0,275.2 563.0,274.4 564.0,274.1 565.0,273.7 566.0,273.3 567.0,272.8 568.0,272.6 569.0,272.0 570.0,271.4 571.0,271.0 572.0,270.5 573.0,270.6 574.0,270.0 575.0,269.7 576.0,269.2 577.0,269.1 578.0,268.9 579.0,268.5 580.0,268.3 581.0,268.0 582.0,268.0 583.0,267.5 584.0,267.2 585.0,267.0 586.0,266.9 587.0,266.7 588.0,266.5 589.0,266.2 590.0,266.2 591.0,266.1 592.0,265.7 593.0,266.0 594.0,265.8 595.0,265.2 596.0,265.3 597.0,265.3 598.0,265.3 599.0,265.2 600.0,264.6 601.0,264.6 602.0,264.6 603.0,264.6 604.0,264.3 605.0,264.4 606.0,264.3 607.0,264.2 608.0,263.9 609.0,264.0 610.0,263.9 611.0,263.7 612.0,263.9 613.0,263.6 614.0,263.7 615.0,263.4 616.0,263.6 617.0,263.5 618.0,263.2 619.0,263.2 620.0,263.1 621.0,262.9 622.0,263.1 623.0,263.0 624.0,262.7 625.0,262.8 626.0,262.8 627.0,262.6 628.0,262.5 629.0,262.7 630.0,262.3 631.0,262.4 632.0,262.5 633.0,262.4 634.0,262.0 635.0,262.2 636.0,262.1 637.0,262.1 638.0,262.1 639.0,262.1 640.0,262.0 641.0,262.0 642.0,262.1 643.0,262.0 644.0,261.6 645.0,262.1 646.0,261.7 647.0,261.9 648.0,261.5 649.0,261.6 650.0,261.5 651.0,261.8 652.0,261.7 653.0,261.6 654.0,261.5 655.0,261.6 656.0,261.4 657.0,261.4 658.0,261.4 659.0,261.5 660.0,261.4 661.0,261.2 662.0,261.4 663.0,261.4 664.0,261.5 665.0,261.2 666.0,261.3 667.0,261.5 668.0,261.2 669.0,261.2 670.0,261.3 671.0,261.2 672.0,261.2 673.0,261.1 674.0,261.1 675.0,261.3 676.0,261.2 676.0,437.0 675.0,437.0 674.0,437.0 673.0,437.0 672.0,437.0 671.0,437.0 670.0,437.0 669.0,437.0 668.0,437.0 667.0,437.0 666.0,437.0 665.0,437.0 664.0,437.0 663.0,437.0 662.0,437.0 661.0,437.0 660.0,437.0 659.0,437.0 658.0,437.0 657.0,437.0 656.0,437.0 655.0,437.0 654.0,437.0 653.0,437.0 652.0,437.0 651.0,437.0 650.0,437.0 649.0,437.0 648.0,437.0 647.0,437.0 646.0,437.0 645.0,437.0 644.0,437.0 643.0,437.0 642.0,437.0 641.0,437.0 640.0,437.0 639.0,437.0 638.0,437.0 637.0,437.0 636.0,437.0 635.0,437.0 634.0,437.0 633.0,437.0 632.0,437.0 631.0,437.0 630.0,437.0 629.0,437.0 628.0,437.0 627.0,437.0 626.0,437.0 625.0,437.0 624.0,437.0 623.0,437.0 622.0,437.0 621.0,437.0 620.0,437.0 619.0,437.0 618.0,437.0 617.0,437.0 616.0,437.0 615.0,437.0 614.0,437.0 613.0,437.0 612.0,437.0 611.0,437.0 610.0,437.0 609.0,437.0 608.0,437.0 607.0,437.0 606.0,437.0 605.0,437.0 604.0,437.0 603.0,437.0 602.0,437.0 601.0,437.0 600.0,437.0 599.0,437.0 598.0,437.0 597.0,437.0 596.0,437.0 595.0,437.0 594.0,437.0 593.0,437.0 592.0,437.0 591.0,437.0 590.0,437.0 589.0,437.0 588.0,437.0 587.0,437.0 586.0,437.0 585.0,437.0 584.0,437.0 583.0,437.0 582.0,437.0 581.0,437.0 580.0,437.0 579.0,437.0 578.0,437.0 577.0,437.0 576.0,437.0 575.0,437.0 574.0,437.0 573.0,437.0 572.0,437.0 571.0,437.0 570.0,437.0 569.0,437.0 568.0,437.0 567.0,437.0 566.0,437.0 565.0,437.0 564.0,437.0 563.0,437.0 562.0,437.0 561.0,437.0 560.0,437.0 559.0,437.0 558.0,437.0 557.0,437.0 556.0,437.0 555.0,437.0 554.0,437.0 553.0,437.0 552.0,437.0 551.0,437.0 550.0,437.0 549.0,437.0 548.0,437.0 547.0,437.0 546.0,437.0 545.0,437.0 544.0,437.0 543.0,437.0 542.0,437.0 541.0,437.0 540.0,437.0 539.0,437.0 538.0,437.0 537.0,437.0 536.0,437.0 535.0,437.0 534.0,437.0 533.0,437.0 532.0,437.0 531.0,437.0 530.0,437.0 529.0,437.0 528.0,437.0 527.0,437.0 526.0,437.0 525.0,437.0 524.0,437.0 523.0,437.0 522.0,437.0 521.0,437.0 520.0,437.0 519.0,437.0 518.0,437.0 517.0,437.0 516.0,437.0 515.0,437.0 514.0,437.0 513.0,437.0 512.0,437.0 511.0,437.0 510.0,437.0 509.0,437.0 508.0,437.0 507.0,437.0 506.0,437.0 505.0,437.0 504.0,437.0 503.0,437.0 502.0,437.0 501.0,437.0 500.0,437.0 499.0,437.0 498.0,437.0 497.0,437.0 496.0,437.0 495.0,437.0 494.0,437.0" fill="#f56e1e" />
<polygon points="493.2,395.6 494.2,395.6 495.2,393.3 496.2,389.5 497.2,384.7 498.2,380.8 499.2,376.3 500.2,374.2 501.2,371.5 502.2,369.4 503.2,365.9 504.2,362.3 505.2,360.3 506.2,358.7 507.2,356.7 508.2,355.2 509.2,353.2 510.2,349.7 511.2,348.2 512.2,345.1 513.2,342.3 514.2,340.5 515.2,338.2 516.2,335.9 517.2,334.0 518.2,333.2 519.2,331.3 520.2,330.8 521.2,330.1 522.2,328.9 523.2,327.7 524.0,326.1 526.1,324.6 528.2,322.9 530.3,319.5 532.4,319.0 534.6,319.5 536.7,315.9 538.8,317.1 540.9,316.8 543.0,317.0 545.1,315.5 547.2,317.1 549.3,316.2 551.5,319.0 553.6,318.6 555.7,321.2 557.8,321.8 559.9,323.9 562.0,324.1 564.1,326.9 566.2,328.4 568.4,329.0 570.5,331.4 572.6,331.6 574.7,333.1 576.8,334.3 578.9,336.8 581.0,336.5 583.1,338.3 585.3,339.7 587.4,341.5 589.5,342.2 591.6,343.7 593.7,344.4 595.8,345.1 597.9,346.9 600.0,349.0 602.2,348.6 604.3,353.0 606.4,352.9 608.5,354.5 610.6,356.3 612.7,357.2 614.8,357.5 616.9,359.6 619.1,361.9 621.2,362.7 623.3,363.9 625.4,363.5 627.5,364.6 629.6,366.3 631.7,367.4 633.8,367.1 636.0,367.1 638.1,367.2 640.2,370.6 642.3,369.2 644.4,371.4 646.5,372.3 648.6,374.7 650.7,372.9 652.9,373.1 655.0,374.1 657.1,374.7 659.2,375.9 661.3,375.9 663.4,375.3 665.5,374.7 667.6,376.9 669.8,376.4 671.9,378.4 674.0,377.2 676.0,379.9 676,437 493.25,437" fill="url(#gd)"/>
</g>
<rect x="26.00" y="23.50" width="415.50" height="176.00" fill="none" stroke="#1a1a1a" stroke-width="1.00"/><path d="M53.90 199.50v-2.9M53.90 23.50v2.9M109.30 199.50v-2.9M109.30 23.50v2.9M164.70 199.50v-2.9M164.70 23.50v2.9M220.10 199.50v-2.9M220.10 23.50v2.9M275.50 199.50v-2.9M275.50 23.50v2.9M330.90 199.50v-2.9M330.90 23.50v2.9M386.30 199.50v-2.9M386.30 23.50v2.9M441.70 199.50v-2.9M441.70 23.50v2.9M26.00 186.93h2.9M441.50 186.93h-2.9M26.00 161.79h2.9M441.50 161.79h-2.9M26.00 136.65h2.9M441.50 136.65h-2.9M26.00 111.51h2.9M441.50 111.51h-2.9M26.00 86.37h2.9M441.50 86.37h-2.9M26.00 61.23h2.9M441.50 61.23h-2.9M26.00 36.09h2.9M441.50 36.09h-2.9" stroke="#1a1a1a" stroke-width="0.90" fill="none"/>
<rect x="26.30" y="259.60" width="416.20" height="176.60" fill="none" stroke="#4a4a4a" stroke-width="0.80"/><path d="M53.90 436.20v-5.8M53.90 259.60v5.8M109.30 436.20v-5.8M109.30 259.60v5.8M164.70 436.20v-5.8M164.70 259.60v5.8M220.10 436.20v-5.8M220.10 259.60v5.8M275.50 436.20v-5.8M275.50 259.60v5.8M330.90 436.20v-5.8M330.90 259.60v5.8M386.30 436.20v-5.8M386.30 259.60v5.8M441.70 436.20v-5.8M441.70 259.60v5.8M26.30 423.60h5.8M442.50 423.60h-5.8M26.30 398.36h5.8M442.50 398.36h-5.8M26.30 373.12h5.8M442.50 373.12h-5.8M26.30 347.88h5.8M442.50 347.88h-5.8M26.30 322.64h5.8M442.50 322.64h-5.8M26.30 297.40h5.8M442.50 297.40h-5.8M26.30 272.16h5.8M442.50 272.16h-5.8" stroke="#4a4a4a" stroke-width="0.75" fill="none"/>
<path d="M506.75 199.50v-2.9M506.75 23.50v2.9M549.00 199.50v-2.9M549.00 23.50v2.9M591.25 199.50v-2.9M591.25 23.50v2.9M633.50 199.50v-2.9M633.50 23.50v2.9M675.75 199.50v-2.9M675.75 23.50v2.9M493.60 199.50h2.9M675.60 199.50h-2.9M493.60 181.90h2.9M675.60 181.90h-2.9M493.60 164.30h2.9M675.60 164.30h-2.9M493.60 146.70h2.9M675.60 146.70h-2.9M493.60 129.10h2.9M675.60 129.10h-2.9M493.60 111.50h2.9M675.60 111.50h-2.9M493.60 93.90h2.9M675.60 93.90h-2.9M493.60 76.30h2.9M675.60 76.30h-2.9M493.60 58.70h2.9M675.60 58.70h-2.9M493.60 41.10h2.9M675.60 41.10h-2.9M493.60 23.50h2.9M675.60 23.50h-2.9" stroke="#1a1a1a" stroke-width="0.90" fill="none"/>
<path d="M493.1 199.5H675.6V23" fill="none" stroke="#1a1a1a" stroke-width="1"/>
<path d="M506.75 436.50v-2.9M506.75 260.50v2.9M549.00 436.50v-2.9M549.00 260.50v2.9M591.25 436.50v-2.9M591.25 260.50v2.9M633.50 436.50v-2.9M633.50 260.50v2.9M675.75 436.50v-2.9M675.75 260.50v2.9M493.60 436.00h2.9M675.60 436.00h-2.9M493.60 418.45h2.9M675.60 418.45h-2.9M493.60 400.90h2.9M675.60 400.90h-2.9M493.60 383.35h2.9M675.60 383.35h-2.9M493.60 365.80h2.9M675.60 365.80h-2.9M493.60 348.25h2.9M675.60 348.25h-2.9M493.60 330.70h2.9M675.60 330.70h-2.9M493.60 313.15h2.9M675.60 313.15h-2.9M493.60 295.60h2.9M675.60 295.60h-2.9M493.60 278.05h2.9M675.60 278.05h-2.9M493.60 260.50h2.9M675.60 260.50h-2.9" stroke="#1a1a1a" stroke-width="0.90" fill="none"/>
<path d="M493.1 436.5H675.6V260" fill="none" stroke="#1a1a1a" stroke-width="1"/>
<g font-family='"Liberation Serif", "DejaVu Serif", serif' fill="#0c0c0c">
<g font-size="7.9" text-anchor="middle">
<text x="53.9" y="207.6">1960</text>
<text x="53.9" y="443.8">1960</text>
<text x="109.3" y="207.6">1980</text>
<text x="109.3" y="443.8">1980</text>
<text x="164.7" y="207.6">2000</text>
<text x="164.7" y="443.8">2000</text>
<text x="220.1" y="207.6">2020</text>
<text x="220.1" y="443.8">2020</text>
<text x="275.5" y="207.6">2040</text>
<text x="275.5" y="443.8">2040</text>
<text x="330.9" y="207.6">2060</text>
<text x="330.9" y="443.8">2060</text>
<text x="386.3" y="207.6">2080</text>
<text x="386.3" y="443.8">2080</text>
<text x="441.7" y="207.6">2100</text>
<text x="441.7" y="443.8">2100</text>
<text x="506.8" y="207.6">2020</text>
<text x="506.8" y="443.8">2020</text>
<text x="549.0" y="207.6">2040</text>
<text x="549.0" y="443.8">2040</text>
<text x="591.2" y="207.6">2060</text>
<text x="591.2" y="443.8">2060</text>
<text x="633.5" y="207.6">2080</text>
<text x="633.5" y="443.8">2080</text>
<text x="675.8" y="207.6">2100</text>
<text x="675.8" y="443.8">2100</text>
<g font-size="8.3"><text x="234.5" y="218.1">Year</text><text x="585.3" y="218.1">Year</text>
<text x="234.5" y="453.6">Year</text><text x="585.3" y="453.6">Year</text></g>
</g>
<g font-size="7.9" text-anchor="end">
<text x="23.4" y="189.6">0</text>
<text x="23.4" y="426.3">0</text>
<text x="23.4" y="164.5">1</text>
<text x="23.4" y="401.1">1</text>
<text x="23.4" y="139.3">2</text>
<text x="23.4" y="375.8">2</text>
<text x="23.4" y="114.2">3</text>
<text x="23.4" y="350.6">3</text>
<text x="23.4" y="89.1">4</text>
<text x="23.4" y="325.3">4</text>
<text x="23.4" y="63.9">5</text>
<text x="23.4" y="300.1">5</text>
<text x="23.4" y="38.8">6</text>
<text x="23.4" y="274.9">6</text>
<text x="491.3" y="202.8">0</text>
<text x="491.3" y="439.5">0</text>
<text x="491.3" y="185.2">10</text>
<text x="491.3" y="421.9">10</text>
<text x="491.3" y="167.6">20</text>
<text x="491.3" y="404.4">20</text>
<text x="491.3" y="150.0">30</text>
<text x="491.3" y="386.9">30</text>
<text x="491.3" y="132.4">40</text>
<text x="491.3" y="369.3">40</text>
<text x="491.3" y="114.8">50</text>
<text x="491.3" y="351.8">50</text>
<text x="491.3" y="97.2">60</text>
<text x="491.3" y="334.2">60</text>
<text x="491.3" y="79.6">70</text>
<text x="491.3" y="316.6">70</text>
<text x="491.3" y="62.0">80</text>
<text x="491.3" y="299.1">80</text>
<text x="491.3" y="44.4">90</text>
<text x="491.3" y="281.5">90</text>
<text x="491.3" y="26.8">100</text>
<text x="491.3" y="264.0">100</text>
</g>
<g font-size="7.8" text-anchor="middle">
<text transform="translate(7.4 111.2) rotate(-90)" textLength="80.8" lengthAdjust="spacingAndGlyphs">Temperature Change (°C)</text>
<text transform="translate(15.8 110.7) rotate(-90)" textLength="114.8" lengthAdjust="spacingAndGlyphs">relative to preindustrial [1850-1880]</text>
<text transform="translate(7.4 347.4) rotate(-90)" textLength="80.8" lengthAdjust="spacingAndGlyphs">Temperature Change (°C)</text>
<text transform="translate(15.8 347.1) rotate(-90)" textLength="115.2" lengthAdjust="spacingAndGlyphs">relative to preindustrial [1850-1880]</text>
<text transform="translate(467.1 112.2) rotate(-90)" textLength="71.4" lengthAdjust="spacingAndGlyphs">Fractional contribution</text>
<text transform="translate(475.3 111.3) rotate(-90)" textLength="61" lengthAdjust="spacingAndGlyphs">to total variance (%)</text>
<text transform="translate(467.1 348.7) rotate(-90)" textLength="71.4" lengthAdjust="spacingAndGlyphs">Fractional contribution</text>
<text transform="translate(475.3 347.8) rotate(-90)" textLength="61" lengthAdjust="spacingAndGlyphs">to total variance (%)</text>
</g>
<text x="205.6" y="12" font-size="10.92" textLength="281.6" lengthAdjust="spacingAndGlyphs">EBM-KF Fractional Uncertainty of GMST in Future Projections</text>
<text x="126.3" y="252" font-size="10.92" textLength="430" lengthAdjust="spacingAndGlyphs">CMIP6 (31 model) Uncertainty Assessment following Hawkins &amp; Sutton 2009, Lehner et al. 2020</text>
<g font-size="19"><text x="33.5" y="14.3">a)</text><text x="611.6" y="14.2">b)</text><text x="33.6" y="253.8">c)</text><text x="610.4" y="254">d)</text></g>
<rect x="30.6" y="28.8" width="125.2" height="95.7" rx="2.5" fill="#fff" fill-opacity="0.85" stroke="#d0d0d0" stroke-width="0.7"/>
<rect x="35" y="39.5" width="23" height="8.2" fill="#7ffcf7"/>
<rect x="35" y="62.2" width="23" height="8.4" fill="#5cf07d"/>
<rect x="35" y="78.8" width="23" height="8.2" fill="#1b2a6b"/>
<rect x="35" y="94.5" width="23" height="8.2" fill="#ff33a2"/>
<circle cx="46.3" cy="114.5" r="0.8" fill="#555"/>
<g font-size="11.1">
<text y="47.0"><tspan x="66.7">Forecast</tspan><tspan x="106.7">(</tspan><tspan x="110.7">±</tspan><tspan x="117.7">2</tspan><tspan x="135.1" font-style="italic">ŝ</tspan><tspan x="140.7" dy="-4.8" font-size="8.2" font-style="italic">T</tspan><tspan x="140.4" dy="6.9" font-size="8" font-style="italic">t</tspan><tspan x="147.1" dy="-2.1">)</tspan></text><text transform="translate(122.9 48.9) scale(0.9 1)" font-size="18.4">√</text><path d="M131.1 34.6H146.9" stroke="#111" stroke-width="0.7" fill="none"/>
<text y="69.5"><tspan x="66.7">State</tspan><tspan x="91.7">(</tspan><tspan x="95.7">±</tspan><tspan x="102.7">2</tspan><tspan x="120.1" font-style="italic">p̂</tspan><tspan x="125.7" dy="-4.8" font-size="8.2" font-style="italic">T</tspan><tspan x="125.4" dy="6.9" font-size="8" font-style="italic">t</tspan><tspan x="132.1" dy="-2.1">)</tspan></text><text transform="translate(107.9 71.4) scale(0.9 1)" font-size="18.4">√</text><path d="M116.1 57.1H131.9" stroke="#111" stroke-width="0.7" fill="none"/>
<text x="66.7" y="87">Model Param</text>
<text x="66.7" y="102.5">Volcanoes</text>
<text x="66.7" y="118">Obs. (HadCRUT5)</text>
</g>
<rect x="31.2" y="264.6" width="139.8" height="94.9" rx="2.5" fill="#fff" fill-opacity="0.85" stroke="#d0d0d0" stroke-width="0.7"/>
<rect x="35.4" y="270.5" width="22.8" height="8.3" fill="#7ffcf7"/>
<rect x="35.8" y="285.4" width="22" height="8" fill="url(#gl)" stroke="#5cf07d" stroke-width="0.8"/>
<rect x="35.4" y="300.5" width="22.8" height="8.3" fill="#1b2a6b"/>
<rect x="35.4" y="314.5" width="22.8" height="8.2" fill="#f56e1e"/>
<path d="M57.6 343.9H80" stroke="#2e2e2e" stroke-width="2.4"/><path d="M58 343.9H80" stroke="#888" stroke-width="0.6"/>
<path d="M57.6 354.3H80" stroke="#8c8c8c" stroke-width="0.8"/>
<g font-size="11">
<text x="66.7" y="278">Internal Variability</text>
<text x="66.7" y="292.2">Aligned Uncertainty</text>
<text x="66.7" y="307.5">Model (ESM)</text>
<text x="66.7" y="321.2">Scenario (4)</text>
<text x="66.7" y="335.6">Obs. (Berkeley Earth):</text>
<text x="84.5" y="346.4">weighting models</text>
<text x="84.5" y="356.8">others</text>
</g>
<text x="132.5" y="372.6" font-size="12.5">Alignment Period</text>
</g>
</svg>
</body></html>
